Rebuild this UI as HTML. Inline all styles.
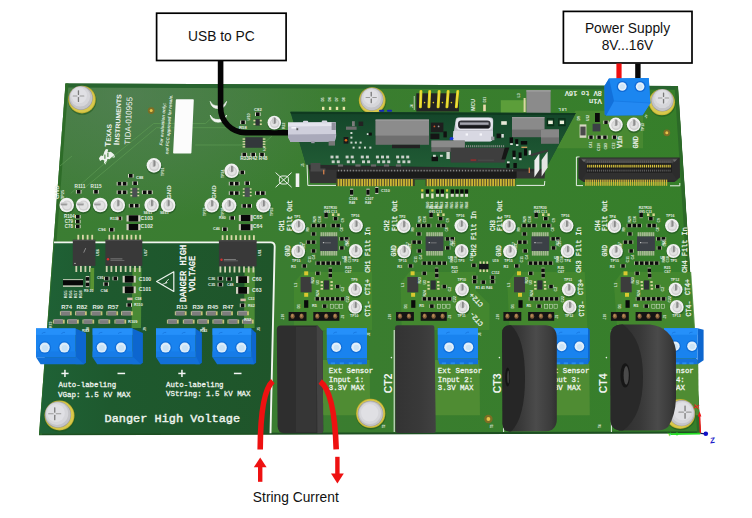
<!DOCTYPE html><html><head><meta charset="utf-8"><title>TIDA-010955 block diagram</title><style>html,body{margin:0;padding:0;background:#fff;overflow:hidden}svg{display:block}</style></head><body><svg width="752" height="518" viewBox="0 0 752 518">
<defs>
<linearGradient id="pcbg" x1="0" y1="0" x2="1" y2="0"><stop offset="0" stop-color="#3b7d33"/><stop offset="0.5" stop-color="#3a7d2f"/><stop offset="1" stop-color="#367f2a"/></linearGradient>
<radialGradient id="hl" gradientUnits="userSpaceOnUse" cx="130" cy="158" r="215" gradientTransform="scale(1 0.6)"><stop offset="0" stop-color="#64826e" stop-opacity="0.5"/><stop offset="0.5" stop-color="#64826e" stop-opacity="0.28"/><stop offset="1" stop-color="#64826e" stop-opacity="0"/></radialGradient>
<linearGradient id="hvg" x1="0" y1="0" x2="1" y2="0"><stop offset="0" stop-color="#1f6236"/><stop offset="0.3" stop-color="#1e592e"/><stop offset="1" stop-color="#1f552a"/></linearGradient>
<linearGradient id="ctg" x1="0" y1="0" x2="1" y2="0"><stop offset="0" stop-color="#262626"/><stop offset="0.55" stop-color="#2f2f2f"/><stop offset="0.85" stop-color="#3e3e3e"/><stop offset="1" stop-color="#2c2c2c"/></linearGradient>
<linearGradient id="ctg2" x1="0" y1="0" x2="1" y2="0"><stop offset="0" stop-color="#3a3a3a"/><stop offset="0.5" stop-color="#4a4a4a"/><stop offset="1" stop-color="#2e2e2e"/></linearGradient>
</defs>
<rect x="0.0" y="0.0" width="752.0" height="518.0" fill="#ffffff" />
<polygon points="65.5,83.6 677.8,86.0 700.6,433.0 39.0,434.8" fill="url(#pcbg)" />
<polygon points="65.5,83.6 677.8,86.0 700.6,433.0 39.0,434.8" fill="url(#hl)" />
<polyline points="39.0,434.3 700.6,432.5" stroke="#1d4f22" stroke-width="2" fill="none"/>
<polyline points="677.1999999999999,86.0 700.0,433.0" stroke="#255f25" stroke-width="1.6" fill="none"/>
<polygon points="65.5,83.6 677.8,86.0 678.0,89.8 65.2,87.4" fill="#28642f" />
<polygon points="677.8,86.0 700.6,433.0 697.2,433.0 674.6,86.0" fill="#2c6a28" />
<polygon points="65.5,83.6 39.0,434.8 42.0,434.8 68.5,83.6" fill="#2d6c28" />
<polygon points="54.5,242.4 270.7,242.4 274.7,246.4 270.5,433.3 39.5,433.6" fill="url(#hvg)" />
<path d="M54.0,242.4 L270.7,242.4 Q274.7,242.4 274.7,246.4 L270.5,433.3" stroke="#f2f5f0" stroke-width="1.9" fill="none"/>
<circle cx="82.3" cy="100.6" r="14.2" fill="#1f561c" opacity="0.55"/>
<circle cx="82.0" cy="99.6" r="13.8" fill="#bfae2e" />
<circle cx="82.0" cy="99.6" r="13.0" fill="#d8c84c" />
<circle cx="80.9" cy="98.0" r="11.9" fill="#9a9a9a" />
<circle cx="80.9" cy="98.0" r="11.4" fill="#c4c4c8" />
<circle cx="80.1" cy="96.6" r="10.0" fill="#d6d6da" />
<circle cx="79.2" cy="95.4" r="7.8" fill="#e0e0e4" />
<rect x="77.8" y="90.2" width="1.3" height="4.9" fill="#7a7a7a" rx="0.5"/>
<rect x="77.8" y="97.1" width="1.3" height="4.9" fill="#7a7a7a" rx="0.5"/>
<rect x="72.6" y="95.5" width="4.9" height="1.1" fill="#9a9a9a" rx="0.5"/>
<rect x="79.5" y="95.5" width="4.9" height="1.1" fill="#9a9a9a" rx="0.5"/>
<text x="110.6" y="146.8" font-family="Liberation Sans,sans-serif" font-size="6.6" fill="#f0f4f0" font-weight="bold" transform="rotate(-87.4 110.6 146.8)" textLength="22.6" lengthAdjust="spacingAndGlyphs"><tspan font-size="8.2">T</tspan>EXAS</text>
<text x="119.2" y="145.2" font-family="Liberation Sans,sans-serif" font-size="6.6" fill="#f0f4f0" font-weight="bold" transform="rotate(-87.4 119.2 145.2)" textLength="51.0" lengthAdjust="spacingAndGlyphs"><tspan font-size="8.2">I</tspan>NSTRUMENTS</text>
<text x="130.2" y="144.7" font-family="Liberation Sans,sans-serif" font-size="8.3" fill="#f0f4f0" transform="rotate(-87.4 130.2 144.7)" textLength="47.7" lengthAdjust="spacingAndGlyphs">TIDA-010955</text>
<polygon points="98.9,158.2 101.0,155.4 103.0,156.1 104.3,151.7 105.9,148.9 108.2,149.6 107.5,152.5 110.8,151.7 112.7,153.3 115.1,155.4 114.3,157.7 111.9,157.3 109.8,159.3 107.5,159.0 106.5,162.2 105.4,164.6 103.9,163.5 104.3,160.6 102.2,159.8 100.1,160.9" fill="#eef3ee"/>
<rect x="104.4" y="154.6" width="1.0" height="4.2" fill="#3a7a33" />
<rect x="107.4" y="153.0" width="1.0" height="4.0" fill="#3a7a33" />
<circle cx="151.2" cy="110.6" r="3.4" fill="#7d6e24" />
<circle cx="151.2" cy="110.6" r="1.5" fill="#e8c24a" />
<g stroke="#5c9a52" stroke-width="0.9" fill="none" opacity="0.8"><path d="M70.7,193.4 L101.9,165.7 L153.7,123.5 L205.6,123.5 L212.5,117"/><path d="M78,193.4 L107,169.2 L156.5,127.7 L243.6,127.7"/><path d="M195.2,145 L262,145 L272,136"/><path d="M60,166 L72,156"/></g>
<polygon points="176.6,100.0 193.0,100.0 190.6,152.7 173.9,152.7" fill="#fcfcfc" stroke="#fcfcfc" stroke-width="1.6" stroke-linejoin="round"/>
<text x="162.6" y="145.6" font-family="Liberation Sans,sans-serif" font-size="4.5" fill="#e3ede3" text-anchor="start" font-weight="bold" transform="rotate(-85.8 162.6 145.6)" font-style="italic" textLength="42.6" lengthAdjust="spacingAndGlyphs">For evaluation only;</text>
<text x="168.2" y="154.2" font-family="Liberation Sans,sans-serif" font-size="4.5" fill="#e3ede3" text-anchor="start" font-weight="bold" transform="rotate(-85.8 168.2 154.2)" font-style="italic" textLength="59.4" lengthAdjust="spacingAndGlyphs">not FCC approved for resale.</text>
<path d="M210.2,101.4 Q211.4,108.60000000000001 218.2,108.60000000000001 Q225.2,108.60000000000001 226.6,101.4 Q224.4,106.0 218.2,106.0 Q212.4,106.0 210.2,101.4 Z" fill="#f3f6f3" stroke="#f3f6f3" stroke-width="0.7" stroke-linejoin="round"/>
<path d="M210.2,115.0 Q211.4,122.2 218.2,122.2 Q225.2,122.2 226.6,115.0 Q224.4,119.6 218.2,119.6 Q212.4,119.6 210.2,115.0 Z" fill="#f3f6f3" stroke="#f3f6f3" stroke-width="0.7" stroke-linejoin="round"/>
<rect x="156.6" y="13.2" width="129.5" height="47.3" fill="#ffffff" stroke="#000" stroke-width="1.7"/>
<text x="221.4" y="41.4" font-family="Liberation Sans,sans-serif" font-size="13.8" fill="#111" text-anchor="middle" font-weight="normal" >USB to PC</text>
<path d="M220.6,60 L220.6,107.7 A25,25 0 0 0 245.6,132.7 L290,132.7" stroke="#050505" stroke-width="5.6" fill="none"/>
<rect x="563.4" y="11.4" width="128.6" height="51.6" fill="#ffffff" stroke="#000" stroke-width="1.7"/>
<text x="627.5" y="32.6" font-family="Liberation Sans,sans-serif" font-size="13.8" fill="#111" text-anchor="middle" font-weight="normal" >Power Supply</text>
<text x="627.5" y="50.2" font-family="Liberation Sans,sans-serif" font-size="13.8" fill="#111" text-anchor="middle" font-weight="normal" >8V...16V</text>
<rect x="616.4" y="63.5" width="5.2" height="16.0" fill="#f01010" />
<rect x="635.2" y="63.5" width="5.4" height="16.0" fill="#080808" />
<circle cx="67.0" cy="205.9" r="8.0" fill="#1c4f1e" opacity="0.55"/>
<circle cx="66.7" cy="205.0" r="7.3" fill="#f1f1f1" />
<circle cx="67.1" cy="205.7" r="5.1" fill="#cfcfcf" />
<circle cx="66.9" cy="205.4" r="3.8" fill="#e2e2e2" />
<rect x="60.5" y="202.4" width="7.0" height="3.4" fill="#b9b9b9" rx="1.6"/>
<rect x="61.1" y="203.5" width="5.6" height="1.2" fill="#8f8f8f" />
<rect x="60.7" y="202.4" width="6.4" height="1.0" fill="#d6d6d6" rx="0.5"/>
<circle cx="83.5" cy="205.9" r="8.0" fill="#1c4f1e" opacity="0.55"/>
<circle cx="83.2" cy="205.0" r="7.3" fill="#f1f1f1" />
<circle cx="83.6" cy="205.7" r="5.1" fill="#cfcfcf" />
<circle cx="83.4" cy="205.4" r="3.8" fill="#e2e2e2" />
<rect x="77.0" y="202.4" width="7.0" height="3.4" fill="#b9b9b9" rx="1.6"/>
<rect x="77.6" y="203.5" width="5.6" height="1.2" fill="#8f8f8f" />
<rect x="77.2" y="202.4" width="6.4" height="1.0" fill="#d6d6d6" rx="0.5"/>
<circle cx="100.5" cy="205.9" r="8.0" fill="#1c4f1e" opacity="0.55"/>
<circle cx="100.2" cy="205.0" r="7.3" fill="#f1f1f1" />
<circle cx="100.6" cy="205.7" r="5.1" fill="#cfcfcf" />
<circle cx="100.4" cy="205.4" r="3.8" fill="#e2e2e2" />
<rect x="94.0" y="202.4" width="7.0" height="3.4" fill="#b9b9b9" rx="1.6"/>
<rect x="94.6" y="203.5" width="5.6" height="1.2" fill="#8f8f8f" />
<rect x="94.2" y="202.4" width="6.4" height="1.0" fill="#d6d6d6" rx="0.5"/>
<circle cx="118.1" cy="205.9" r="8.0" fill="#1c4f1e" opacity="0.55"/>
<circle cx="117.8" cy="205.0" r="7.3" fill="#f1f1f1" />
<circle cx="118.2" cy="205.7" r="5.1" fill="#cfcfcf" />
<circle cx="118.0" cy="205.4" r="3.8" fill="#e2e2e2" />
<rect x="115.9" y="199.6" width="3.8" height="6.8" fill="#a6a6a6" rx="1.7"/>
<rect x="117.3" y="200.2" width="1.5" height="5.6" fill="#8a8a8a" rx="0.6"/>
<rect x="116.0" y="199.8" width="1.2" height="6.2" fill="#d9d9d9" rx="0.6"/>
<circle cx="151.9" cy="205.9" r="8.0" fill="#1c4f1e" opacity="0.55"/>
<circle cx="151.6" cy="205.0" r="7.3" fill="#f1f1f1" />
<circle cx="152.0" cy="205.7" r="5.1" fill="#cfcfcf" />
<circle cx="151.8" cy="205.4" r="3.8" fill="#e2e2e2" />
<rect x="149.7" y="199.6" width="3.8" height="6.8" fill="#a6a6a6" rx="1.7"/>
<rect x="151.1" y="200.2" width="1.5" height="5.6" fill="#8a8a8a" rx="0.6"/>
<rect x="149.8" y="199.8" width="1.2" height="6.2" fill="#d9d9d9" rx="0.6"/>
<circle cx="168.4" cy="205.9" r="8.0" fill="#1c4f1e" opacity="0.55"/>
<circle cx="168.1" cy="205.0" r="7.3" fill="#f1f1f1" />
<circle cx="168.5" cy="205.7" r="5.1" fill="#cfcfcf" />
<circle cx="168.3" cy="205.4" r="3.8" fill="#e2e2e2" />
<rect x="166.2" y="199.6" width="3.8" height="6.8" fill="#a6a6a6" rx="1.7"/>
<rect x="167.6" y="200.2" width="1.5" height="5.6" fill="#8a8a8a" rx="0.6"/>
<rect x="166.3" y="199.8" width="1.2" height="6.2" fill="#d9d9d9" rx="0.6"/>
<circle cx="154.2" cy="166.3" r="8.0" fill="#1c4f1e" opacity="0.55"/>
<circle cx="153.9" cy="165.4" r="7.3" fill="#f1f1f1" />
<circle cx="154.3" cy="166.1" r="5.1" fill="#cfcfcf" />
<circle cx="154.1" cy="165.8" r="3.8" fill="#e2e2e2" />
<rect x="152.0" y="160.0" width="3.8" height="6.8" fill="#a6a6a6" rx="1.7"/>
<rect x="153.4" y="160.6" width="1.5" height="5.6" fill="#8a8a8a" rx="0.6"/>
<rect x="152.1" y="160.2" width="1.2" height="6.2" fill="#d9d9d9" rx="0.6"/>
<rect x="75.9" y="190.0" width="5.6" height="3.6" fill="#d8d8c8" />
<rect x="76.9" y="190.0" width="3.6" height="3.6" fill="#0b0b0b" />
<rect x="93.2" y="190.0" width="5.6" height="3.6" fill="#d8d8c8" />
<rect x="94.2" y="190.0" width="3.6" height="3.6" fill="#0b0b0b" />
<rect x="116.7" y="181.9" width="5.6" height="3.6" fill="#d8d8c8" />
<rect x="117.7" y="181.9" width="3.6" height="3.6" fill="#0b0b0b" />
<rect x="121.8" y="181.9" width="5.6" height="3.6" fill="#d8d8c8" />
<rect x="122.8" y="181.9" width="3.6" height="3.6" fill="#0b0b0b" />
<rect x="116.7" y="190.5" width="5.6" height="3.6" fill="#d8d8c8" />
<rect x="117.7" y="190.5" width="3.6" height="3.6" fill="#0b0b0b" />
<rect x="121.8" y="190.5" width="5.6" height="3.6" fill="#d8d8c8" />
<rect x="122.8" y="190.5" width="3.6" height="3.6" fill="#0b0b0b" />
<rect x="128.0" y="174.0" width="5.6" height="3.6" fill="#d8d8c8" />
<rect x="129.0" y="174.0" width="3.6" height="3.6" fill="#0b0b0b" />
<rect x="132.3" y="181.4" width="5.6" height="3.6" fill="#d8d8c8" />
<rect x="133.3" y="181.4" width="3.6" height="3.6" fill="#0b0b0b" />
<rect x="141.9" y="190.5" width="5.6" height="3.6" fill="#d8d8c8" />
<rect x="142.9" y="190.5" width="3.6" height="3.6" fill="#0b0b0b" />
<rect x="147.1" y="190.5" width="5.6" height="3.6" fill="#d8d8c8" />
<rect x="148.1" y="190.5" width="3.6" height="3.6" fill="#0b0b0b" />
<rect x="128.8" y="203.9" width="5.6" height="3.6" fill="#d8d8c8" />
<rect x="129.8" y="203.9" width="3.6" height="3.6" fill="#0b0b0b" />
<rect x="134.0" y="203.9" width="5.6" height="3.6" fill="#d8d8c8" />
<rect x="135.0" y="203.9" width="3.6" height="3.6" fill="#0b0b0b" />
<rect x="116.7" y="216.6" width="5.6" height="3.6" fill="#d8d8c8" />
<rect x="117.7" y="216.6" width="3.6" height="3.6" fill="#0b0b0b" />
<rect x="108.9" y="227.9" width="5.6" height="3.6" fill="#d8d8c8" />
<rect x="109.9" y="227.9" width="3.6" height="3.6" fill="#0b0b0b" />
<rect x="75.0" y="215.0" width="5.6" height="3.4" fill="#d8d8c8" />
<rect x="76.0" y="215.0" width="3.6" height="3.4" fill="#0b0b0b" />
<rect x="75.0" y="219.9" width="5.6" height="3.4" fill="#d8d8c8" />
<rect x="76.0" y="219.9" width="3.6" height="3.4" fill="#0b0b0b" />
<rect x="75.0" y="224.8" width="5.6" height="3.4" fill="#d8d8c8" />
<rect x="76.0" y="224.8" width="3.6" height="3.4" fill="#0b0b0b" />
<rect x="132.2" y="187.8" width="5.2" height="9.4" fill="#4a4f52" />
<rect x="130.4" y="188.3" width="1.8" height="1.4" fill="#d9d7a8" />
<rect x="137.4" y="188.3" width="1.8" height="1.4" fill="#d9d7a8" />
<rect x="130.4" y="191.6" width="1.8" height="1.4" fill="#d9d7a8" />
<rect x="137.4" y="191.6" width="1.8" height="1.4" fill="#d9d7a8" />
<rect x="130.4" y="194.9" width="1.8" height="1.4" fill="#d9d7a8" />
<rect x="137.4" y="194.9" width="1.8" height="1.4" fill="#d9d7a8" />
<rect x="126.5" y="215.3" width="13.9" height="6.2" fill="#cfcfbf" />
<rect x="128.7" y="215.3" width="9.5" height="6.2" fill="#080808" />
<rect x="126.5" y="224.0" width="13.9" height="6.2" fill="#cfcfbf" />
<rect x="128.7" y="224.0" width="9.5" height="6.2" fill="#080808" />
<text x="59.0" y="199.0" font-family="Liberation Sans,sans-serif" font-size="6.14" fill="#e4ece4" text-anchor="start" font-weight="bold" transform="rotate(-90 59.0 199.0)" >GND</text>
<text x="63.5" y="199.0" font-family="Liberation Sans,sans-serif" font-size="3.78" fill="#e4ece4" text-anchor="start" font-weight="bold" transform="rotate(-90 63.5 199.0)" >TP25</text>
<text x="74.6" y="188.2" font-family="Liberation Sans,sans-serif" font-size="4.72" fill="#e4ece4" text-anchor="start" font-weight="bold" >R111</text>
<text x="90.6" y="188.2" font-family="Liberation Sans,sans-serif" font-size="4.72" fill="#e4ece4" text-anchor="start" font-weight="bold" >R115</text>
<text x="140.5" y="219.6" font-family="Liberation Sans,sans-serif" font-size="5.19" fill="#e4ece4" text-anchor="start" font-weight="bold" >C103</text>
<text x="140.5" y="228.4" font-family="Liberation Sans,sans-serif" font-size="5.19" fill="#e4ece4" text-anchor="start" font-weight="bold" >C102</text>
<text x="98.0" y="231.0" font-family="Liberation Sans,sans-serif" font-size="4.25" fill="#e4ece4" text-anchor="start" font-weight="bold" >C96</text>
<text x="110.0" y="219.6" font-family="Liberation Sans,sans-serif" font-size="3.78" fill="#e4ece4" text-anchor="start" font-weight="bold" >R138</text>
<text x="64.0" y="218.4" font-family="Liberation Sans,sans-serif" font-size="4.48" fill="#e4ece4" text-anchor="start" font-weight="bold" >R104</text>
<text x="64.8" y="223.4" font-family="Liberation Sans,sans-serif" font-size="4.48" fill="#e4ece4" text-anchor="start" font-weight="bold" >C79</text>
<text x="64.8" y="228.2" font-family="Liberation Sans,sans-serif" font-size="4.48" fill="#e4ece4" text-anchor="start" font-weight="bold" >C78</text>
<text x="136.0" y="179.0" font-family="Liberation Sans,sans-serif" font-size="4.01" fill="#e4ece4" text-anchor="start" font-weight="bold" >C88</text>
<text x="160.0" y="214.0" font-family="Liberation Sans,sans-serif" font-size="3.54" fill="#e4ece4" text-anchor="start" font-weight="bold" >SE61</text>
<text x="143.5" y="214.0" font-family="Liberation Sans,sans-serif" font-size="3.54" fill="#e4ece4" text-anchor="start" font-weight="bold" >SE61</text>
<text x="163.5" y="176.0" font-family="Liberation Sans,sans-serif" font-size="3.54" fill="#e4ece4" text-anchor="start" font-weight="bold" transform="rotate(-90 163.5 176.0)" >TP31</text>
<text x="170.5" y="199.0" font-family="Liberation Sans,sans-serif" font-size="6.14" fill="#e4ece4" text-anchor="start" font-weight="bold" transform="rotate(-90 170.5 199.0)" >GND</text>
<circle cx="212.0" cy="206.2" r="8.0" fill="#1c4f1e" opacity="0.55"/>
<circle cx="211.7" cy="205.3" r="7.3" fill="#f1f1f1" />
<circle cx="212.1" cy="206.0" r="5.1" fill="#cfcfcf" />
<circle cx="211.9" cy="205.7" r="3.8" fill="#e2e2e2" />
<rect x="209.8" y="199.9" width="3.8" height="6.8" fill="#a6a6a6" rx="1.7"/>
<rect x="211.2" y="200.5" width="1.5" height="5.6" fill="#8a8a8a" rx="0.6"/>
<rect x="209.9" y="200.1" width="1.2" height="6.2" fill="#d9d9d9" rx="0.6"/>
<circle cx="229.4" cy="206.2" r="8.0" fill="#1c4f1e" opacity="0.55"/>
<circle cx="229.1" cy="205.3" r="7.3" fill="#f1f1f1" />
<circle cx="229.5" cy="206.0" r="5.1" fill="#cfcfcf" />
<circle cx="229.3" cy="205.7" r="3.8" fill="#e2e2e2" />
<rect x="227.2" y="199.9" width="3.8" height="6.8" fill="#a6a6a6" rx="1.7"/>
<rect x="228.6" y="200.5" width="1.5" height="5.6" fill="#8a8a8a" rx="0.6"/>
<rect x="227.3" y="200.1" width="1.2" height="6.2" fill="#d9d9d9" rx="0.6"/>
<circle cx="263.7" cy="206.2" r="8.0" fill="#1c4f1e" opacity="0.55"/>
<circle cx="263.4" cy="205.3" r="7.3" fill="#f1f1f1" />
<circle cx="263.8" cy="206.0" r="5.1" fill="#cfcfcf" />
<circle cx="263.6" cy="205.7" r="3.8" fill="#e2e2e2" />
<rect x="261.5" y="199.9" width="3.8" height="6.8" fill="#a6a6a6" rx="1.7"/>
<rect x="262.9" y="200.5" width="1.5" height="5.6" fill="#8a8a8a" rx="0.6"/>
<rect x="261.6" y="200.1" width="1.2" height="6.2" fill="#d9d9d9" rx="0.6"/>
<circle cx="231.9" cy="171.7" r="8.0" fill="#1c4f1e" opacity="0.55"/>
<circle cx="231.6" cy="170.8" r="7.3" fill="#f1f1f1" />
<circle cx="232.0" cy="171.5" r="5.1" fill="#cfcfcf" />
<circle cx="231.8" cy="171.2" r="3.8" fill="#e2e2e2" />
<rect x="229.7" y="165.4" width="3.8" height="6.8" fill="#a6a6a6" rx="1.7"/>
<rect x="231.1" y="166.0" width="1.5" height="5.6" fill="#8a8a8a" rx="0.6"/>
<rect x="229.8" y="165.6" width="1.2" height="6.2" fill="#d9d9d9" rx="0.6"/>
<rect x="241.5" y="152.8" width="5.6" height="3.6" fill="#d8d8c8" />
<rect x="242.5" y="152.8" width="3.6" height="3.6" fill="#0b0b0b" />
<rect x="250.4" y="152.8" width="5.6" height="3.6" fill="#d8d8c8" />
<rect x="251.4" y="152.8" width="3.6" height="3.6" fill="#0b0b0b" />
<rect x="259.2" y="152.8" width="5.6" height="3.6" fill="#d8d8c8" />
<rect x="260.2" y="152.8" width="3.6" height="3.6" fill="#0b0b0b" />
<rect x="239.5" y="170.6" width="5.6" height="3.6" fill="#d8d8c8" />
<rect x="240.5" y="170.6" width="3.6" height="3.6" fill="#0b0b0b" />
<rect x="228.8" y="181.8" width="5.6" height="3.6" fill="#d8d8c8" />
<rect x="229.8" y="181.8" width="3.6" height="3.6" fill="#0b0b0b" />
<rect x="234.0" y="181.8" width="5.6" height="3.6" fill="#d8d8c8" />
<rect x="235.0" y="181.8" width="3.6" height="3.6" fill="#0b0b0b" />
<rect x="228.8" y="191.3" width="5.6" height="3.6" fill="#d8d8c8" />
<rect x="229.8" y="191.3" width="3.6" height="3.6" fill="#0b0b0b" />
<rect x="234.0" y="191.3" width="5.6" height="3.6" fill="#d8d8c8" />
<rect x="235.0" y="191.3" width="3.6" height="3.6" fill="#0b0b0b" />
<rect x="244.4" y="181.4" width="5.6" height="3.6" fill="#d8d8c8" />
<rect x="245.4" y="181.4" width="3.6" height="3.6" fill="#0b0b0b" />
<rect x="255.1" y="191.3" width="5.6" height="3.6" fill="#d8d8c8" />
<rect x="256.1" y="191.3" width="3.6" height="3.6" fill="#0b0b0b" />
<rect x="260.0" y="191.3" width="5.6" height="3.6" fill="#d8d8c8" />
<rect x="261.0" y="191.3" width="3.6" height="3.6" fill="#0b0b0b" />
<rect x="241.5" y="204.1" width="5.6" height="3.6" fill="#d8d8c8" />
<rect x="242.5" y="204.1" width="3.6" height="3.6" fill="#0b0b0b" />
<rect x="246.4" y="204.1" width="5.6" height="3.6" fill="#d8d8c8" />
<rect x="247.4" y="204.1" width="3.6" height="3.6" fill="#0b0b0b" />
<rect x="229.4" y="216.2" width="5.6" height="3.6" fill="#d8d8c8" />
<rect x="230.4" y="216.2" width="3.6" height="3.6" fill="#0b0b0b" />
<rect x="222.1" y="227.4" width="5.6" height="3.6" fill="#d8d8c8" />
<rect x="223.1" y="227.4" width="3.6" height="3.6" fill="#0b0b0b" />
<rect x="244.6" y="187.6" width="5.2" height="9.4" fill="#4a4f52" />
<rect x="242.8" y="188.3" width="1.8" height="1.4" fill="#d9d7a8" />
<rect x="249.8" y="188.3" width="1.8" height="1.4" fill="#d9d7a8" />
<rect x="242.8" y="191.6" width="1.8" height="1.4" fill="#d9d7a8" />
<rect x="249.8" y="191.6" width="1.8" height="1.4" fill="#d9d7a8" />
<rect x="242.8" y="194.9" width="1.8" height="1.4" fill="#d9d7a8" />
<rect x="249.8" y="194.9" width="1.8" height="1.4" fill="#d9d7a8" />
<rect x="238.8" y="214.9" width="13.9" height="6.2" fill="#cfcfbf" />
<rect x="240.9" y="214.9" width="9.5" height="6.2" fill="#080808" />
<rect x="238.8" y="224.1" width="13.9" height="6.2" fill="#cfcfbf" />
<rect x="240.9" y="224.1" width="9.5" height="6.2" fill="#080808" />
<text x="215.8" y="199.0" font-family="Liberation Sans,sans-serif" font-size="6.14" fill="#e4ece4" text-anchor="start" font-weight="bold" transform="rotate(-90 215.8 199.0)" >GND</text>
<text x="252.8" y="219.2" font-family="Liberation Sans,sans-serif" font-size="5.19" fill="#e4ece4" text-anchor="start" font-weight="bold" >C65</text>
<text x="252.8" y="228.4" font-family="Liberation Sans,sans-serif" font-size="5.19" fill="#e4ece4" text-anchor="start" font-weight="bold" >C64</text>
<text x="219.0" y="219.2" font-family="Liberation Sans,sans-serif" font-size="3.78" fill="#e4ece4" text-anchor="start" font-weight="bold" >R80</text>
<text x="213.0" y="230.4" font-family="Liberation Sans,sans-serif" font-size="3.78" fill="#e4ece4" text-anchor="start" font-weight="bold" >C46</text>
<text x="240.2" y="160.4" font-family="Liberation Sans,sans-serif" font-size="4.72" fill="#e4ece4" text-anchor="start" font-weight="bold" >R33R42 R48</text>
<text x="206.0" y="216.0" font-family="Liberation Sans,sans-serif" font-size="3.54" fill="#e4ece4" text-anchor="start" font-weight="bold" transform="rotate(-90 206.0 216.0)" >TP23</text>
<text x="223.5" y="216.0" font-family="Liberation Sans,sans-serif" font-size="3.54" fill="#e4ece4" text-anchor="start" font-weight="bold" transform="rotate(-90 223.5 216.0)" >TP26</text>
<text x="273.0" y="216.0" font-family="Liberation Sans,sans-serif" font-size="3.54" fill="#e4ece4" text-anchor="start" font-weight="bold" transform="rotate(-90 273.0 216.0)" >TP33</text>
<text x="224.0" y="178.0" font-family="Liberation Sans,sans-serif" font-size="3.54" fill="#e4ece4" text-anchor="start" font-weight="bold" transform="rotate(-90 224.0 178.0)" >TP24</text>
<rect x="245.2" y="137.2" width="17.6" height="10.6" fill="#33383b" />
<rect x="242.6" y="138.4" width="2.6" height="1.3" fill="#d9d7a8" />
<rect x="262.8" y="138.4" width="2.6" height="1.3" fill="#d9d7a8" />
<rect x="242.6" y="141.0" width="2.6" height="1.3" fill="#d9d7a8" />
<rect x="262.8" y="141.0" width="2.6" height="1.3" fill="#d9d7a8" />
<rect x="242.6" y="143.6" width="2.6" height="1.3" fill="#d9d7a8" />
<rect x="262.8" y="143.6" width="2.6" height="1.3" fill="#d9d7a8" />
<rect x="242.6" y="146.2" width="2.6" height="1.3" fill="#d9d7a8" />
<rect x="262.8" y="146.2" width="2.6" height="1.3" fill="#d9d7a8" />
<rect x="240.2" y="120.5" width="5.6" height="3.6" fill="#d8d8c8" />
<rect x="241.2" y="120.5" width="3.6" height="3.6" fill="#0b0b0b" />
<rect x="255.0" y="112.4" width="5.6" height="3.6" fill="#d8d8c8" />
<rect x="256.0" y="112.4" width="3.6" height="3.6" fill="#0b0b0b" />
<rect x="255.4" y="119.2" width="4.4" height="6.4" fill="#2e3236" />
<rect x="253.4" y="119.8" width="2.0" height="1.6" fill="#d9d7a0" />
<rect x="259.8" y="119.8" width="2.0" height="1.6" fill="#d9d7a0" />
<rect x="253.4" y="123.4" width="2.0" height="1.6" fill="#d9d7a0" />
<rect x="259.8" y="123.4" width="2.0" height="1.6" fill="#d9d7a0" />
<text x="239.0" y="128.6" font-family="Liberation Sans,sans-serif" font-size="4.25" fill="#e4ece4" text-anchor="start" font-weight="bold" >R58</text>
<text x="250.4" y="120.5" font-family="Liberation Sans,sans-serif" font-size="4.01" fill="#e4ece4" text-anchor="start" font-weight="bold" transform="rotate(-90 250.4 120.5)" >U10</text>
<text x="254.0" y="111.0" font-family="Liberation Sans,sans-serif" font-size="4.25" fill="#e4ece4" text-anchor="start" font-weight="bold" >C82</text>
<circle cx="274.6" cy="123.5" r="7.5" fill="#1c4f1e" opacity="0.55"/>
<circle cx="274.3" cy="122.6" r="6.8" fill="#f1f1f1" />
<circle cx="274.7" cy="123.3" r="4.8" fill="#cfcfcf" />
<circle cx="274.5" cy="123.0" r="3.5" fill="#e2e2e2" />
<rect x="272.4" y="117.2" width="3.8" height="6.8" fill="#a6a6a6" rx="1.7"/>
<rect x="273.8" y="117.8" width="1.5" height="5.6" fill="#8a8a8a" rx="0.6"/>
<rect x="272.5" y="117.4" width="1.2" height="6.2" fill="#d9d9d9" rx="0.6"/>
<text x="284.5" y="129.0" font-family="Liberation Sans,sans-serif" font-size="3.54" fill="#e4ece4" text-anchor="start" font-weight="bold" transform="rotate(-90 284.5 129.0)" >R22</text>
<text x="265.0" y="151.5" font-family="Liberation Sans,sans-serif" font-size="3.3" fill="#e4ece4" text-anchor="start" font-weight="bold" transform="rotate(-70 265.0 151.5)" >U7</text>
<g stroke="#e9efe9" stroke-width="1.0" fill="none"><path d="M275.6,172.6 L291.6,187.2"/><path d="M291.6,172.6 L275.6,187.2"/><rect x="279.4" y="176.0" width="9" height="8" rx="2.5"/></g>
<rect x="295.7" y="173.4" width="3.6" height="13.6" fill="#f2f2f2" />
<polygon points="132.5,268.0 141.5,268.0 141.0,328.0 131.6,328.0" fill="#4a8a35" />
<polygon points="244.6,268.0 255.0,268.0 254.6,328.0 244.0,328.0" fill="#4a8a35" />
<rect x="77.4" y="234.8" width="1.8" height="5.4" fill="#d9d7a8" />
<rect x="82.0" y="234.8" width="1.8" height="5.4" fill="#d9d7a8" />
<rect x="86.7" y="234.8" width="1.8" height="5.4" fill="#d9d7a8" />
<rect x="91.3" y="234.8" width="1.8" height="5.4" fill="#d9d7a8" />
<rect x="75.4" y="265.5" width="1.8" height="6.5" fill="#cfcfb0" />
<rect x="80.0" y="265.5" width="1.8" height="6.5" fill="#cfcfb0" />
<rect x="84.5" y="265.5" width="1.8" height="6.5" fill="#cfcfb0" />
<rect x="89.1" y="265.5" width="1.8" height="6.5" fill="#cfcfb0" />
<rect x="72.8" y="239.8" width="22.6" height="26.1" fill="#393939" />
<rect x="72.8" y="239.8" width="22.6" height="1.2" fill="#4a4a4a" />
<circle cx="75.0" cy="263.4" r="0.6" fill="#ddd" />
<rect x="84.5" y="248.0" width="0.8" height="5.0" fill="#999" transform="rotate(25 85 250)"/>
<rect x="108.4" y="234.8" width="1.8" height="5.4" fill="#d9d7a8" />
<rect x="112.8" y="234.8" width="1.8" height="5.4" fill="#d9d7a8" />
<rect x="117.2" y="234.8" width="1.8" height="5.4" fill="#d9d7a8" />
<rect x="121.6" y="234.8" width="1.8" height="5.4" fill="#d9d7a8" />
<rect x="126.1" y="234.8" width="1.8" height="5.4" fill="#d9d7a8" />
<rect x="130.5" y="234.8" width="1.8" height="5.4" fill="#d9d7a8" />
<rect x="134.9" y="234.8" width="1.8" height="5.4" fill="#d9d7a8" />
<rect x="139.3" y="234.8" width="1.8" height="5.4" fill="#d9d7a8" />
<rect x="105.8" y="265.5" width="1.8" height="6.5" fill="#cfcfb0" />
<rect x="110.5" y="265.5" width="1.8" height="6.5" fill="#cfcfb0" />
<rect x="115.2" y="265.5" width="1.8" height="6.5" fill="#cfcfb0" />
<rect x="119.9" y="265.5" width="1.8" height="6.5" fill="#cfcfb0" />
<rect x="124.7" y="265.5" width="1.8" height="6.5" fill="#cfcfb0" />
<rect x="129.4" y="265.5" width="1.8" height="6.5" fill="#cfcfb0" />
<rect x="134.1" y="265.5" width="1.8" height="6.5" fill="#cfcfb0" />
<rect x="138.8" y="265.5" width="1.8" height="6.5" fill="#cfcfb0" />
<rect x="105.4" y="239.8" width="36.9" height="26.1" fill="#393939" />
<rect x="105.4" y="239.8" width="36.9" height="1.2" fill="#4a4a4a" />
<circle cx="108.0" cy="259.3" r="1.2" fill="#d83030" />
<rect x="110.4" y="258.5" width="12.0" height="0.8" fill="#8a8a8a" />
<rect x="110.4" y="260.0" width="14.0" height="0.7" fill="#777" />
<rect x="221.7" y="235.2" width="1.8" height="5.4" fill="#d9d7a8" />
<rect x="226.2" y="235.2" width="1.8" height="5.4" fill="#d9d7a8" />
<rect x="230.6" y="235.2" width="1.8" height="5.4" fill="#d9d7a8" />
<rect x="235.1" y="235.2" width="1.8" height="5.4" fill="#d9d7a8" />
<rect x="239.6" y="235.2" width="1.8" height="5.4" fill="#d9d7a8" />
<rect x="244.1" y="235.2" width="1.8" height="5.4" fill="#d9d7a8" />
<rect x="248.5" y="235.2" width="1.8" height="5.4" fill="#d9d7a8" />
<rect x="253.0" y="235.2" width="1.8" height="5.4" fill="#d9d7a8" />
<rect x="219.5" y="266.0" width="1.8" height="6.5" fill="#cfcfb0" />
<rect x="224.2" y="266.0" width="1.8" height="6.5" fill="#cfcfb0" />
<rect x="228.9" y="266.0" width="1.8" height="6.5" fill="#cfcfb0" />
<rect x="233.6" y="266.0" width="1.8" height="6.5" fill="#cfcfb0" />
<rect x="238.4" y="266.0" width="1.8" height="6.5" fill="#cfcfb0" />
<rect x="243.1" y="266.0" width="1.8" height="6.5" fill="#cfcfb0" />
<rect x="247.8" y="266.0" width="1.8" height="6.5" fill="#cfcfb0" />
<rect x="252.5" y="266.0" width="1.8" height="6.5" fill="#cfcfb0" />
<rect x="218.9" y="240.2" width="37.7" height="26.2" fill="#393939" />
<rect x="218.9" y="240.2" width="37.7" height="1.2" fill="#4a4a4a" />
<circle cx="221.5" cy="259.8" r="1.2" fill="#d83030" />
<rect x="223.9" y="259.0" width="12.0" height="0.8" fill="#8a8a8a" />
<rect x="223.9" y="260.5" width="14.0" height="0.7" fill="#777" />
<text x="98.5" y="256.0" font-family="Liberation Sans,sans-serif" font-size="3.78" fill="#e4ece4" text-anchor="start" font-weight="bold" transform="rotate(-90 98.5 256.0)" >U16</text>
<text x="146.5" y="256.0" font-family="Liberation Sans,sans-serif" font-size="3.78" fill="#e4ece4" text-anchor="start" font-weight="bold" transform="rotate(-90 146.5 256.0)" >U17</text>
<text x="261.0" y="256.0" font-family="Liberation Sans,sans-serif" font-size="3.78" fill="#e4ece4" text-anchor="start" font-weight="bold" transform="rotate(-90 261.0 256.0)" >U11</text>
<polygon points="90.4,268.0 94.2,268.0 94.0,290.0 90.2,290.0" fill="#5a9432" />
<rect x="63.0" y="279.2" width="20.0" height="1.2" fill="#d8d8c8" />
<rect x="63.0" y="285.2" width="20.0" height="1.6" fill="#d8d8c8" />
<rect x="63.0" y="280.2" width="20.0" height="5.1" fill="#080808" />
<text x="67.4" y="298.2" font-family="Liberation Sans,sans-serif" font-size="4.25" fill="#e4ece4" text-anchor="start" font-weight="bold" transform="rotate(-90 67.4 298.2)" >R55</text>
<text x="72.4" y="298.2" font-family="Liberation Sans,sans-serif" font-size="4.25" fill="#e4ece4" text-anchor="start" font-weight="bold" transform="rotate(-90 72.4 298.2)" >R56</text>
<text x="77.4" y="298.2" font-family="Liberation Sans,sans-serif" font-size="4.25" fill="#e4ece4" text-anchor="start" font-weight="bold" transform="rotate(-90 77.4 298.2)" >R57</text>
<text x="82.4" y="298.2" font-family="Liberation Sans,sans-serif" font-size="4.25" fill="#e4ece4" text-anchor="start" font-weight="bold" transform="rotate(-90 82.4 298.2)" >R58</text>
<rect x="85.7" y="276.1" width="3.6" height="5.6" fill="#d8d8c8" />
<rect x="85.7" y="277.1" width="3.6" height="3.6" fill="#0b0b0b" />
<rect x="85.7" y="281.6" width="3.6" height="5.6" fill="#d8d8c8" />
<rect x="85.7" y="282.6" width="3.6" height="3.6" fill="#0b0b0b" />
<rect x="103.9" y="276.7" width="5.6" height="3.6" fill="#d8d8c8" />
<rect x="104.9" y="276.7" width="3.6" height="3.6" fill="#0b0b0b" />
<rect x="112.5" y="276.7" width="5.6" height="3.6" fill="#d8d8c8" />
<rect x="113.5" y="276.7" width="3.6" height="3.6" fill="#0b0b0b" />
<rect x="103.3" y="282.3" width="5.6" height="3.6" fill="#d8d8c8" />
<rect x="104.3" y="282.3" width="3.6" height="3.6" fill="#0b0b0b" />
<rect x="122.6" y="275.8" width="13.2" height="6.8" fill="#cfcfbf" />
<rect x="124.8" y="275.8" width="8.8" height="6.8" fill="#080808" />
<rect x="122.6" y="286.4" width="13.2" height="6.8" fill="#cfcfbf" />
<rect x="124.8" y="286.4" width="8.8" height="6.8" fill="#080808" />
<rect x="127.2" y="297.6" width="5.4" height="2.6" fill="#d8b8a8" />
<rect x="126.4" y="303.2" width="5.6" height="3.6" fill="#d8d8c8" />
<rect x="127.4" y="303.2" width="3.6" height="3.6" fill="#0b0b0b" />
<text x="138.8" y="280.6" font-family="Liberation Sans,sans-serif" font-size="5.19" fill="#e4ece4" text-anchor="start" font-weight="bold" >C100</text>
<text x="138.8" y="291.2" font-family="Liberation Sans,sans-serif" font-size="5.19" fill="#e4ece4" text-anchor="start" font-weight="bold" >C101</text>
<text x="100.5" y="291.5" font-family="Liberation Sans,sans-serif" font-size="4.01" fill="#e4ece4" text-anchor="start" font-weight="bold" >C94</text>
<text x="84.0" y="291.5" font-family="Liberation Sans,sans-serif" font-size="3.54" fill="#e4ece4" text-anchor="start" font-weight="bold" >R9 20</text>
<text x="135.0" y="300.2" font-family="Liberation Sans,sans-serif" font-size="3.54" fill="#e4ece4" text-anchor="start" font-weight="bold" >C58</text>
<text x="134.0" y="306.4" font-family="Liberation Sans,sans-serif" font-size="3.78" fill="#e4ece4" text-anchor="start" font-weight="bold" >R110</text>
<text x="97.0" y="279.0" font-family="Liberation Sans,sans-serif" font-size="3.54" fill="#e4ece4" text-anchor="start" font-weight="bold" >C95</text>
<rect x="217.6" y="276.8" width="5.6" height="3.6" fill="#d8d8c8" />
<rect x="218.6" y="276.8" width="3.6" height="3.6" fill="#0b0b0b" />
<rect x="217.6" y="282.8" width="5.6" height="3.6" fill="#d8d8c8" />
<rect x="218.6" y="282.8" width="3.6" height="3.6" fill="#0b0b0b" />
<rect x="226.2" y="277.2" width="5.6" height="3.6" fill="#d8d8c8" />
<rect x="227.2" y="277.2" width="3.6" height="3.6" fill="#0b0b0b" />
<rect x="236.0" y="276.2" width="13.2" height="6.8" fill="#cfcfbf" />
<rect x="238.2" y="276.2" width="8.8" height="6.8" fill="#080808" />
<rect x="236.0" y="287.0" width="13.2" height="6.8" fill="#cfcfbf" />
<rect x="238.2" y="287.0" width="8.8" height="6.8" fill="#080808" />
<rect x="240.4" y="298.6" width="5.4" height="2.6" fill="#d8b8a8" />
<rect x="239.8" y="303.6" width="5.6" height="3.6" fill="#d8d8c8" />
<rect x="240.8" y="303.6" width="3.6" height="3.6" fill="#0b0b0b" />
<text x="252.0" y="281.0" font-family="Liberation Sans,sans-serif" font-size="5.19" fill="#e4ece4" text-anchor="start" font-weight="bold" >C60</text>
<text x="252.0" y="291.8" font-family="Liberation Sans,sans-serif" font-size="5.19" fill="#e4ece4" text-anchor="start" font-weight="bold" >C63</text>
<text x="248.0" y="300.4" font-family="Liberation Sans,sans-serif" font-size="3.54" fill="#e4ece4" text-anchor="start" font-weight="bold" >C53</text>
<text x="248.0" y="306.6" font-family="Liberation Sans,sans-serif" font-size="3.78" fill="#e4ece4" text-anchor="start" font-weight="bold" >R62</text>
<text x="208.0" y="279.6" font-family="Liberation Sans,sans-serif" font-size="4.01" fill="#e4ece4" text-anchor="start" font-weight="bold" >C36</text>
<text x="208.0" y="285.6" font-family="Liberation Sans,sans-serif" font-size="4.01" fill="#e4ece4" text-anchor="start" font-weight="bold" >C35</text>
<text x="227.0" y="285.6" font-family="Liberation Sans,sans-serif" font-size="3.54" fill="#e4ece4" text-anchor="start" font-weight="bold" >C48</text>
<text x="186.4" y="302.2" font-family="Liberation Mono,monospace" font-size="8.6" fill="#fff" text-anchor="start" font-weight="normal" transform="rotate(-90 186.4 302.2)" textLength="57.5" lengthAdjust="spacingAndGlyphs" stroke="#fff" stroke-width="0.31">DANGER HIGH</text>
<text x="195.4" y="291.6" font-family="Liberation Mono,monospace" font-size="8.6" fill="#fff" text-anchor="start" font-weight="normal" transform="rotate(-90 195.4 291.6)" textLength="35.6" lengthAdjust="spacingAndGlyphs" stroke="#fff" stroke-width="0.31">VOLTAGE</text>
<g stroke="#eef3ee" stroke-width="1.2" fill="none" stroke-linejoin="round"><path d="M156.6,281.5 L173.8,271.8 L173.8,291.4 Z"/><path d="M168.8,279 L165.5,282.6 L167.2,282.6 L161.8,284.6" stroke-width="0.8"/></g>
<rect x="61.1" y="310.9" width="8.8" height="4.8" fill="#7d7d7d" />
<rect x="61.1" y="310.9" width="8.8" height="1.1" fill="#969696" />
<rect x="69.9" y="311.3" width="1.8" height="4.0" fill="#c9c27a" />
<rect x="59.9" y="311.3" width="1.2" height="4.0" fill="#b9b98a" />
<rect x="76.2" y="310.9" width="8.8" height="4.8" fill="#7d7d7d" />
<rect x="76.2" y="310.9" width="8.8" height="1.1" fill="#969696" />
<rect x="85.0" y="311.3" width="1.8" height="4.0" fill="#c9c27a" />
<rect x="75.0" y="311.3" width="1.2" height="4.0" fill="#b9b98a" />
<rect x="91.8" y="310.9" width="8.8" height="4.8" fill="#7d7d7d" />
<rect x="91.8" y="310.9" width="8.8" height="1.1" fill="#969696" />
<rect x="100.6" y="311.3" width="1.8" height="4.0" fill="#c9c27a" />
<rect x="90.6" y="311.3" width="1.2" height="4.0" fill="#b9b98a" />
<rect x="107.5" y="310.9" width="8.8" height="4.8" fill="#7d7d7d" />
<rect x="107.5" y="310.9" width="8.8" height="1.1" fill="#969696" />
<rect x="116.3" y="311.3" width="1.8" height="4.0" fill="#c9c27a" />
<rect x="106.3" y="311.3" width="1.2" height="4.0" fill="#b9b98a" />
<rect x="122.2" y="310.9" width="8.8" height="4.8" fill="#7d7d7d" />
<rect x="122.2" y="310.9" width="8.8" height="1.1" fill="#969696" />
<rect x="131.0" y="311.3" width="1.8" height="4.0" fill="#c9c27a" />
<rect x="121.0" y="311.3" width="1.2" height="4.0" fill="#b9b98a" />
<rect x="54.1" y="319.2" width="8.8" height="4.8" fill="#7d7d7d" />
<rect x="54.1" y="319.2" width="8.8" height="1.1" fill="#969696" />
<rect x="62.9" y="319.6" width="1.8" height="4.0" fill="#c9c27a" />
<rect x="52.9" y="319.6" width="1.2" height="4.0" fill="#b9b98a" />
<rect x="68.2" y="319.2" width="8.8" height="4.8" fill="#7d7d7d" />
<rect x="68.2" y="319.2" width="8.8" height="1.1" fill="#969696" />
<rect x="77.0" y="319.6" width="1.8" height="4.0" fill="#c9c27a" />
<rect x="67.0" y="319.6" width="1.2" height="4.0" fill="#b9b98a" />
<rect x="83.6" y="319.2" width="8.8" height="4.8" fill="#7d7d7d" />
<rect x="83.6" y="319.2" width="8.8" height="1.1" fill="#969696" />
<rect x="92.4" y="319.6" width="1.8" height="4.0" fill="#c9c27a" />
<rect x="82.4" y="319.6" width="1.2" height="4.0" fill="#b9b98a" />
<rect x="99.6" y="319.2" width="8.8" height="4.8" fill="#7d7d7d" />
<rect x="99.6" y="319.2" width="8.8" height="1.1" fill="#969696" />
<rect x="108.4" y="319.6" width="1.8" height="4.0" fill="#c9c27a" />
<rect x="98.4" y="319.6" width="1.2" height="4.0" fill="#b9b98a" />
<rect x="115.6" y="319.2" width="8.8" height="4.8" fill="#7d7d7d" />
<rect x="115.6" y="319.2" width="8.8" height="1.1" fill="#969696" />
<rect x="124.4" y="319.6" width="1.8" height="4.0" fill="#c9c27a" />
<rect x="114.4" y="319.6" width="1.2" height="4.0" fill="#b9b98a" />
<rect x="176.0" y="310.9" width="8.8" height="4.8" fill="#7d7d7d" />
<rect x="176.0" y="310.9" width="8.8" height="1.1" fill="#969696" />
<rect x="184.8" y="311.3" width="1.8" height="4.0" fill="#c9c27a" />
<rect x="174.8" y="311.3" width="1.2" height="4.0" fill="#b9b98a" />
<rect x="192.0" y="310.9" width="8.8" height="4.8" fill="#7d7d7d" />
<rect x="192.0" y="310.9" width="8.8" height="1.1" fill="#969696" />
<rect x="200.8" y="311.3" width="1.8" height="4.0" fill="#c9c27a" />
<rect x="190.8" y="311.3" width="1.2" height="4.0" fill="#b9b98a" />
<rect x="207.0" y="310.9" width="8.8" height="4.8" fill="#7d7d7d" />
<rect x="207.0" y="310.9" width="8.8" height="1.1" fill="#969696" />
<rect x="215.8" y="311.3" width="1.8" height="4.0" fill="#c9c27a" />
<rect x="205.8" y="311.3" width="1.2" height="4.0" fill="#b9b98a" />
<rect x="222.3" y="310.9" width="8.8" height="4.8" fill="#7d7d7d" />
<rect x="222.3" y="310.9" width="8.8" height="1.1" fill="#969696" />
<rect x="231.1" y="311.3" width="1.8" height="4.0" fill="#c9c27a" />
<rect x="221.1" y="311.3" width="1.2" height="4.0" fill="#b9b98a" />
<rect x="238.3" y="310.9" width="8.8" height="4.8" fill="#7d7d7d" />
<rect x="238.3" y="310.9" width="8.8" height="1.1" fill="#969696" />
<rect x="247.1" y="311.3" width="1.8" height="4.0" fill="#c9c27a" />
<rect x="237.1" y="311.3" width="1.2" height="4.0" fill="#b9b98a" />
<rect x="168.1" y="319.2" width="8.8" height="4.8" fill="#7d7d7d" />
<rect x="168.1" y="319.2" width="8.8" height="1.1" fill="#969696" />
<rect x="176.9" y="319.6" width="1.8" height="4.0" fill="#c9c27a" />
<rect x="166.9" y="319.6" width="1.2" height="4.0" fill="#b9b98a" />
<rect x="184.0" y="319.2" width="8.8" height="4.8" fill="#7d7d7d" />
<rect x="184.0" y="319.2" width="8.8" height="1.1" fill="#969696" />
<rect x="192.8" y="319.6" width="1.8" height="4.0" fill="#c9c27a" />
<rect x="182.8" y="319.6" width="1.2" height="4.0" fill="#b9b98a" />
<rect x="198.4" y="319.2" width="8.8" height="4.8" fill="#7d7d7d" />
<rect x="198.4" y="319.2" width="8.8" height="1.1" fill="#969696" />
<rect x="207.2" y="319.6" width="1.8" height="4.0" fill="#c9c27a" />
<rect x="197.2" y="319.6" width="1.2" height="4.0" fill="#b9b98a" />
<rect x="213.6" y="319.2" width="8.8" height="4.8" fill="#7d7d7d" />
<rect x="213.6" y="319.2" width="8.8" height="1.1" fill="#969696" />
<rect x="222.4" y="319.6" width="1.8" height="4.0" fill="#c9c27a" />
<rect x="212.4" y="319.6" width="1.2" height="4.0" fill="#b9b98a" />
<rect x="228.6" y="319.2" width="8.8" height="4.8" fill="#7d7d7d" />
<rect x="228.6" y="319.2" width="8.8" height="1.1" fill="#969696" />
<rect x="237.4" y="319.6" width="1.8" height="4.0" fill="#c9c27a" />
<rect x="227.4" y="319.6" width="1.2" height="4.0" fill="#b9b98a" />
<rect x="243.1" y="319.2" width="8.8" height="4.8" fill="#7d7d7d" />
<rect x="243.1" y="319.2" width="8.8" height="1.1" fill="#969696" />
<rect x="251.9" y="319.6" width="1.8" height="4.0" fill="#c9c27a" />
<rect x="241.9" y="319.6" width="1.2" height="4.0" fill="#b9b98a" />
<text x="61.2" y="308.8" font-family="Liberation Sans,sans-serif" font-size="5.9" fill="#e4ece4" text-anchor="start" font-weight="bold" >R74</text>
<text x="76.6" y="308.8" font-family="Liberation Sans,sans-serif" font-size="5.9" fill="#e4ece4" text-anchor="start" font-weight="bold" >R82</text>
<text x="92.4" y="308.8" font-family="Liberation Sans,sans-serif" font-size="5.9" fill="#e4ece4" text-anchor="start" font-weight="bold" >R90</text>
<text x="107.8" y="308.8" font-family="Liberation Sans,sans-serif" font-size="5.9" fill="#e4ece4" text-anchor="start" font-weight="bold" >R57</text>
<text x="176.6" y="308.8" font-family="Liberation Sans,sans-serif" font-size="5.9" fill="#e4ece4" text-anchor="start" font-weight="bold" >R13</text>
<text x="192.4" y="308.8" font-family="Liberation Sans,sans-serif" font-size="5.9" fill="#e4ece4" text-anchor="start" font-weight="bold" >R39</text>
<text x="207.4" y="308.8" font-family="Liberation Sans,sans-serif" font-size="5.9" fill="#e4ece4" text-anchor="start" font-weight="bold" >R45</text>
<text x="222.8" y="308.8" font-family="Liberation Sans,sans-serif" font-size="5.9" fill="#e4ece4" text-anchor="start" font-weight="bold" >R47</text>
<text x="128.0" y="322.5" font-family="Liberation Sans,sans-serif" font-size="4.01" fill="#e4ece4" text-anchor="start" font-weight="bold" >R109</text>
<text x="244.0" y="320.5" font-family="Liberation Sans,sans-serif" font-size="4.01" fill="#e4ece4" text-anchor="start" font-weight="bold" >R52</text>
<text x="82.0" y="331.6" font-family="Liberation Sans,sans-serif" font-size="4.01" fill="#e4ece4" text-anchor="start" font-weight="bold" >R83</text>
<text x="200.0" y="331.6" font-family="Liberation Sans,sans-serif" font-size="4.01" fill="#e4ece4" text-anchor="start" font-weight="bold" >R43</text>
<text x="52.0" y="328.0" font-family="Liberation Sans,sans-serif" font-size="3.54" fill="#e4ece4" text-anchor="start" font-weight="bold" transform="rotate(-90 52.0 328.0)" >R73</text>
<polygon points="75.6,328.4 86.0,333.0 86.0,362.7 84.0,364.3 75.6,364.3" fill="#0d66cf" />
<polygon points="36.0,357.2 76.6,357.2 84.0,364.3 40.6,364.3" fill="#1270d8" />
<rect x="36.0" y="328.4" width="39.6" height="28.8" fill="#1983ef" />
<rect x="36.0" y="328.4" width="39.6" height="6.5" fill="#2590fa" />
<rect x="36.0" y="351.4" width="39.6" height="5.8" fill="#177ce8" />
<circle cx="44.8" cy="347.6" r="6.3" fill="#0f6fda" />
<circle cx="44.8" cy="347.6" r="5.0" fill="#dcecf9" />
<circle cx="45.0" cy="347.9" r="3.0" fill="#c8e2f6" />
<path d="M41.8,333.6 q2,-1.6 3.6,-1.2" stroke="#1270d8" stroke-width="0.7" fill="none"/>
<circle cx="64.4" cy="347.6" r="6.3" fill="#0f6fda" />
<circle cx="64.4" cy="347.6" r="5.0" fill="#dcecf9" />
<circle cx="64.6" cy="347.9" r="3.0" fill="#c8e2f6" />
<path d="M61.4,333.6 q2,-1.6 3.6,-1.2" stroke="#1270d8" stroke-width="0.7" fill="none"/>
<polygon points="132.5,328.4 142.9,333.0 142.9,362.7 140.9,364.3 132.5,364.3" fill="#0d66cf" />
<polygon points="92.6,357.2 133.5,357.2 140.9,364.3 97.2,364.3" fill="#1270d8" />
<rect x="92.6" y="328.4" width="39.9" height="28.8" fill="#1983ef" />
<rect x="92.6" y="328.4" width="39.9" height="6.5" fill="#2590fa" />
<rect x="92.6" y="351.4" width="39.9" height="5.8" fill="#177ce8" />
<circle cx="101.7" cy="347.6" r="6.3" fill="#0f6fda" />
<circle cx="101.7" cy="347.6" r="5.0" fill="#dcecf9" />
<circle cx="101.9" cy="347.9" r="3.0" fill="#c8e2f6" />
<path d="M98.7,333.6 q2,-1.6 3.6,-1.2" stroke="#1270d8" stroke-width="0.7" fill="none"/>
<circle cx="121.0" cy="347.6" r="6.3" fill="#0f6fda" />
<circle cx="121.0" cy="347.6" r="5.0" fill="#dcecf9" />
<circle cx="121.2" cy="347.9" r="3.0" fill="#c8e2f6" />
<path d="M118.0,333.6 q2,-1.6 3.6,-1.2" stroke="#1270d8" stroke-width="0.7" fill="none"/>
<polygon points="195.5,328.4 201.9,333.0 201.9,362.7 199.9,364.3 195.5,364.3" fill="#0d66cf" />
<polygon points="156.0,357.2 196.5,357.2 199.9,364.3 160.6,364.3" fill="#1270d8" />
<rect x="156.0" y="328.4" width="39.5" height="28.8" fill="#1983ef" />
<rect x="156.0" y="328.4" width="39.5" height="6.5" fill="#2590fa" />
<rect x="156.0" y="351.4" width="39.5" height="5.8" fill="#177ce8" />
<circle cx="165.6" cy="347.6" r="6.3" fill="#0f6fda" />
<circle cx="165.6" cy="347.6" r="5.0" fill="#dcecf9" />
<circle cx="165.8" cy="347.9" r="3.0" fill="#c8e2f6" />
<path d="M162.6,333.6 q2,-1.6 3.6,-1.2" stroke="#1270d8" stroke-width="0.7" fill="none"/>
<circle cx="184.8" cy="347.6" r="6.3" fill="#0f6fda" />
<circle cx="184.8" cy="347.6" r="5.0" fill="#dcecf9" />
<circle cx="185.0" cy="347.9" r="3.0" fill="#c8e2f6" />
<path d="M181.8,333.6 q2,-1.6 3.6,-1.2" stroke="#1270d8" stroke-width="0.7" fill="none"/>
<polygon points="251.3,328.4 256.1,333.0 256.1,362.7 254.1,364.3 251.3,364.3" fill="#0d66cf" />
<polygon points="212.5,357.2 252.3,357.2 254.1,364.3 217.1,364.3" fill="#1270d8" />
<rect x="212.5" y="328.4" width="38.8" height="28.8" fill="#1983ef" />
<rect x="212.5" y="328.4" width="38.8" height="6.5" fill="#2590fa" />
<rect x="212.5" y="351.4" width="38.8" height="5.8" fill="#177ce8" />
<circle cx="221.8" cy="347.6" r="6.3" fill="#0f6fda" />
<circle cx="221.8" cy="347.6" r="5.0" fill="#dcecf9" />
<circle cx="222.0" cy="347.9" r="3.0" fill="#c8e2f6" />
<path d="M218.8,333.6 q2,-1.6 3.6,-1.2" stroke="#1270d8" stroke-width="0.7" fill="none"/>
<circle cx="241.3" cy="347.6" r="6.3" fill="#0f6fda" />
<circle cx="241.3" cy="347.6" r="5.0" fill="#dcecf9" />
<circle cx="241.5" cy="347.9" r="3.0" fill="#c8e2f6" />
<path d="M238.3,333.6 q2,-1.6 3.6,-1.2" stroke="#1270d8" stroke-width="0.7" fill="none"/>
<rect x="61.4" y="372.7" width="7.2" height="1.5" fill="#f4f6f4" />
<rect x="64.2" y="369.8" width="1.5" height="7.2" fill="#f4f6f4" />
<rect x="178.3" y="372.7" width="7.2" height="1.5" fill="#f4f6f4" />
<rect x="181.2" y="369.8" width="1.5" height="7.2" fill="#f4f6f4" />
<rect x="117.5" y="372.7" width="7.6" height="1.5" fill="#f4f6f4" />
<rect x="233.9" y="372.7" width="7.6" height="1.5" fill="#f4f6f4" />
<text x="58.6" y="387.4" font-family="Liberation Mono,monospace" font-size="7.5" fill="#eef4ee" text-anchor="start" font-weight="normal" textLength="57.5" lengthAdjust="spacingAndGlyphs" stroke="#eef4ee" stroke-width="0.27">Auto-labeling</text>
<text x="58.0" y="397.2" font-family="Liberation Mono,monospace" font-size="7.5" fill="#eef4ee" text-anchor="start" font-weight="normal" textLength="72.5" lengthAdjust="spacingAndGlyphs" stroke="#eef4ee" stroke-width="0.27">VGap: 1.5 kV MAX</text>
<text x="166.0" y="386.6" font-family="Liberation Mono,monospace" font-size="7.5" fill="#eef4ee" text-anchor="start" font-weight="normal" textLength="57.5" lengthAdjust="spacingAndGlyphs" stroke="#eef4ee" stroke-width="0.27">Auto-labeling</text>
<text x="166.0" y="396.4" font-family="Liberation Mono,monospace" font-size="7.5" fill="#eef4ee" text-anchor="start" font-weight="normal" textLength="84.5" lengthAdjust="spacingAndGlyphs" stroke="#eef4ee" stroke-width="0.27">VString: 1.5 kV MAX</text>
<text x="104.6" y="422.4" font-family="Liberation Mono,monospace" font-size="11.8" fill="#eef4ee" text-anchor="start" font-weight="normal" textLength="135.5" lengthAdjust="spacingAndGlyphs" stroke="#eef4ee" stroke-width="0.42">Danger High Voltage</text>
<circle cx="59.8" cy="416.5" r="15.4" fill="#1f561c" opacity="0.55"/>
<circle cx="59.5" cy="415.5" r="15.0" fill="#bfae2e" />
<circle cx="59.5" cy="415.5" r="14.2" fill="#d8c84c" />
<circle cx="58.0" cy="414.7" r="13.1" fill="#9a9a9a" />
<circle cx="58.0" cy="414.7" r="12.6" fill="#c4c4c8" />
<circle cx="57.0" cy="413.7" r="11.2" fill="#d6d6da" />
<circle cx="55.9" cy="412.9" r="9.0" fill="#e0e0e4" />
<rect x="54.1" y="407.2" width="1.3" height="5.6" fill="#7a7a7a" rx="0.5"/>
<rect x="54.1" y="414.7" width="1.3" height="5.6" fill="#7a7a7a" rx="0.5"/>
<rect x="48.1" y="413.2" width="5.6" height="1.1" fill="#9a9a9a" rx="0.5"/>
<rect x="55.7" y="413.2" width="5.6" height="1.1" fill="#9a9a9a" rx="0.5"/>
<text x="89.0" y="331.0" font-family="Liberation Sans,sans-serif" font-size="3.54" fill="#e4ece4" text-anchor="start" font-weight="bold" transform="rotate(-90 89.0 331.0)" >J8</text>
<text x="146.0" y="331.0" font-family="Liberation Sans,sans-serif" font-size="3.54" fill="#e4ece4" text-anchor="start" font-weight="bold" transform="rotate(-90 146.0 331.0)" >J9</text>
<text x="205.0" y="331.0" font-family="Liberation Sans,sans-serif" font-size="3.54" fill="#e4ece4" text-anchor="start" font-weight="bold" transform="rotate(-90 205.0 331.0)" >J6</text>
<text x="260.0" y="331.0" font-family="Liberation Sans,sans-serif" font-size="3.54" fill="#e4ece4" text-anchor="start" font-weight="bold" transform="rotate(-90 260.0 331.0)" >J5</text>
<polygon points="294.0,283.0 303.0,272.0 372.0,272.0 372.0,330.0 294.0,330.0" fill="#45882f" opacity="0.85"/>
<circle cx="298.7" cy="226.9" r="7.6" fill="#1c4f1e" opacity="0.55"/>
<circle cx="298.4" cy="226.0" r="6.9" fill="#f1f1f1" />
<circle cx="298.8" cy="226.7" r="4.8" fill="#cfcfcf" />
<circle cx="298.6" cy="226.4" r="3.6" fill="#e2e2e2" />
<rect x="296.5" y="220.6" width="3.8" height="6.8" fill="#a6a6a6" rx="1.7"/>
<rect x="297.9" y="221.2" width="1.5" height="5.6" fill="#8a8a8a" rx="0.6"/>
<rect x="296.6" y="220.8" width="1.2" height="6.2" fill="#d9d9d9" rx="0.6"/>
<circle cx="298.5" cy="252.3" r="7.6" fill="#1c4f1e" opacity="0.55"/>
<circle cx="298.2" cy="251.4" r="6.9" fill="#f1f1f1" />
<circle cx="298.6" cy="252.1" r="4.8" fill="#cfcfcf" />
<circle cx="298.4" cy="251.8" r="3.6" fill="#e2e2e2" />
<rect x="296.3" y="246.0" width="3.8" height="6.8" fill="#a6a6a6" rx="1.7"/>
<rect x="297.7" y="246.6" width="1.5" height="5.6" fill="#8a8a8a" rx="0.6"/>
<rect x="296.4" y="246.2" width="1.2" height="6.2" fill="#d9d9d9" rx="0.6"/>
<circle cx="356.3" cy="226.5" r="7.6" fill="#1c4f1e" opacity="0.55"/>
<circle cx="356.0" cy="225.6" r="6.9" fill="#f1f1f1" />
<circle cx="356.4" cy="226.3" r="4.8" fill="#cfcfcf" />
<circle cx="356.2" cy="226.0" r="3.6" fill="#e2e2e2" />
<rect x="354.1" y="220.2" width="3.8" height="6.8" fill="#a6a6a6" rx="1.7"/>
<rect x="355.5" y="220.8" width="1.5" height="5.6" fill="#8a8a8a" rx="0.6"/>
<rect x="354.2" y="220.4" width="1.2" height="6.2" fill="#d9d9d9" rx="0.6"/>
<circle cx="356.0" cy="251.9" r="7.6" fill="#1c4f1e" opacity="0.55"/>
<circle cx="355.7" cy="251.0" r="6.9" fill="#f1f1f1" />
<circle cx="356.1" cy="251.7" r="4.8" fill="#cfcfcf" />
<circle cx="355.9" cy="251.4" r="3.6" fill="#e2e2e2" />
<rect x="353.8" y="245.6" width="3.8" height="6.8" fill="#a6a6a6" rx="1.7"/>
<rect x="355.2" y="246.2" width="1.5" height="5.6" fill="#8a8a8a" rx="0.6"/>
<rect x="353.9" y="245.8" width="1.2" height="6.2" fill="#d9d9d9" rx="0.6"/>
<circle cx="355.5" cy="290.3" r="7.6" fill="#1c4f1e" opacity="0.55"/>
<circle cx="355.2" cy="289.4" r="6.9" fill="#f1f1f1" />
<circle cx="355.6" cy="290.1" r="4.8" fill="#cfcfcf" />
<circle cx="355.4" cy="289.8" r="3.6" fill="#e2e2e2" />
<rect x="353.3" y="284.0" width="3.8" height="6.8" fill="#a6a6a6" rx="1.7"/>
<rect x="354.7" y="284.6" width="1.5" height="5.6" fill="#8a8a8a" rx="0.6"/>
<rect x="353.4" y="284.2" width="1.2" height="6.2" fill="#d9d9d9" rx="0.6"/>
<circle cx="355.5" cy="307.8" r="7.6" fill="#1c4f1e" opacity="0.55"/>
<circle cx="355.2" cy="306.9" r="6.9" fill="#f1f1f1" />
<circle cx="355.6" cy="307.6" r="4.8" fill="#cfcfcf" />
<circle cx="355.4" cy="307.3" r="3.6" fill="#e2e2e2" />
<rect x="353.3" y="301.5" width="3.8" height="6.8" fill="#a6a6a6" rx="1.7"/>
<rect x="354.7" y="302.1" width="1.5" height="5.6" fill="#8a8a8a" rx="0.6"/>
<rect x="353.4" y="301.7" width="1.2" height="6.2" fill="#d9d9d9" rx="0.6"/>
<rect x="320.5" y="232.2" width="1.8" height="4.4" fill="#a4b890" />
<rect x="322.6" y="232.2" width="1.8" height="4.4" fill="#a4b890" />
<rect x="324.8" y="232.2" width="1.8" height="4.4" fill="#a4b890" />
<rect x="326.9" y="232.2" width="1.8" height="4.4" fill="#a4b890" />
<rect x="329.0" y="232.2" width="1.8" height="4.4" fill="#a4b890" />
<rect x="331.1" y="232.2" width="1.8" height="4.4" fill="#a4b890" />
<rect x="333.3" y="232.2" width="1.8" height="4.4" fill="#a4b890" />
<rect x="335.4" y="232.2" width="1.8" height="4.4" fill="#a4b890" />
<rect x="320.5" y="250.8" width="1.8" height="4.8" fill="#a4b890" />
<rect x="322.6" y="250.8" width="1.8" height="4.8" fill="#a4b890" />
<rect x="324.8" y="250.8" width="1.8" height="4.8" fill="#a4b890" />
<rect x="326.9" y="250.8" width="1.8" height="4.8" fill="#a4b890" />
<rect x="329.0" y="250.8" width="1.8" height="4.8" fill="#a4b890" />
<rect x="331.1" y="250.8" width="1.8" height="4.8" fill="#a4b890" />
<rect x="333.3" y="250.8" width="1.8" height="4.8" fill="#a4b890" />
<rect x="335.4" y="250.8" width="1.8" height="4.8" fill="#a4b890" />
<rect x="319.9" y="236.4" width="17.9" height="14.6" fill="#3b4046" />
<rect x="322.9" y="242.2" width="1.4" height="1.0" fill="#ddd" />
<rect x="324.9" y="242.6" width="6.0" height="0.6" fill="#999" />
<rect x="332.8" y="216.8" width="5.5" height="3.5" fill="#9fb28a" />
<rect x="333.8" y="216.8" width="3.5" height="3.5" fill="#0b0b0b" />
<rect x="310.8" y="223.8" width="5.5" height="3.5" fill="#9fb28a" />
<rect x="311.8" y="223.8" width="3.5" height="3.5" fill="#0b0b0b" />
<rect x="315.8" y="223.8" width="5.5" height="3.5" fill="#9fb28a" />
<rect x="316.8" y="223.8" width="3.5" height="3.5" fill="#0b0b0b" />
<rect x="320.6" y="223.8" width="5.5" height="3.5" fill="#9fb28a" />
<rect x="321.6" y="223.8" width="3.5" height="3.5" fill="#0b0b0b" />
<rect x="330.6" y="223.8" width="5.5" height="3.5" fill="#9fb28a" />
<rect x="331.6" y="223.8" width="3.5" height="3.5" fill="#0b0b0b" />
<rect x="335.4" y="223.8" width="5.5" height="3.5" fill="#9fb28a" />
<rect x="336.4" y="223.8" width="3.5" height="3.5" fill="#0b0b0b" />
<rect x="310.8" y="232.2" width="5.5" height="3.5" fill="#9fb28a" />
<rect x="311.8" y="232.2" width="3.5" height="3.5" fill="#0b0b0b" />
<rect x="305.8" y="240.4" width="5.5" height="3.5" fill="#9fb28a" />
<rect x="306.8" y="240.4" width="3.5" height="3.5" fill="#0b0b0b" />
<rect x="310.8" y="240.4" width="5.5" height="3.5" fill="#9fb28a" />
<rect x="311.8" y="240.4" width="3.5" height="3.5" fill="#0b0b0b" />
<rect x="310.8" y="249.2" width="5.5" height="3.5" fill="#9fb28a" />
<rect x="311.8" y="249.2" width="3.5" height="3.5" fill="#0b0b0b" />
<rect x="339.1" y="237.1" width="5.5" height="3.5" fill="#9fb28a" />
<rect x="340.1" y="237.1" width="3.5" height="3.5" fill="#0b0b0b" />
<rect x="343.9" y="237.1" width="5.5" height="3.5" fill="#9fb28a" />
<rect x="344.9" y="237.1" width="3.5" height="3.5" fill="#0b0b0b" />
<rect x="339.1" y="246.2" width="5.5" height="3.5" fill="#9fb28a" />
<rect x="340.1" y="246.2" width="3.5" height="3.5" fill="#0b0b0b" />
<rect x="315.4" y="261.4" width="5.5" height="3.5" fill="#9fb28a" />
<rect x="316.4" y="261.4" width="3.5" height="3.5" fill="#0b0b0b" />
<rect x="320.4" y="261.4" width="5.5" height="3.5" fill="#9fb28a" />
<rect x="321.4" y="261.4" width="3.5" height="3.5" fill="#0b0b0b" />
<rect x="325.4" y="261.4" width="5.5" height="3.5" fill="#9fb28a" />
<rect x="326.4" y="261.4" width="3.5" height="3.5" fill="#0b0b0b" />
<rect x="330.4" y="261.4" width="5.5" height="3.5" fill="#9fb28a" />
<rect x="331.4" y="261.4" width="3.5" height="3.5" fill="#0b0b0b" />
<rect x="335.4" y="261.4" width="5.5" height="3.5" fill="#9fb28a" />
<rect x="336.4" y="261.4" width="3.5" height="3.5" fill="#0b0b0b" />
<rect x="301.6" y="264.2" width="5.5" height="3.5" fill="#9fb28a" />
<rect x="302.6" y="264.2" width="3.5" height="3.5" fill="#0b0b0b" />
<rect x="315.1" y="271.6" width="5.5" height="3.5" fill="#9fb28a" />
<rect x="316.1" y="271.6" width="3.5" height="3.5" fill="#0b0b0b" />
<rect x="334.9" y="284.8" width="5.5" height="3.5" fill="#9fb28a" />
<rect x="335.9" y="284.8" width="3.5" height="3.5" fill="#0b0b0b" />
<rect x="314.6" y="297.1" width="5.5" height="3.5" fill="#9fb28a" />
<rect x="315.6" y="297.1" width="3.5" height="3.5" fill="#0b0b0b" />
<rect x="319.8" y="297.1" width="5.5" height="3.5" fill="#9fb28a" />
<rect x="320.8" y="297.1" width="3.5" height="3.5" fill="#0b0b0b" />
<rect x="324.8" y="297.1" width="5.5" height="3.5" fill="#9fb28a" />
<rect x="325.8" y="297.1" width="3.5" height="3.5" fill="#0b0b0b" />
<rect x="329.9" y="297.1" width="5.5" height="3.5" fill="#9fb28a" />
<rect x="330.9" y="297.1" width="3.5" height="3.5" fill="#0b0b0b" />
<rect x="334.9" y="297.1" width="5.5" height="3.5" fill="#9fb28a" />
<rect x="335.9" y="297.1" width="3.5" height="3.5" fill="#0b0b0b" />
<rect x="339.8" y="297.1" width="5.5" height="3.5" fill="#9fb28a" />
<rect x="340.8" y="297.1" width="3.5" height="3.5" fill="#0b0b0b" />
<rect x="321.9" y="304.4" width="5.5" height="3.5" fill="#9fb28a" />
<rect x="322.9" y="304.4" width="3.5" height="3.5" fill="#0b0b0b" />
<rect x="324.4" y="211.2" width="3.4" height="7.0" fill="#9fb28a" />
<rect x="324.4" y="212.2" width="3.4" height="5.0" fill="#0b0b0b" />
<rect x="328.6" y="267.6" width="3.4" height="5.6" fill="#9fb28a" />
<rect x="328.6" y="268.6" width="3.4" height="3.6" fill="#0b0b0b" />
<rect x="328.6" y="272.7" width="3.4" height="5.6" fill="#9fb28a" />
<rect x="328.6" y="273.7" width="3.4" height="3.6" fill="#0b0b0b" />
<rect x="331.9" y="213.4" width="2.4" height="2.6" fill="#d8d890" />
<rect x="337.3" y="213.4" width="2.4" height="2.6" fill="#d8d890" />
<rect x="304.2" y="271.3" width="4.0" height="4.0" fill="#d8c830" />
<rect x="304.2" y="292.8" width="4.0" height="4.0" fill="#d8c830" />
<rect x="300.6" y="277.0" width="11.0" height="15.3" fill="#3c3c3c" />
<rect x="323.9" y="280.4" width="5.2" height="9.2" fill="#2e3236" />
<rect x="320.6" y="281.1" width="2.4" height="1.8" fill="#d9d7a0" />
<rect x="330.4" y="281.1" width="2.4" height="1.8" fill="#d9d7a0" />
<rect x="320.6" y="284.5" width="2.4" height="1.8" fill="#d9d7a0" />
<rect x="330.4" y="284.5" width="2.4" height="1.8" fill="#d9d7a0" />
<rect x="320.6" y="287.9" width="2.4" height="1.8" fill="#d9d7a0" />
<rect x="330.4" y="287.9" width="2.4" height="1.8" fill="#d9d7a0" />
<rect x="304.1" y="300.2" width="4.2" height="7.6" fill="#0a0a0a" />
<rect x="330.2" y="304.2" width="3.2" height="4.0" fill="none" stroke="#dfe8d8" stroke-width="0.5"/>
<rect x="335.0" y="304.2" width="3.2" height="4.0" fill="none" stroke="#dfe8d8" stroke-width="0.5"/>
<rect x="339.6" y="304.2" width="3.2" height="4.0" fill="none" stroke="#dfe8d8" stroke-width="0.5"/>
<rect x="288.6" y="312.0" width="17.9" height="8.8" fill="#141414" />
<ellipse cx="292.6" cy="316.2" rx="2.1" ry="2.6" fill="#85603a"/>
<ellipse cx="292.3" cy="315.6" rx="1.1" ry="1.5" fill="#b58a58"/>
<ellipse cx="301.6" cy="316.2" rx="2.1" ry="2.6" fill="#85603a"/>
<ellipse cx="301.3" cy="315.6" rx="1.1" ry="1.5" fill="#b58a58"/>
<rect x="313.3" y="312.0" width="26.1" height="8.8" fill="#141414" />
<ellipse cx="317.3" cy="316.2" rx="2.1" ry="2.6" fill="#85603a"/>
<ellipse cx="317.0" cy="315.6" rx="1.1" ry="1.5" fill="#b58a58"/>
<ellipse cx="326.2" cy="316.2" rx="2.1" ry="2.6" fill="#85603a"/>
<ellipse cx="325.9" cy="315.6" rx="1.1" ry="1.5" fill="#b58a58"/>
<ellipse cx="335.2" cy="316.2" rx="2.1" ry="2.6" fill="#85603a"/>
<ellipse cx="334.9" cy="315.6" rx="1.1" ry="1.5" fill="#b58a58"/>
<text x="283.9" y="231.0" font-family="Liberation Mono,monospace" font-size="7.0" fill="#eef4ee" text-anchor="start" font-weight="normal" transform="rotate(-90 283.9 231.0)" textLength="11" lengthAdjust="spacingAndGlyphs" stroke="#eef4ee" stroke-width="0.25">CH1</text>
<text x="291.7" y="231.0" font-family="Liberation Mono,monospace" font-size="7.0" fill="#eef4ee" text-anchor="start" font-weight="normal" transform="rotate(-90 291.7 231.0)" textLength="31" lengthAdjust="spacingAndGlyphs" stroke="#eef4ee" stroke-width="0.25">Filt Out</text>
<text x="289.7" y="256.6" font-family="Liberation Mono,monospace" font-size="7.0" fill="#eef4ee" text-anchor="start" font-weight="normal" transform="rotate(-90 289.7 256.6)" textLength="11.6" lengthAdjust="spacingAndGlyphs" stroke="#eef4ee" stroke-width="0.25">GND</text>
<text x="369.8" y="272.8" font-family="Liberation Mono,monospace" font-size="7.0" fill="#eef4ee" text-anchor="start" font-weight="normal" transform="rotate(-90 369.8 272.8)" textLength="45.6" lengthAdjust="spacingAndGlyphs" stroke="#eef4ee" stroke-width="0.25">CH1 Filt In</text>
<text x="369.8" y="295.0" font-family="Liberation Mono,monospace" font-size="7.0" fill="#eef4ee" text-anchor="start" font-weight="normal" transform="rotate(-90 369.8 295.0)" textLength="16" lengthAdjust="spacingAndGlyphs" stroke="#eef4ee" stroke-width="0.25">CT1+</text>
<text x="369.8" y="316.6" font-family="Liberation Mono,monospace" font-size="7.0" fill="#eef4ee" text-anchor="start" font-weight="normal" transform="rotate(-90 369.8 316.6)" textLength="16" lengthAdjust="spacingAndGlyphs" stroke="#eef4ee" stroke-width="0.25">CT1-</text>
<text x="294.0" y="217.6" font-family="Liberation Sans,sans-serif" font-size="3.54" fill="#e4ece4" text-anchor="start" font-weight="bold" >TP1</text>
<text x="351.0" y="216.6" font-family="Liberation Sans,sans-serif" font-size="3.54" fill="#e4ece4" text-anchor="start" font-weight="bold" >TP16</text>
<text x="292.0" y="262.4" font-family="Liberation Sans,sans-serif" font-size="3.54" fill="#e4ece4" text-anchor="start" font-weight="bold" >TP15</text>
<text x="352.0" y="261.6" font-family="Liberation Sans,sans-serif" font-size="3.54" fill="#e4ece4" text-anchor="start" font-weight="bold" >TP2</text>
<text x="351.0" y="280.6" font-family="Liberation Sans,sans-serif" font-size="3.54" fill="#e4ece4" text-anchor="start" font-weight="bold" >TP9</text>
<text x="350.0" y="316.8" font-family="Liberation Sans,sans-serif" font-size="3.54" fill="#e4ece4" text-anchor="start" font-weight="bold" >TP10</text>
<text x="324.0" y="209.4" font-family="Liberation Sans,sans-serif" font-size="3.54" fill="#e4ece4" text-anchor="start" font-weight="bold" >R27R30</text>
<text x="324.0" y="212.6" font-family="Liberation Sans,sans-serif" font-size="3.3" fill="#e4ece4" text-anchor="start" font-weight="bold" >C15 C13</text>
<text x="342.0" y="258.6" font-family="Liberation Sans,sans-serif" font-size="3.54" fill="#e4ece4" text-anchor="start" font-weight="bold" >U5</text>
<text x="297.0" y="287.0" font-family="Liberation Sans,sans-serif" font-size="3.54" fill="#e4ece4" text-anchor="start" font-weight="bold" transform="rotate(-90 297.0 287.0)" >L1</text>
<text x="312.0" y="307.4" font-family="Liberation Sans,sans-serif" font-size="3.78" fill="#e4ece4" text-anchor="start" font-weight="bold" >R5</text>
<text x="344.0" y="318.6" font-family="Liberation Sans,sans-serif" font-size="3.54" fill="#e4ece4" text-anchor="start" font-weight="bold" transform="rotate(-90 344.0 318.6)" >J1</text>
<text x="284.0" y="319.4" font-family="Liberation Sans,sans-serif" font-size="3.3" fill="#e4ece4" text-anchor="start" font-weight="bold" transform="rotate(-90 284.0 319.4)" >J10</text>
<text x="345.0" y="268.6" font-family="Liberation Sans,sans-serif" font-size="3.54" fill="#e4ece4" text-anchor="start" font-weight="bold" >R25</text>
<text x="345.0" y="272.8" font-family="Liberation Sans,sans-serif" font-size="3.54" fill="#e4ece4" text-anchor="start" font-weight="bold" >C67</text>
<text x="309.0" y="231.6" font-family="Liberation Sans,sans-serif" font-size="3.3" fill="#e4ece4" text-anchor="start" font-weight="bold" transform="rotate(-90 309.0 231.6)" >R9</text>
<text x="305.0" y="249.6" font-family="Liberation Sans,sans-serif" font-size="3.3" fill="#e4ece4" text-anchor="start" font-weight="bold" transform="rotate(-90 305.0 249.6)" >R72</text>
<text x="343.0" y="231.6" font-family="Liberation Sans,sans-serif" font-size="3.3" fill="#e4ece4" text-anchor="start" font-weight="bold" transform="rotate(-90 343.0 231.6)" >C8</text>
<text x="349.0" y="246.6" font-family="Liberation Sans,sans-serif" font-size="3.3" fill="#e4ece4" text-anchor="start" font-weight="bold" transform="rotate(-90 349.0 246.6)" >C10</text>
<text x="315.6" y="222.4" font-family="Liberation Sans,sans-serif" font-size="3.42" fill="#e4ece4" text-anchor="start" font-weight="bold" transform="rotate(-90 315.6 222.4)" >R29</text>
<text x="320.6" y="222.4" font-family="Liberation Sans,sans-serif" font-size="3.42" fill="#e4ece4" text-anchor="start" font-weight="bold" transform="rotate(-90 320.6 222.4)" >C16</text>
<text x="310.6" y="262.4" font-family="Liberation Sans,sans-serif" font-size="3.54" fill="#e4ece4" text-anchor="start" font-weight="bold" transform="rotate(-90 310.6 262.4)" >C11</text>
<text x="315.4" y="259.4" font-family="Liberation Sans,sans-serif" font-size="3.54" fill="#e4ece4" text-anchor="start" font-weight="bold" transform="rotate(-90 315.4 259.4)" >C4</text>
<text x="346.6" y="262.4" font-family="Liberation Sans,sans-serif" font-size="3.42" fill="#e4ece4" text-anchor="start" font-weight="bold" transform="rotate(-90 346.6 262.4)" >R68</text>
<text x="351.0" y="262.4" font-family="Liberation Sans,sans-serif" font-size="3.42" fill="#e4ece4" text-anchor="start" font-weight="bold" transform="rotate(-90 351.0 262.4)" >C18</text>
<text x="347.6" y="245.4" font-family="Liberation Sans,sans-serif" font-size="3.42" fill="#e4ece4" text-anchor="start" font-weight="bold" transform="rotate(-90 347.6 245.4)" >R21</text>
<text x="344.0" y="222.4" font-family="Liberation Sans,sans-serif" font-size="3.42" fill="#e4ece4" text-anchor="start" font-weight="bold" transform="rotate(-90 344.0 222.4)" >C9</text>
<text x="291.0" y="268.0" font-family="Liberation Sans,sans-serif" font-size="3.78" fill="#e4ece4" text-anchor="start" font-weight="bold" >R3</text>
<text x="303.4" y="246.4" font-family="Liberation Sans,sans-serif" font-size="3.3" fill="#e4ece4" text-anchor="start" font-weight="bold" transform="rotate(-90 303.4 246.4)" >C7</text>
<text x="314.4" y="283.4" font-family="Liberation Sans,sans-serif" font-size="3.42" fill="#e4ece4" text-anchor="start" font-weight="bold" transform="rotate(-90 314.4 283.4)" >R23</text>
<text x="318.8" y="296.4" font-family="Liberation Sans,sans-serif" font-size="3.42" fill="#e4ece4" text-anchor="start" font-weight="bold" transform="rotate(-90 318.8 296.4)" >R24</text>
<text x="319.2" y="284.4" font-family="Liberation Sans,sans-serif" font-size="3.42" fill="#e4ece4" text-anchor="start" font-weight="bold" transform="rotate(-90 319.2 284.4)" >U3</text>
<text x="343.8" y="291.4" font-family="Liberation Sans,sans-serif" font-size="3.54" fill="#e4ece4" text-anchor="start" font-weight="bold" transform="rotate(-90 343.8 291.4)" >C2</text>
<text x="349.4" y="302.4" font-family="Liberation Sans,sans-serif" font-size="3.42" fill="#e4ece4" text-anchor="start" font-weight="bold" transform="rotate(-90 349.4 302.4)" >C22</text>
<text x="299.6" y="308.4" font-family="Liberation Sans,sans-serif" font-size="3.42" fill="#e4ece4" text-anchor="start" font-weight="bold" transform="rotate(-90 299.6 308.4)" >D1</text>
<polygon points="400.6,283.0 409.4,272.0 476.0,272.0 476.0,291.0 489.5,304.0 489.5,330.0 401.7,330.0" fill="#45882f" opacity="0.85"/>
<circle cx="404.0" cy="226.9" r="7.6" fill="#1c4f1e" opacity="0.55"/>
<circle cx="403.7" cy="226.0" r="6.9" fill="#f1f1f1" />
<circle cx="404.1" cy="226.7" r="4.8" fill="#cfcfcf" />
<circle cx="403.9" cy="226.4" r="3.6" fill="#e2e2e2" />
<rect x="401.8" y="220.6" width="3.8" height="6.8" fill="#a6a6a6" rx="1.7"/>
<rect x="403.2" y="221.2" width="1.5" height="5.6" fill="#8a8a8a" rx="0.6"/>
<rect x="401.9" y="220.8" width="1.2" height="6.2" fill="#d9d9d9" rx="0.6"/>
<circle cx="404.4" cy="252.3" r="7.6" fill="#1c4f1e" opacity="0.55"/>
<circle cx="404.1" cy="251.4" r="6.9" fill="#f1f1f1" />
<circle cx="404.5" cy="252.1" r="4.8" fill="#cfcfcf" />
<circle cx="404.3" cy="251.8" r="3.6" fill="#e2e2e2" />
<rect x="402.2" y="246.0" width="3.8" height="6.8" fill="#a6a6a6" rx="1.7"/>
<rect x="403.6" y="246.6" width="1.5" height="5.6" fill="#8a8a8a" rx="0.6"/>
<rect x="402.3" y="246.2" width="1.2" height="6.2" fill="#d9d9d9" rx="0.6"/>
<circle cx="461.6" cy="226.5" r="7.6" fill="#1c4f1e" opacity="0.55"/>
<circle cx="461.3" cy="225.6" r="6.9" fill="#f1f1f1" />
<circle cx="461.7" cy="226.3" r="4.8" fill="#cfcfcf" />
<circle cx="461.5" cy="226.0" r="3.6" fill="#e2e2e2" />
<rect x="459.4" y="220.2" width="3.8" height="6.8" fill="#a6a6a6" rx="1.7"/>
<rect x="460.8" y="220.8" width="1.5" height="5.6" fill="#8a8a8a" rx="0.6"/>
<rect x="459.5" y="220.4" width="1.2" height="6.2" fill="#d9d9d9" rx="0.6"/>
<circle cx="461.9" cy="251.9" r="7.6" fill="#1c4f1e" opacity="0.55"/>
<circle cx="461.6" cy="251.0" r="6.9" fill="#f1f1f1" />
<circle cx="462.0" cy="251.7" r="4.8" fill="#cfcfcf" />
<circle cx="461.8" cy="251.4" r="3.6" fill="#e2e2e2" />
<rect x="459.7" y="245.6" width="3.8" height="6.8" fill="#a6a6a6" rx="1.7"/>
<rect x="461.1" y="246.2" width="1.5" height="5.6" fill="#8a8a8a" rx="0.6"/>
<rect x="459.8" y="245.8" width="1.2" height="6.2" fill="#d9d9d9" rx="0.6"/>
<circle cx="462.3" cy="290.3" r="7.6" fill="#1c4f1e" opacity="0.55"/>
<circle cx="462.0" cy="289.4" r="6.9" fill="#f1f1f1" />
<circle cx="462.4" cy="290.1" r="4.8" fill="#cfcfcf" />
<circle cx="462.2" cy="289.8" r="3.6" fill="#e2e2e2" />
<rect x="460.1" y="284.0" width="3.8" height="6.8" fill="#a6a6a6" rx="1.7"/>
<rect x="461.5" y="284.6" width="1.5" height="5.6" fill="#8a8a8a" rx="0.6"/>
<rect x="460.2" y="284.2" width="1.2" height="6.2" fill="#d9d9d9" rx="0.6"/>
<circle cx="462.7" cy="307.8" r="7.6" fill="#1c4f1e" opacity="0.55"/>
<circle cx="462.4" cy="306.9" r="6.9" fill="#f1f1f1" />
<circle cx="462.8" cy="307.6" r="4.8" fill="#cfcfcf" />
<circle cx="462.6" cy="307.3" r="3.6" fill="#e2e2e2" />
<rect x="460.5" y="301.5" width="3.8" height="6.8" fill="#a6a6a6" rx="1.7"/>
<rect x="461.9" y="302.1" width="1.5" height="5.6" fill="#8a8a8a" rx="0.6"/>
<rect x="460.6" y="301.7" width="1.2" height="6.2" fill="#d9d9d9" rx="0.6"/>
<rect x="426.2" y="232.2" width="1.8" height="4.4" fill="#a4b890" />
<rect x="428.3" y="232.2" width="1.8" height="4.4" fill="#a4b890" />
<rect x="430.5" y="232.2" width="1.8" height="4.4" fill="#a4b890" />
<rect x="432.6" y="232.2" width="1.8" height="4.4" fill="#a4b890" />
<rect x="434.7" y="232.2" width="1.8" height="4.4" fill="#a4b890" />
<rect x="436.8" y="232.2" width="1.8" height="4.4" fill="#a4b890" />
<rect x="439.0" y="232.2" width="1.8" height="4.4" fill="#a4b890" />
<rect x="441.1" y="232.2" width="1.8" height="4.4" fill="#a4b890" />
<rect x="426.2" y="250.8" width="1.8" height="4.8" fill="#a4b890" />
<rect x="428.3" y="250.8" width="1.8" height="4.8" fill="#a4b890" />
<rect x="430.5" y="250.8" width="1.8" height="4.8" fill="#a4b890" />
<rect x="432.6" y="250.8" width="1.8" height="4.8" fill="#a4b890" />
<rect x="434.7" y="250.8" width="1.8" height="4.8" fill="#a4b890" />
<rect x="436.8" y="250.8" width="1.8" height="4.8" fill="#a4b890" />
<rect x="439.0" y="250.8" width="1.8" height="4.8" fill="#a4b890" />
<rect x="441.1" y="250.8" width="1.8" height="4.8" fill="#a4b890" />
<rect x="425.6" y="236.4" width="17.9" height="14.6" fill="#3b4046" />
<rect x="428.6" y="242.2" width="1.4" height="1.0" fill="#ddd" />
<rect x="430.6" y="242.6" width="6.0" height="0.6" fill="#999" />
<rect x="437.9" y="216.8" width="5.5" height="3.5" fill="#9fb28a" />
<rect x="438.9" y="216.8" width="3.5" height="3.5" fill="#0b0b0b" />
<rect x="416.0" y="223.8" width="5.5" height="3.5" fill="#9fb28a" />
<rect x="417.0" y="223.8" width="3.5" height="3.5" fill="#0b0b0b" />
<rect x="421.0" y="223.8" width="5.5" height="3.5" fill="#9fb28a" />
<rect x="422.0" y="223.8" width="3.5" height="3.5" fill="#0b0b0b" />
<rect x="425.9" y="223.8" width="5.5" height="3.5" fill="#9fb28a" />
<rect x="426.9" y="223.8" width="3.5" height="3.5" fill="#0b0b0b" />
<rect x="435.9" y="223.8" width="5.5" height="3.5" fill="#9fb28a" />
<rect x="436.9" y="223.8" width="3.5" height="3.5" fill="#0b0b0b" />
<rect x="440.7" y="223.8" width="5.5" height="3.5" fill="#9fb28a" />
<rect x="441.7" y="223.8" width="3.5" height="3.5" fill="#0b0b0b" />
<rect x="416.2" y="232.2" width="5.5" height="3.5" fill="#9fb28a" />
<rect x="417.2" y="232.2" width="3.5" height="3.5" fill="#0b0b0b" />
<rect x="411.4" y="240.4" width="5.5" height="3.5" fill="#9fb28a" />
<rect x="412.4" y="240.4" width="3.5" height="3.5" fill="#0b0b0b" />
<rect x="416.4" y="240.4" width="5.5" height="3.5" fill="#9fb28a" />
<rect x="417.4" y="240.4" width="3.5" height="3.5" fill="#0b0b0b" />
<rect x="416.6" y="249.2" width="5.5" height="3.5" fill="#9fb28a" />
<rect x="417.6" y="249.2" width="3.5" height="3.5" fill="#0b0b0b" />
<rect x="444.8" y="237.1" width="5.5" height="3.5" fill="#9fb28a" />
<rect x="445.8" y="237.1" width="3.5" height="3.5" fill="#0b0b0b" />
<rect x="449.5" y="237.1" width="5.5" height="3.5" fill="#9fb28a" />
<rect x="450.5" y="237.1" width="3.5" height="3.5" fill="#0b0b0b" />
<rect x="445.0" y="246.2" width="5.5" height="3.5" fill="#9fb28a" />
<rect x="446.0" y="246.2" width="3.5" height="3.5" fill="#0b0b0b" />
<rect x="421.6" y="261.4" width="5.5" height="3.5" fill="#9fb28a" />
<rect x="422.6" y="261.4" width="3.5" height="3.5" fill="#0b0b0b" />
<rect x="426.6" y="261.4" width="5.5" height="3.5" fill="#9fb28a" />
<rect x="427.6" y="261.4" width="3.5" height="3.5" fill="#0b0b0b" />
<rect x="431.6" y="261.4" width="5.5" height="3.5" fill="#9fb28a" />
<rect x="432.6" y="261.4" width="3.5" height="3.5" fill="#0b0b0b" />
<rect x="436.6" y="261.4" width="5.5" height="3.5" fill="#9fb28a" />
<rect x="437.6" y="261.4" width="3.5" height="3.5" fill="#0b0b0b" />
<rect x="441.5" y="261.4" width="5.5" height="3.5" fill="#9fb28a" />
<rect x="442.5" y="261.4" width="3.5" height="3.5" fill="#0b0b0b" />
<rect x="407.8" y="264.2" width="5.5" height="3.5" fill="#9fb28a" />
<rect x="408.8" y="264.2" width="3.5" height="3.5" fill="#0b0b0b" />
<rect x="421.6" y="271.6" width="5.5" height="3.5" fill="#9fb28a" />
<rect x="422.6" y="271.6" width="3.5" height="3.5" fill="#0b0b0b" />
<rect x="441.6" y="284.8" width="5.5" height="3.5" fill="#9fb28a" />
<rect x="442.6" y="284.8" width="3.5" height="3.5" fill="#0b0b0b" />
<rect x="421.7" y="297.1" width="5.5" height="3.5" fill="#9fb28a" />
<rect x="422.7" y="297.1" width="3.5" height="3.5" fill="#0b0b0b" />
<rect x="426.8" y="297.1" width="5.5" height="3.5" fill="#9fb28a" />
<rect x="427.8" y="297.1" width="3.5" height="3.5" fill="#0b0b0b" />
<rect x="431.8" y="297.1" width="5.5" height="3.5" fill="#9fb28a" />
<rect x="432.8" y="297.1" width="3.5" height="3.5" fill="#0b0b0b" />
<rect x="436.9" y="297.1" width="5.5" height="3.5" fill="#9fb28a" />
<rect x="437.9" y="297.1" width="3.5" height="3.5" fill="#0b0b0b" />
<rect x="441.9" y="297.1" width="5.5" height="3.5" fill="#9fb28a" />
<rect x="442.9" y="297.1" width="3.5" height="3.5" fill="#0b0b0b" />
<rect x="446.8" y="297.1" width="5.5" height="3.5" fill="#9fb28a" />
<rect x="447.8" y="297.1" width="3.5" height="3.5" fill="#0b0b0b" />
<rect x="429.1" y="304.4" width="5.5" height="3.5" fill="#9fb28a" />
<rect x="430.1" y="304.4" width="3.5" height="3.5" fill="#0b0b0b" />
<rect x="429.4" y="211.2" width="3.4" height="7.0" fill="#9fb28a" />
<rect x="429.4" y="212.2" width="3.4" height="5.0" fill="#0b0b0b" />
<rect x="434.9" y="267.6" width="3.4" height="5.6" fill="#9fb28a" />
<rect x="434.9" y="268.6" width="3.4" height="3.6" fill="#0b0b0b" />
<rect x="435.1" y="272.7" width="3.4" height="5.6" fill="#9fb28a" />
<rect x="435.1" y="273.7" width="3.4" height="3.6" fill="#0b0b0b" />
<rect x="436.9" y="213.4" width="2.4" height="2.6" fill="#d8d890" />
<rect x="442.3" y="213.4" width="2.4" height="2.6" fill="#d8d890" />
<rect x="410.6" y="271.3" width="4.0" height="4.0" fill="#d8c830" />
<rect x="411.1" y="292.8" width="4.0" height="4.0" fill="#d8c830" />
<rect x="407.3" y="277.0" width="11.0" height="15.3" fill="#3c3c3c" />
<rect x="430.6" y="280.4" width="5.2" height="9.2" fill="#2e3236" />
<rect x="427.2" y="281.1" width="2.4" height="1.8" fill="#d9d7a0" />
<rect x="437.0" y="281.1" width="2.4" height="1.8" fill="#d9d7a0" />
<rect x="427.3" y="284.5" width="2.4" height="1.8" fill="#d9d7a0" />
<rect x="437.1" y="284.5" width="2.4" height="1.8" fill="#d9d7a0" />
<rect x="427.4" y="287.9" width="2.4" height="1.8" fill="#d9d7a0" />
<rect x="437.2" y="287.9" width="2.4" height="1.8" fill="#d9d7a0" />
<rect x="411.2" y="300.2" width="4.2" height="7.6" fill="#0a0a0a" />
<rect x="437.4" y="304.2" width="3.2" height="4.0" fill="none" stroke="#dfe8d8" stroke-width="0.5"/>
<rect x="442.2" y="304.2" width="3.2" height="4.0" fill="none" stroke="#dfe8d8" stroke-width="0.5"/>
<rect x="446.8" y="304.2" width="3.2" height="4.0" fill="none" stroke="#dfe8d8" stroke-width="0.5"/>
<rect x="396.0" y="312.0" width="17.9" height="8.8" fill="#141414" />
<ellipse cx="400.0" cy="316.2" rx="2.1" ry="2.6" fill="#85603a"/>
<ellipse cx="399.7" cy="315.6" rx="1.1" ry="1.5" fill="#b58a58"/>
<ellipse cx="409.0" cy="316.2" rx="2.1" ry="2.6" fill="#85603a"/>
<ellipse cx="408.7" cy="315.6" rx="1.1" ry="1.5" fill="#b58a58"/>
<rect x="420.7" y="312.0" width="26.1" height="8.8" fill="#141414" />
<ellipse cx="424.7" cy="316.2" rx="2.1" ry="2.6" fill="#85603a"/>
<ellipse cx="424.4" cy="315.6" rx="1.1" ry="1.5" fill="#b58a58"/>
<ellipse cx="433.6" cy="316.2" rx="2.1" ry="2.6" fill="#85603a"/>
<ellipse cx="433.3" cy="315.6" rx="1.1" ry="1.5" fill="#b58a58"/>
<ellipse cx="442.6" cy="316.2" rx="2.1" ry="2.6" fill="#85603a"/>
<ellipse cx="442.3" cy="315.6" rx="1.1" ry="1.5" fill="#b58a58"/>
<text x="389.2" y="231.0" font-family="Liberation Mono,monospace" font-size="7.0" fill="#eef4ee" text-anchor="start" font-weight="normal" transform="rotate(-90 389.2 231.0)" textLength="11" lengthAdjust="spacingAndGlyphs" stroke="#eef4ee" stroke-width="0.25">CH2</text>
<text x="396.7" y="231.0" font-family="Liberation Mono,monospace" font-size="7.0" fill="#eef4ee" text-anchor="start" font-weight="normal" transform="rotate(-90 396.7 231.0)" textLength="31" lengthAdjust="spacingAndGlyphs" stroke="#eef4ee" stroke-width="0.25">Filt Out</text>
<text x="395.6" y="256.6" font-family="Liberation Mono,monospace" font-size="7.0" fill="#eef4ee" text-anchor="start" font-weight="normal" transform="rotate(-90 395.6 256.6)" textLength="11.6" lengthAdjust="spacingAndGlyphs" stroke="#eef4ee" stroke-width="0.25">GND</text>
<text x="475.7" y="256.6" font-family="Liberation Mono,monospace" font-size="7.0" fill="#eef4ee" text-anchor="start" font-weight="normal" transform="rotate(-90 475.7 256.6)" textLength="45.6" lengthAdjust="spacingAndGlyphs" stroke="#eef4ee" stroke-width="0.25">CH2 Filt In</text>
<text x="483.4" y="304.6" font-family="Liberation Mono,monospace" font-size="7.0" fill="#eef4ee" text-anchor="start" font-weight="normal" transform="rotate(-131.7 483.4 304.6)" textLength="16.6" lengthAdjust="spacingAndGlyphs" stroke="#eef4ee" stroke-width="0.25">CT2+</text>
<text x="483.4" y="323.8" font-family="Liberation Mono,monospace" font-size="7.0" fill="#eef4ee" text-anchor="start" font-weight="normal" transform="rotate(-131.7 483.4 323.8)" textLength="16.6" lengthAdjust="spacingAndGlyphs" stroke="#eef4ee" stroke-width="0.25">CT2-</text>
<rect x="479.0" y="263.8" width="9.6" height="5.6" fill="#15181a" />
<rect x="479.5" y="261.4" width="1.8" height="2.4" fill="#d9d7a0" />
<rect x="479.5" y="269.4" width="1.8" height="2.6" fill="#d9d7a0" />
<rect x="482.9" y="261.4" width="1.8" height="2.4" fill="#d9d7a0" />
<rect x="482.9" y="269.4" width="1.8" height="2.6" fill="#d9d7a0" />
<rect x="486.3" y="261.4" width="1.8" height="2.4" fill="#d9d7a0" />
<rect x="486.3" y="269.4" width="1.8" height="2.6" fill="#d9d7a0" />
<rect x="471.1" y="263.6" width="5.5" height="3.5" fill="#9fb28a" />
<rect x="472.1" y="263.6" width="3.5" height="3.5" fill="#0b0b0b" />
<rect x="471.9" y="275.6" width="5.5" height="3.5" fill="#9fb28a" />
<rect x="472.9" y="275.6" width="3.5" height="3.5" fill="#0b0b0b" />
<rect x="471.9" y="279.9" width="5.5" height="3.5" fill="#9fb28a" />
<rect x="472.9" y="279.9" width="3.5" height="3.5" fill="#0b0b0b" />
<rect x="480.6" y="280.4" width="5.5" height="3.5" fill="#9fb28a" />
<rect x="481.6" y="280.4" width="3.5" height="3.5" fill="#0b0b0b" />
<rect x="489.8" y="275.6" width="5.5" height="3.5" fill="#9fb28a" />
<rect x="490.8" y="275.6" width="3.5" height="3.5" fill="#0b0b0b" />
<rect x="489.8" y="279.9" width="5.5" height="3.5" fill="#9fb28a" />
<rect x="490.8" y="279.9" width="3.5" height="3.5" fill="#0b0b0b" />
<text x="472.6" y="261.0" font-family="Liberation Sans,sans-serif" font-size="3.42" fill="#e4ece4" text-anchor="start" font-weight="bold" transform="rotate(-90 472.6 261.0)" >C104</text>
<text x="492.4" y="262.4" font-family="Liberation Sans,sans-serif" font-size="3.42" fill="#e4ece4" text-anchor="start" font-weight="bold" >U19</text>
<text x="491.5" y="273.6" font-family="Liberation Sans,sans-serif" font-size="3.42" fill="#e4ece4" text-anchor="start" font-weight="bold" >C112</text>
<text x="475.5" y="289.0" font-family="Liberation Sans,sans-serif" font-size="3.54" fill="#e4ece4" text-anchor="start" font-weight="bold" >R1 45 R46</text>
<text x="399.1" y="217.6" font-family="Liberation Sans,sans-serif" font-size="3.54" fill="#e4ece4" text-anchor="start" font-weight="bold" >TP2</text>
<text x="456.0" y="216.6" font-family="Liberation Sans,sans-serif" font-size="3.54" fill="#e4ece4" text-anchor="start" font-weight="bold" >TP16</text>
<text x="398.2" y="262.4" font-family="Liberation Sans,sans-serif" font-size="3.54" fill="#e4ece4" text-anchor="start" font-weight="bold" >TP15</text>
<text x="458.1" y="261.6" font-family="Liberation Sans,sans-serif" font-size="3.54" fill="#e4ece4" text-anchor="start" font-weight="bold" >TP3</text>
<text x="457.6" y="280.6" font-family="Liberation Sans,sans-serif" font-size="3.54" fill="#e4ece4" text-anchor="start" font-weight="bold" >TP10</text>
<text x="457.4" y="316.8" font-family="Liberation Sans,sans-serif" font-size="3.54" fill="#e4ece4" text-anchor="start" font-weight="bold" >TP11</text>
<text x="428.9" y="209.4" font-family="Liberation Sans,sans-serif" font-size="3.54" fill="#e4ece4" text-anchor="start" font-weight="bold" >R27R30</text>
<text x="429.0" y="212.6" font-family="Liberation Sans,sans-serif" font-size="3.3" fill="#e4ece4" text-anchor="start" font-weight="bold" >C15 C13</text>
<text x="448.1" y="258.6" font-family="Liberation Sans,sans-serif" font-size="3.54" fill="#e4ece4" text-anchor="start" font-weight="bold" >U5</text>
<text x="403.7" y="287.0" font-family="Liberation Sans,sans-serif" font-size="3.54" fill="#e4ece4" text-anchor="start" font-weight="bold" transform="rotate(-90 403.7 287.0)" >L1</text>
<text x="419.2" y="307.4" font-family="Liberation Sans,sans-serif" font-size="3.78" fill="#e4ece4" text-anchor="start" font-weight="bold" >R5</text>
<text x="451.2" y="318.6" font-family="Liberation Sans,sans-serif" font-size="3.54" fill="#e4ece4" text-anchor="start" font-weight="bold" transform="rotate(-90 451.2 318.6)" >J1</text>
<text x="391.4" y="319.4" font-family="Liberation Sans,sans-serif" font-size="3.3" fill="#e4ece4" text-anchor="start" font-weight="bold" transform="rotate(-90 391.4 319.4)" >J10</text>
<text x="451.3" y="268.6" font-family="Liberation Sans,sans-serif" font-size="3.54" fill="#e4ece4" text-anchor="start" font-weight="bold" >R25</text>
<text x="451.4" y="272.8" font-family="Liberation Sans,sans-serif" font-size="3.54" fill="#e4ece4" text-anchor="start" font-weight="bold" >C67</text>
<text x="414.4" y="231.6" font-family="Liberation Sans,sans-serif" font-size="3.3" fill="#e4ece4" text-anchor="start" font-weight="bold" transform="rotate(-90 414.4 231.6)" >R9</text>
<text x="410.8" y="249.6" font-family="Liberation Sans,sans-serif" font-size="3.3" fill="#e4ece4" text-anchor="start" font-weight="bold" transform="rotate(-90 410.8 249.6)" >R72</text>
<text x="448.4" y="231.6" font-family="Liberation Sans,sans-serif" font-size="3.3" fill="#e4ece4" text-anchor="start" font-weight="bold" transform="rotate(-90 448.4 231.6)" >C8</text>
<text x="454.8" y="246.6" font-family="Liberation Sans,sans-serif" font-size="3.3" fill="#e4ece4" text-anchor="start" font-weight="bold" transform="rotate(-90 454.8 246.6)" >C10</text>
<text x="420.8" y="222.4" font-family="Liberation Sans,sans-serif" font-size="3.42" fill="#e4ece4" text-anchor="start" font-weight="bold" transform="rotate(-90 420.8 222.4)" >R29</text>
<text x="425.8" y="222.4" font-family="Liberation Sans,sans-serif" font-size="3.42" fill="#e4ece4" text-anchor="start" font-weight="bold" transform="rotate(-90 425.8 222.4)" >C16</text>
<text x="416.8" y="262.4" font-family="Liberation Sans,sans-serif" font-size="3.54" fill="#e4ece4" text-anchor="start" font-weight="bold" transform="rotate(-90 416.8 262.4)" >C11</text>
<text x="421.6" y="259.4" font-family="Liberation Sans,sans-serif" font-size="3.54" fill="#e4ece4" text-anchor="start" font-weight="bold" transform="rotate(-90 421.6 259.4)" >C4</text>
<text x="452.8" y="262.4" font-family="Liberation Sans,sans-serif" font-size="3.42" fill="#e4ece4" text-anchor="start" font-weight="bold" transform="rotate(-90 452.8 262.4)" >R68</text>
<text x="457.2" y="262.4" font-family="Liberation Sans,sans-serif" font-size="3.42" fill="#e4ece4" text-anchor="start" font-weight="bold" transform="rotate(-90 457.2 262.4)" >C18</text>
<text x="453.4" y="245.4" font-family="Liberation Sans,sans-serif" font-size="3.42" fill="#e4ece4" text-anchor="start" font-weight="bold" transform="rotate(-90 453.4 245.4)" >R21</text>
<text x="449.3" y="222.4" font-family="Liberation Sans,sans-serif" font-size="3.42" fill="#e4ece4" text-anchor="start" font-weight="bold" transform="rotate(-90 449.3 222.4)" >C9</text>
<text x="397.3" y="268.0" font-family="Liberation Sans,sans-serif" font-size="3.78" fill="#e4ece4" text-anchor="start" font-weight="bold" >R3</text>
<text x="409.2" y="246.4" font-family="Liberation Sans,sans-serif" font-size="3.3" fill="#e4ece4" text-anchor="start" font-weight="bold" transform="rotate(-90 409.2 246.4)" >C7</text>
<text x="421.0" y="283.4" font-family="Liberation Sans,sans-serif" font-size="3.42" fill="#e4ece4" text-anchor="start" font-weight="bold" transform="rotate(-90 421.0 283.4)" >R23</text>
<text x="425.8" y="296.4" font-family="Liberation Sans,sans-serif" font-size="3.42" fill="#e4ece4" text-anchor="start" font-weight="bold" transform="rotate(-90 425.8 296.4)" >R24</text>
<text x="425.9" y="284.4" font-family="Liberation Sans,sans-serif" font-size="3.42" fill="#e4ece4" text-anchor="start" font-weight="bold" transform="rotate(-90 425.9 284.4)" >U3</text>
<text x="450.6" y="291.4" font-family="Liberation Sans,sans-serif" font-size="3.54" fill="#e4ece4" text-anchor="start" font-weight="bold" transform="rotate(-90 450.6 291.4)" >C2</text>
<text x="456.5" y="302.4" font-family="Liberation Sans,sans-serif" font-size="3.42" fill="#e4ece4" text-anchor="start" font-weight="bold" transform="rotate(-90 456.5 302.4)" >C22</text>
<text x="406.8" y="308.4" font-family="Liberation Sans,sans-serif" font-size="3.42" fill="#e4ece4" text-anchor="start" font-weight="bold" transform="rotate(-90 406.8 308.4)" >D1</text>
<polygon points="507.3,283.0 515.8,272.0 584.8,272.0 587.5,330.0 509.5,330.0" fill="#45882f" opacity="0.85"/>
<circle cx="509.3" cy="226.9" r="7.6" fill="#1c4f1e" opacity="0.55"/>
<circle cx="509.0" cy="226.0" r="6.9" fill="#f1f1f1" />
<circle cx="509.4" cy="226.7" r="4.8" fill="#cfcfcf" />
<circle cx="509.2" cy="226.4" r="3.6" fill="#e2e2e2" />
<rect x="507.1" y="220.6" width="3.8" height="6.8" fill="#a6a6a6" rx="1.7"/>
<rect x="508.5" y="221.2" width="1.5" height="5.6" fill="#8a8a8a" rx="0.6"/>
<rect x="507.2" y="220.8" width="1.2" height="6.2" fill="#d9d9d9" rx="0.6"/>
<circle cx="510.3" cy="252.3" r="7.6" fill="#1c4f1e" opacity="0.55"/>
<circle cx="510.0" cy="251.4" r="6.9" fill="#f1f1f1" />
<circle cx="510.4" cy="252.1" r="4.8" fill="#cfcfcf" />
<circle cx="510.2" cy="251.8" r="3.6" fill="#e2e2e2" />
<rect x="508.1" y="246.0" width="3.8" height="6.8" fill="#a6a6a6" rx="1.7"/>
<rect x="509.5" y="246.6" width="1.5" height="5.6" fill="#8a8a8a" rx="0.6"/>
<rect x="508.2" y="246.2" width="1.2" height="6.2" fill="#d9d9d9" rx="0.6"/>
<circle cx="566.9" cy="226.5" r="7.6" fill="#1c4f1e" opacity="0.55"/>
<circle cx="566.6" cy="225.6" r="6.9" fill="#f1f1f1" />
<circle cx="567.0" cy="226.3" r="4.8" fill="#cfcfcf" />
<circle cx="566.8" cy="226.0" r="3.6" fill="#e2e2e2" />
<rect x="564.7" y="220.2" width="3.8" height="6.8" fill="#a6a6a6" rx="1.7"/>
<rect x="566.1" y="220.8" width="1.5" height="5.6" fill="#8a8a8a" rx="0.6"/>
<rect x="564.8" y="220.4" width="1.2" height="6.2" fill="#d9d9d9" rx="0.6"/>
<circle cx="567.8" cy="251.9" r="7.6" fill="#1c4f1e" opacity="0.55"/>
<circle cx="567.5" cy="251.0" r="6.9" fill="#f1f1f1" />
<circle cx="567.9" cy="251.7" r="4.8" fill="#cfcfcf" />
<circle cx="567.7" cy="251.4" r="3.6" fill="#e2e2e2" />
<rect x="565.6" y="245.6" width="3.8" height="6.8" fill="#a6a6a6" rx="1.7"/>
<rect x="567.0" y="246.2" width="1.5" height="5.6" fill="#8a8a8a" rx="0.6"/>
<rect x="565.7" y="245.8" width="1.2" height="6.2" fill="#d9d9d9" rx="0.6"/>
<circle cx="569.1" cy="290.3" r="7.6" fill="#1c4f1e" opacity="0.55"/>
<circle cx="568.8" cy="289.4" r="6.9" fill="#f1f1f1" />
<circle cx="569.2" cy="290.1" r="4.8" fill="#cfcfcf" />
<circle cx="569.0" cy="289.8" r="3.6" fill="#e2e2e2" />
<rect x="566.9" y="284.0" width="3.8" height="6.8" fill="#a6a6a6" rx="1.7"/>
<rect x="568.3" y="284.6" width="1.5" height="5.6" fill="#8a8a8a" rx="0.6"/>
<rect x="567.0" y="284.2" width="1.2" height="6.2" fill="#d9d9d9" rx="0.6"/>
<circle cx="569.9" cy="307.8" r="7.6" fill="#1c4f1e" opacity="0.55"/>
<circle cx="569.6" cy="306.9" r="6.9" fill="#f1f1f1" />
<circle cx="570.0" cy="307.6" r="4.8" fill="#cfcfcf" />
<circle cx="569.8" cy="307.3" r="3.6" fill="#e2e2e2" />
<rect x="567.7" y="301.5" width="3.8" height="6.8" fill="#a6a6a6" rx="1.7"/>
<rect x="569.1" y="302.1" width="1.5" height="5.6" fill="#8a8a8a" rx="0.6"/>
<rect x="567.8" y="301.7" width="1.2" height="6.2" fill="#d9d9d9" rx="0.6"/>
<rect x="531.9" y="232.2" width="1.8" height="4.4" fill="#a4b890" />
<rect x="534.0" y="232.2" width="1.8" height="4.4" fill="#a4b890" />
<rect x="536.2" y="232.2" width="1.8" height="4.4" fill="#a4b890" />
<rect x="538.3" y="232.2" width="1.8" height="4.4" fill="#a4b890" />
<rect x="540.4" y="232.2" width="1.8" height="4.4" fill="#a4b890" />
<rect x="542.6" y="232.2" width="1.8" height="4.4" fill="#a4b890" />
<rect x="544.7" y="232.2" width="1.8" height="4.4" fill="#a4b890" />
<rect x="546.8" y="232.2" width="1.8" height="4.4" fill="#a4b890" />
<rect x="531.9" y="250.8" width="1.8" height="4.8" fill="#a4b890" />
<rect x="534.0" y="250.8" width="1.8" height="4.8" fill="#a4b890" />
<rect x="536.2" y="250.8" width="1.8" height="4.8" fill="#a4b890" />
<rect x="538.3" y="250.8" width="1.8" height="4.8" fill="#a4b890" />
<rect x="540.4" y="250.8" width="1.8" height="4.8" fill="#a4b890" />
<rect x="542.6" y="250.8" width="1.8" height="4.8" fill="#a4b890" />
<rect x="544.7" y="250.8" width="1.8" height="4.8" fill="#a4b890" />
<rect x="546.8" y="250.8" width="1.8" height="4.8" fill="#a4b890" />
<rect x="531.3" y="236.4" width="17.9" height="14.6" fill="#3b4046" />
<rect x="534.3" y="242.2" width="1.4" height="1.0" fill="#ddd" />
<rect x="536.3" y="242.6" width="6.0" height="0.6" fill="#999" />
<rect x="543.0" y="216.8" width="5.5" height="3.5" fill="#9fb28a" />
<rect x="544.0" y="216.8" width="3.5" height="3.5" fill="#0b0b0b" />
<rect x="521.3" y="223.8" width="5.5" height="3.5" fill="#9fb28a" />
<rect x="522.3" y="223.8" width="3.5" height="3.5" fill="#0b0b0b" />
<rect x="526.3" y="223.8" width="5.5" height="3.5" fill="#9fb28a" />
<rect x="527.3" y="223.8" width="3.5" height="3.5" fill="#0b0b0b" />
<rect x="531.2" y="223.8" width="5.5" height="3.5" fill="#9fb28a" />
<rect x="532.2" y="223.8" width="3.5" height="3.5" fill="#0b0b0b" />
<rect x="541.2" y="223.8" width="5.5" height="3.5" fill="#9fb28a" />
<rect x="542.2" y="223.8" width="3.5" height="3.5" fill="#0b0b0b" />
<rect x="546.0" y="223.8" width="5.5" height="3.5" fill="#9fb28a" />
<rect x="547.0" y="223.8" width="3.5" height="3.5" fill="#0b0b0b" />
<rect x="521.7" y="232.2" width="5.5" height="3.5" fill="#9fb28a" />
<rect x="522.7" y="232.2" width="3.5" height="3.5" fill="#0b0b0b" />
<rect x="517.1" y="240.4" width="5.5" height="3.5" fill="#9fb28a" />
<rect x="518.1" y="240.4" width="3.5" height="3.5" fill="#0b0b0b" />
<rect x="522.1" y="240.4" width="5.5" height="3.5" fill="#9fb28a" />
<rect x="523.1" y="240.4" width="3.5" height="3.5" fill="#0b0b0b" />
<rect x="522.5" y="249.2" width="5.5" height="3.5" fill="#9fb28a" />
<rect x="523.5" y="249.2" width="3.5" height="3.5" fill="#0b0b0b" />
<rect x="550.4" y="237.1" width="5.5" height="3.5" fill="#9fb28a" />
<rect x="551.4" y="237.1" width="3.5" height="3.5" fill="#0b0b0b" />
<rect x="555.1" y="237.1" width="5.5" height="3.5" fill="#9fb28a" />
<rect x="556.1" y="237.1" width="3.5" height="3.5" fill="#0b0b0b" />
<rect x="550.8" y="246.2" width="5.5" height="3.5" fill="#9fb28a" />
<rect x="551.8" y="246.2" width="3.5" height="3.5" fill="#0b0b0b" />
<rect x="527.8" y="261.4" width="5.5" height="3.5" fill="#9fb28a" />
<rect x="528.8" y="261.4" width="3.5" height="3.5" fill="#0b0b0b" />
<rect x="532.8" y="261.4" width="5.5" height="3.5" fill="#9fb28a" />
<rect x="533.8" y="261.4" width="3.5" height="3.5" fill="#0b0b0b" />
<rect x="537.8" y="261.4" width="5.5" height="3.5" fill="#9fb28a" />
<rect x="538.8" y="261.4" width="3.5" height="3.5" fill="#0b0b0b" />
<rect x="542.8" y="261.4" width="5.5" height="3.5" fill="#9fb28a" />
<rect x="543.8" y="261.4" width="3.5" height="3.5" fill="#0b0b0b" />
<rect x="547.7" y="261.4" width="5.5" height="3.5" fill="#9fb28a" />
<rect x="548.7" y="261.4" width="3.5" height="3.5" fill="#0b0b0b" />
<rect x="514.0" y="264.2" width="5.5" height="3.5" fill="#9fb28a" />
<rect x="515.0" y="264.2" width="3.5" height="3.5" fill="#0b0b0b" />
<rect x="528.0" y="271.6" width="5.5" height="3.5" fill="#9fb28a" />
<rect x="529.0" y="271.6" width="3.5" height="3.5" fill="#0b0b0b" />
<rect x="548.3" y="284.8" width="5.5" height="3.5" fill="#9fb28a" />
<rect x="549.3" y="284.8" width="3.5" height="3.5" fill="#0b0b0b" />
<rect x="528.7" y="297.1" width="5.5" height="3.5" fill="#9fb28a" />
<rect x="529.7" y="297.1" width="3.5" height="3.5" fill="#0b0b0b" />
<rect x="533.8" y="297.1" width="5.5" height="3.5" fill="#9fb28a" />
<rect x="534.8" y="297.1" width="3.5" height="3.5" fill="#0b0b0b" />
<rect x="538.8" y="297.1" width="5.5" height="3.5" fill="#9fb28a" />
<rect x="539.8" y="297.1" width="3.5" height="3.5" fill="#0b0b0b" />
<rect x="543.9" y="297.1" width="5.5" height="3.5" fill="#9fb28a" />
<rect x="544.9" y="297.1" width="3.5" height="3.5" fill="#0b0b0b" />
<rect x="548.9" y="297.1" width="5.5" height="3.5" fill="#9fb28a" />
<rect x="549.9" y="297.1" width="3.5" height="3.5" fill="#0b0b0b" />
<rect x="553.8" y="297.1" width="5.5" height="3.5" fill="#9fb28a" />
<rect x="554.8" y="297.1" width="3.5" height="3.5" fill="#0b0b0b" />
<rect x="536.3" y="304.4" width="5.5" height="3.5" fill="#9fb28a" />
<rect x="537.3" y="304.4" width="3.5" height="3.5" fill="#0b0b0b" />
<rect x="534.5" y="211.2" width="3.4" height="7.0" fill="#9fb28a" />
<rect x="534.5" y="212.2" width="3.4" height="5.0" fill="#0b0b0b" />
<rect x="541.3" y="267.6" width="3.4" height="5.6" fill="#9fb28a" />
<rect x="541.3" y="268.6" width="3.4" height="3.6" fill="#0b0b0b" />
<rect x="541.5" y="272.7" width="3.4" height="5.6" fill="#9fb28a" />
<rect x="541.5" y="273.7" width="3.4" height="3.6" fill="#0b0b0b" />
<rect x="542.0" y="213.4" width="2.4" height="2.6" fill="#d8d890" />
<rect x="547.4" y="213.4" width="2.4" height="2.6" fill="#d8d890" />
<rect x="517.0" y="271.3" width="4.0" height="4.0" fill="#d8c830" />
<rect x="518.0" y="292.8" width="4.0" height="4.0" fill="#d8c830" />
<rect x="514.0" y="277.0" width="11.0" height="15.3" fill="#3c3c3c" />
<rect x="537.3" y="280.4" width="5.2" height="9.2" fill="#2e3236" />
<rect x="533.8" y="281.1" width="2.4" height="1.8" fill="#d9d7a0" />
<rect x="543.6" y="281.1" width="2.4" height="1.8" fill="#d9d7a0" />
<rect x="534.0" y="284.5" width="2.4" height="1.8" fill="#d9d7a0" />
<rect x="543.8" y="284.5" width="2.4" height="1.8" fill="#d9d7a0" />
<rect x="534.2" y="287.9" width="2.4" height="1.8" fill="#d9d7a0" />
<rect x="544.0" y="287.9" width="2.4" height="1.8" fill="#d9d7a0" />
<rect x="518.4" y="300.2" width="4.2" height="7.6" fill="#0a0a0a" />
<rect x="544.6" y="304.2" width="3.2" height="4.0" fill="none" stroke="#dfe8d8" stroke-width="0.5"/>
<rect x="549.4" y="304.2" width="3.2" height="4.0" fill="none" stroke="#dfe8d8" stroke-width="0.5"/>
<rect x="554.0" y="304.2" width="3.2" height="4.0" fill="none" stroke="#dfe8d8" stroke-width="0.5"/>
<rect x="503.4" y="312.0" width="17.9" height="8.8" fill="#141414" />
<ellipse cx="507.4" cy="316.2" rx="2.1" ry="2.6" fill="#85603a"/>
<ellipse cx="507.1" cy="315.6" rx="1.1" ry="1.5" fill="#b58a58"/>
<ellipse cx="516.4" cy="316.2" rx="2.1" ry="2.6" fill="#85603a"/>
<ellipse cx="516.1" cy="315.6" rx="1.1" ry="1.5" fill="#b58a58"/>
<rect x="528.1" y="312.0" width="26.1" height="8.8" fill="#141414" />
<ellipse cx="532.1" cy="316.2" rx="2.1" ry="2.6" fill="#85603a"/>
<ellipse cx="531.8" cy="315.6" rx="1.1" ry="1.5" fill="#b58a58"/>
<ellipse cx="541.0" cy="316.2" rx="2.1" ry="2.6" fill="#85603a"/>
<ellipse cx="540.7" cy="315.6" rx="1.1" ry="1.5" fill="#b58a58"/>
<ellipse cx="550.0" cy="316.2" rx="2.1" ry="2.6" fill="#85603a"/>
<ellipse cx="549.7" cy="315.6" rx="1.1" ry="1.5" fill="#b58a58"/>
<text x="494.5" y="231.0" font-family="Liberation Mono,monospace" font-size="7.0" fill="#eef4ee" text-anchor="start" font-weight="normal" transform="rotate(-90 494.5 231.0)" textLength="11" lengthAdjust="spacingAndGlyphs" stroke="#eef4ee" stroke-width="0.25">CH3</text>
<text x="501.8" y="231.0" font-family="Liberation Mono,monospace" font-size="7.0" fill="#eef4ee" text-anchor="start" font-weight="normal" transform="rotate(-90 501.8 231.0)" textLength="31" lengthAdjust="spacingAndGlyphs" stroke="#eef4ee" stroke-width="0.25">Filt Out</text>
<text x="501.4" y="256.6" font-family="Liberation Mono,monospace" font-size="7.0" fill="#eef4ee" text-anchor="start" font-weight="normal" transform="rotate(-90 501.4 256.6)" textLength="11.6" lengthAdjust="spacingAndGlyphs" stroke="#eef4ee" stroke-width="0.25">GND</text>
<text x="581.5" y="272.8" font-family="Liberation Mono,monospace" font-size="7.0" fill="#eef4ee" text-anchor="start" font-weight="normal" transform="rotate(-90 581.5 272.8)" textLength="45.6" lengthAdjust="spacingAndGlyphs" stroke="#eef4ee" stroke-width="0.25">CH3 Filt In</text>
<text x="583.3" y="295.0" font-family="Liberation Mono,monospace" font-size="7.0" fill="#eef4ee" text-anchor="start" font-weight="normal" transform="rotate(-90 583.3 295.0)" textLength="16" lengthAdjust="spacingAndGlyphs" stroke="#eef4ee" stroke-width="0.25">CT3+</text>
<text x="584.3" y="316.6" font-family="Liberation Mono,monospace" font-size="7.0" fill="#eef4ee" text-anchor="start" font-weight="normal" transform="rotate(-90 584.3 316.6)" textLength="16" lengthAdjust="spacingAndGlyphs" stroke="#eef4ee" stroke-width="0.25">CT3-</text>
<text x="504.1" y="217.6" font-family="Liberation Sans,sans-serif" font-size="3.54" fill="#e4ece4" text-anchor="start" font-weight="bold" >TP3</text>
<text x="561.1" y="216.6" font-family="Liberation Sans,sans-serif" font-size="3.54" fill="#e4ece4" text-anchor="start" font-weight="bold" >TP16</text>
<text x="504.3" y="262.4" font-family="Liberation Sans,sans-serif" font-size="3.54" fill="#e4ece4" text-anchor="start" font-weight="bold" >TP15</text>
<text x="564.3" y="261.6" font-family="Liberation Sans,sans-serif" font-size="3.54" fill="#e4ece4" text-anchor="start" font-weight="bold" >TP4</text>
<text x="564.1" y="280.6" font-family="Liberation Sans,sans-serif" font-size="3.54" fill="#e4ece4" text-anchor="start" font-weight="bold" >TP11</text>
<text x="564.9" y="316.8" font-family="Liberation Sans,sans-serif" font-size="3.54" fill="#e4ece4" text-anchor="start" font-weight="bold" >TP12</text>
<text x="533.8" y="209.4" font-family="Liberation Sans,sans-serif" font-size="3.54" fill="#e4ece4" text-anchor="start" font-weight="bold" >R27R30</text>
<text x="534.0" y="212.6" font-family="Liberation Sans,sans-serif" font-size="3.3" fill="#e4ece4" text-anchor="start" font-weight="bold" >C15 C13</text>
<text x="554.1" y="258.6" font-family="Liberation Sans,sans-serif" font-size="3.54" fill="#e4ece4" text-anchor="start" font-weight="bold" >U5</text>
<text x="510.4" y="287.0" font-family="Liberation Sans,sans-serif" font-size="3.54" fill="#e4ece4" text-anchor="start" font-weight="bold" transform="rotate(-90 510.4 287.0)" >L1</text>
<text x="526.4" y="307.4" font-family="Liberation Sans,sans-serif" font-size="3.78" fill="#e4ece4" text-anchor="start" font-weight="bold" >R5</text>
<text x="558.4" y="318.6" font-family="Liberation Sans,sans-serif" font-size="3.54" fill="#e4ece4" text-anchor="start" font-weight="bold" transform="rotate(-90 558.4 318.6)" >J1</text>
<text x="498.8" y="319.4" font-family="Liberation Sans,sans-serif" font-size="3.3" fill="#e4ece4" text-anchor="start" font-weight="bold" transform="rotate(-90 498.8 319.4)" >J10</text>
<text x="557.6" y="268.6" font-family="Liberation Sans,sans-serif" font-size="3.54" fill="#e4ece4" text-anchor="start" font-weight="bold" >R25</text>
<text x="557.8" y="272.8" font-family="Liberation Sans,sans-serif" font-size="3.54" fill="#e4ece4" text-anchor="start" font-weight="bold" >C67</text>
<text x="519.9" y="231.6" font-family="Liberation Sans,sans-serif" font-size="3.3" fill="#e4ece4" text-anchor="start" font-weight="bold" transform="rotate(-90 519.9 231.6)" >R9</text>
<text x="516.7" y="249.6" font-family="Liberation Sans,sans-serif" font-size="3.3" fill="#e4ece4" text-anchor="start" font-weight="bold" transform="rotate(-90 516.7 249.6)" >R72</text>
<text x="553.9" y="231.6" font-family="Liberation Sans,sans-serif" font-size="3.3" fill="#e4ece4" text-anchor="start" font-weight="bold" transform="rotate(-90 553.9 231.6)" >C8</text>
<text x="560.6" y="246.6" font-family="Liberation Sans,sans-serif" font-size="3.3" fill="#e4ece4" text-anchor="start" font-weight="bold" transform="rotate(-90 560.6 246.6)" >C10</text>
<text x="526.0" y="222.4" font-family="Liberation Sans,sans-serif" font-size="3.42" fill="#e4ece4" text-anchor="start" font-weight="bold" transform="rotate(-90 526.0 222.4)" >R29</text>
<text x="531.0" y="222.4" font-family="Liberation Sans,sans-serif" font-size="3.42" fill="#e4ece4" text-anchor="start" font-weight="bold" transform="rotate(-90 531.0 222.4)" >C16</text>
<text x="522.9" y="262.4" font-family="Liberation Sans,sans-serif" font-size="3.54" fill="#e4ece4" text-anchor="start" font-weight="bold" transform="rotate(-90 522.9 262.4)" >C11</text>
<text x="527.7" y="259.4" font-family="Liberation Sans,sans-serif" font-size="3.54" fill="#e4ece4" text-anchor="start" font-weight="bold" transform="rotate(-90 527.7 259.4)" >C4</text>
<text x="558.9" y="262.4" font-family="Liberation Sans,sans-serif" font-size="3.42" fill="#e4ece4" text-anchor="start" font-weight="bold" transform="rotate(-90 558.9 262.4)" >R68</text>
<text x="563.3" y="262.4" font-family="Liberation Sans,sans-serif" font-size="3.42" fill="#e4ece4" text-anchor="start" font-weight="bold" transform="rotate(-90 563.3 262.4)" >C18</text>
<text x="559.1" y="245.4" font-family="Liberation Sans,sans-serif" font-size="3.42" fill="#e4ece4" text-anchor="start" font-weight="bold" transform="rotate(-90 559.1 245.4)" >R21</text>
<text x="554.6" y="222.4" font-family="Liberation Sans,sans-serif" font-size="3.42" fill="#e4ece4" text-anchor="start" font-weight="bold" transform="rotate(-90 554.6 222.4)" >C9</text>
<text x="503.5" y="268.0" font-family="Liberation Sans,sans-serif" font-size="3.78" fill="#e4ece4" text-anchor="start" font-weight="bold" >R3</text>
<text x="515.0" y="246.4" font-family="Liberation Sans,sans-serif" font-size="3.3" fill="#e4ece4" text-anchor="start" font-weight="bold" transform="rotate(-90 515.0 246.4)" >C7</text>
<text x="527.7" y="283.4" font-family="Liberation Sans,sans-serif" font-size="3.42" fill="#e4ece4" text-anchor="start" font-weight="bold" transform="rotate(-90 527.7 283.4)" >R23</text>
<text x="532.7" y="296.4" font-family="Liberation Sans,sans-serif" font-size="3.42" fill="#e4ece4" text-anchor="start" font-weight="bold" transform="rotate(-90 532.7 296.4)" >R24</text>
<text x="532.5" y="284.4" font-family="Liberation Sans,sans-serif" font-size="3.42" fill="#e4ece4" text-anchor="start" font-weight="bold" transform="rotate(-90 532.5 284.4)" >U3</text>
<text x="557.5" y="291.4" font-family="Liberation Sans,sans-serif" font-size="3.54" fill="#e4ece4" text-anchor="start" font-weight="bold" transform="rotate(-90 557.5 291.4)" >C2</text>
<text x="563.6" y="302.4" font-family="Liberation Sans,sans-serif" font-size="3.42" fill="#e4ece4" text-anchor="start" font-weight="bold" transform="rotate(-90 563.6 302.4)" >C22</text>
<text x="514.1" y="308.4" font-family="Liberation Sans,sans-serif" font-size="3.42" fill="#e4ece4" text-anchor="start" font-weight="bold" transform="rotate(-90 514.1 308.4)" >D1</text>
<polygon points="613.9,283.0 622.2,272.0 691.2,272.0 695.2,330.0 617.2,330.0" fill="#45882f" opacity="0.85"/>
<circle cx="614.6" cy="226.9" r="7.6" fill="#1c4f1e" opacity="0.55"/>
<circle cx="614.3" cy="226.0" r="6.9" fill="#f1f1f1" />
<circle cx="614.7" cy="226.7" r="4.8" fill="#cfcfcf" />
<circle cx="614.5" cy="226.4" r="3.6" fill="#e2e2e2" />
<rect x="612.4" y="220.6" width="3.8" height="6.8" fill="#a6a6a6" rx="1.7"/>
<rect x="613.8" y="221.2" width="1.5" height="5.6" fill="#8a8a8a" rx="0.6"/>
<rect x="612.5" y="220.8" width="1.2" height="6.2" fill="#d9d9d9" rx="0.6"/>
<circle cx="616.2" cy="252.3" r="7.6" fill="#1c4f1e" opacity="0.55"/>
<circle cx="615.9" cy="251.4" r="6.9" fill="#f1f1f1" />
<circle cx="616.3" cy="252.1" r="4.8" fill="#cfcfcf" />
<circle cx="616.1" cy="251.8" r="3.6" fill="#e2e2e2" />
<rect x="614.0" y="246.0" width="3.8" height="6.8" fill="#a6a6a6" rx="1.7"/>
<rect x="615.4" y="246.6" width="1.5" height="5.6" fill="#8a8a8a" rx="0.6"/>
<rect x="614.1" y="246.2" width="1.2" height="6.2" fill="#d9d9d9" rx="0.6"/>
<circle cx="672.2" cy="226.5" r="7.6" fill="#1c4f1e" opacity="0.55"/>
<circle cx="671.9" cy="225.6" r="6.9" fill="#f1f1f1" />
<circle cx="672.3" cy="226.3" r="4.8" fill="#cfcfcf" />
<circle cx="672.1" cy="226.0" r="3.6" fill="#e2e2e2" />
<rect x="670.0" y="220.2" width="3.8" height="6.8" fill="#a6a6a6" rx="1.7"/>
<rect x="671.4" y="220.8" width="1.5" height="5.6" fill="#8a8a8a" rx="0.6"/>
<rect x="670.1" y="220.4" width="1.2" height="6.2" fill="#d9d9d9" rx="0.6"/>
<circle cx="673.7" cy="251.9" r="7.6" fill="#1c4f1e" opacity="0.55"/>
<circle cx="673.4" cy="251.0" r="6.9" fill="#f1f1f1" />
<circle cx="673.8" cy="251.7" r="4.8" fill="#cfcfcf" />
<circle cx="673.6" cy="251.4" r="3.6" fill="#e2e2e2" />
<rect x="671.5" y="245.6" width="3.8" height="6.8" fill="#a6a6a6" rx="1.7"/>
<rect x="672.9" y="246.2" width="1.5" height="5.6" fill="#8a8a8a" rx="0.6"/>
<rect x="671.6" y="245.8" width="1.2" height="6.2" fill="#d9d9d9" rx="0.6"/>
<circle cx="675.9" cy="290.3" r="7.6" fill="#1c4f1e" opacity="0.55"/>
<circle cx="675.6" cy="289.4" r="6.9" fill="#f1f1f1" />
<circle cx="676.0" cy="290.1" r="4.8" fill="#cfcfcf" />
<circle cx="675.8" cy="289.8" r="3.6" fill="#e2e2e2" />
<rect x="673.7" y="284.0" width="3.8" height="6.8" fill="#a6a6a6" rx="1.7"/>
<rect x="675.1" y="284.6" width="1.5" height="5.6" fill="#8a8a8a" rx="0.6"/>
<rect x="673.8" y="284.2" width="1.2" height="6.2" fill="#d9d9d9" rx="0.6"/>
<circle cx="677.1" cy="307.8" r="7.6" fill="#1c4f1e" opacity="0.55"/>
<circle cx="676.8" cy="306.9" r="6.9" fill="#f1f1f1" />
<circle cx="677.2" cy="307.6" r="4.8" fill="#cfcfcf" />
<circle cx="677.0" cy="307.3" r="3.6" fill="#e2e2e2" />
<rect x="674.9" y="301.5" width="3.8" height="6.8" fill="#a6a6a6" rx="1.7"/>
<rect x="676.3" y="302.1" width="1.5" height="5.6" fill="#8a8a8a" rx="0.6"/>
<rect x="675.0" y="301.7" width="1.2" height="6.2" fill="#d9d9d9" rx="0.6"/>
<rect x="637.6" y="232.2" width="1.8" height="4.4" fill="#a4b890" />
<rect x="639.7" y="232.2" width="1.8" height="4.4" fill="#a4b890" />
<rect x="641.9" y="232.2" width="1.8" height="4.4" fill="#a4b890" />
<rect x="644.0" y="232.2" width="1.8" height="4.4" fill="#a4b890" />
<rect x="646.1" y="232.2" width="1.8" height="4.4" fill="#a4b890" />
<rect x="648.3" y="232.2" width="1.8" height="4.4" fill="#a4b890" />
<rect x="650.4" y="232.2" width="1.8" height="4.4" fill="#a4b890" />
<rect x="652.5" y="232.2" width="1.8" height="4.4" fill="#a4b890" />
<rect x="637.6" y="250.8" width="1.8" height="4.8" fill="#a4b890" />
<rect x="639.7" y="250.8" width="1.8" height="4.8" fill="#a4b890" />
<rect x="641.9" y="250.8" width="1.8" height="4.8" fill="#a4b890" />
<rect x="644.0" y="250.8" width="1.8" height="4.8" fill="#a4b890" />
<rect x="646.1" y="250.8" width="1.8" height="4.8" fill="#a4b890" />
<rect x="648.3" y="250.8" width="1.8" height="4.8" fill="#a4b890" />
<rect x="650.4" y="250.8" width="1.8" height="4.8" fill="#a4b890" />
<rect x="652.5" y="250.8" width="1.8" height="4.8" fill="#a4b890" />
<rect x="637.0" y="236.4" width="17.9" height="14.6" fill="#3b4046" />
<rect x="640.0" y="242.2" width="1.4" height="1.0" fill="#ddd" />
<rect x="642.0" y="242.6" width="6.0" height="0.6" fill="#999" />
<rect x="648.1" y="216.8" width="5.5" height="3.5" fill="#9fb28a" />
<rect x="649.1" y="216.8" width="3.5" height="3.5" fill="#0b0b0b" />
<rect x="626.6" y="223.8" width="5.5" height="3.5" fill="#9fb28a" />
<rect x="627.6" y="223.8" width="3.5" height="3.5" fill="#0b0b0b" />
<rect x="631.6" y="223.8" width="5.5" height="3.5" fill="#9fb28a" />
<rect x="632.6" y="223.8" width="3.5" height="3.5" fill="#0b0b0b" />
<rect x="636.5" y="223.8" width="5.5" height="3.5" fill="#9fb28a" />
<rect x="637.5" y="223.8" width="3.5" height="3.5" fill="#0b0b0b" />
<rect x="646.5" y="223.8" width="5.5" height="3.5" fill="#9fb28a" />
<rect x="647.5" y="223.8" width="3.5" height="3.5" fill="#0b0b0b" />
<rect x="651.3" y="223.8" width="5.5" height="3.5" fill="#9fb28a" />
<rect x="652.3" y="223.8" width="3.5" height="3.5" fill="#0b0b0b" />
<rect x="627.2" y="232.2" width="5.5" height="3.5" fill="#9fb28a" />
<rect x="628.2" y="232.2" width="3.5" height="3.5" fill="#0b0b0b" />
<rect x="622.8" y="240.4" width="5.5" height="3.5" fill="#9fb28a" />
<rect x="623.8" y="240.4" width="3.5" height="3.5" fill="#0b0b0b" />
<rect x="627.8" y="240.4" width="5.5" height="3.5" fill="#9fb28a" />
<rect x="628.8" y="240.4" width="3.5" height="3.5" fill="#0b0b0b" />
<rect x="628.4" y="249.2" width="5.5" height="3.5" fill="#9fb28a" />
<rect x="629.4" y="249.2" width="3.5" height="3.5" fill="#0b0b0b" />
<rect x="656.0" y="237.1" width="5.5" height="3.5" fill="#9fb28a" />
<rect x="657.0" y="237.1" width="3.5" height="3.5" fill="#0b0b0b" />
<rect x="660.7" y="237.1" width="5.5" height="3.5" fill="#9fb28a" />
<rect x="661.7" y="237.1" width="3.5" height="3.5" fill="#0b0b0b" />
<rect x="656.6" y="246.2" width="5.5" height="3.5" fill="#9fb28a" />
<rect x="657.6" y="246.2" width="3.5" height="3.5" fill="#0b0b0b" />
<rect x="634.0" y="261.4" width="5.5" height="3.5" fill="#9fb28a" />
<rect x="635.0" y="261.4" width="3.5" height="3.5" fill="#0b0b0b" />
<rect x="639.0" y="261.4" width="5.5" height="3.5" fill="#9fb28a" />
<rect x="640.0" y="261.4" width="3.5" height="3.5" fill="#0b0b0b" />
<rect x="644.0" y="261.4" width="5.5" height="3.5" fill="#9fb28a" />
<rect x="645.0" y="261.4" width="3.5" height="3.5" fill="#0b0b0b" />
<rect x="649.0" y="261.4" width="5.5" height="3.5" fill="#9fb28a" />
<rect x="650.0" y="261.4" width="3.5" height="3.5" fill="#0b0b0b" />
<rect x="653.9" y="261.4" width="5.5" height="3.5" fill="#9fb28a" />
<rect x="654.9" y="261.4" width="3.5" height="3.5" fill="#0b0b0b" />
<rect x="620.3" y="264.2" width="5.5" height="3.5" fill="#9fb28a" />
<rect x="621.3" y="264.2" width="3.5" height="3.5" fill="#0b0b0b" />
<rect x="634.4" y="271.6" width="5.5" height="3.5" fill="#9fb28a" />
<rect x="635.4" y="271.6" width="3.5" height="3.5" fill="#0b0b0b" />
<rect x="655.0" y="284.8" width="5.5" height="3.5" fill="#9fb28a" />
<rect x="656.0" y="284.8" width="3.5" height="3.5" fill="#0b0b0b" />
<rect x="635.7" y="297.1" width="5.5" height="3.5" fill="#9fb28a" />
<rect x="636.7" y="297.1" width="3.5" height="3.5" fill="#0b0b0b" />
<rect x="640.8" y="297.1" width="5.5" height="3.5" fill="#9fb28a" />
<rect x="641.8" y="297.1" width="3.5" height="3.5" fill="#0b0b0b" />
<rect x="645.8" y="297.1" width="5.5" height="3.5" fill="#9fb28a" />
<rect x="646.8" y="297.1" width="3.5" height="3.5" fill="#0b0b0b" />
<rect x="650.9" y="297.1" width="5.5" height="3.5" fill="#9fb28a" />
<rect x="651.9" y="297.1" width="3.5" height="3.5" fill="#0b0b0b" />
<rect x="655.9" y="297.1" width="5.5" height="3.5" fill="#9fb28a" />
<rect x="656.9" y="297.1" width="3.5" height="3.5" fill="#0b0b0b" />
<rect x="660.8" y="297.1" width="5.5" height="3.5" fill="#9fb28a" />
<rect x="661.8" y="297.1" width="3.5" height="3.5" fill="#0b0b0b" />
<rect x="643.5" y="304.4" width="5.5" height="3.5" fill="#9fb28a" />
<rect x="644.5" y="304.4" width="3.5" height="3.5" fill="#0b0b0b" />
<rect x="639.5" y="211.2" width="3.4" height="7.0" fill="#9fb28a" />
<rect x="639.5" y="212.2" width="3.4" height="5.0" fill="#0b0b0b" />
<rect x="647.6" y="267.6" width="3.4" height="5.6" fill="#9fb28a" />
<rect x="647.6" y="268.6" width="3.4" height="3.6" fill="#0b0b0b" />
<rect x="648.0" y="272.7" width="3.4" height="5.6" fill="#9fb28a" />
<rect x="648.0" y="273.7" width="3.4" height="3.6" fill="#0b0b0b" />
<rect x="647.0" y="213.4" width="2.4" height="2.6" fill="#d8d890" />
<rect x="652.4" y="213.4" width="2.4" height="2.6" fill="#d8d890" />
<rect x="623.5" y="271.3" width="4.0" height="4.0" fill="#d8c830" />
<rect x="625.0" y="292.8" width="4.0" height="4.0" fill="#d8c830" />
<rect x="620.7" y="277.0" width="11.0" height="15.3" fill="#3c3c3c" />
<rect x="644.0" y="280.4" width="5.2" height="9.2" fill="#2e3236" />
<rect x="640.5" y="281.1" width="2.4" height="1.8" fill="#d9d7a0" />
<rect x="650.3" y="281.1" width="2.4" height="1.8" fill="#d9d7a0" />
<rect x="640.7" y="284.5" width="2.4" height="1.8" fill="#d9d7a0" />
<rect x="650.5" y="284.5" width="2.4" height="1.8" fill="#d9d7a0" />
<rect x="640.9" y="287.9" width="2.4" height="1.8" fill="#d9d7a0" />
<rect x="650.7" y="287.9" width="2.4" height="1.8" fill="#d9d7a0" />
<rect x="625.5" y="300.2" width="4.2" height="7.6" fill="#0a0a0a" />
<rect x="651.8" y="304.2" width="3.2" height="4.0" fill="none" stroke="#dfe8d8" stroke-width="0.5"/>
<rect x="656.6" y="304.2" width="3.2" height="4.0" fill="none" stroke="#dfe8d8" stroke-width="0.5"/>
<rect x="661.2" y="304.2" width="3.2" height="4.0" fill="none" stroke="#dfe8d8" stroke-width="0.5"/>
<rect x="610.9" y="312.0" width="17.9" height="8.8" fill="#141414" />
<ellipse cx="614.9" cy="316.2" rx="2.1" ry="2.6" fill="#85603a"/>
<ellipse cx="614.6" cy="315.6" rx="1.1" ry="1.5" fill="#b58a58"/>
<ellipse cx="623.9" cy="316.2" rx="2.1" ry="2.6" fill="#85603a"/>
<ellipse cx="623.6" cy="315.6" rx="1.1" ry="1.5" fill="#b58a58"/>
<rect x="635.6" y="312.0" width="26.1" height="8.8" fill="#141414" />
<ellipse cx="639.6" cy="316.2" rx="2.1" ry="2.6" fill="#85603a"/>
<ellipse cx="639.3" cy="315.6" rx="1.1" ry="1.5" fill="#b58a58"/>
<ellipse cx="648.5" cy="316.2" rx="2.1" ry="2.6" fill="#85603a"/>
<ellipse cx="648.2" cy="315.6" rx="1.1" ry="1.5" fill="#b58a58"/>
<ellipse cx="657.5" cy="316.2" rx="2.1" ry="2.6" fill="#85603a"/>
<ellipse cx="657.2" cy="315.6" rx="1.1" ry="1.5" fill="#b58a58"/>
<text x="599.8" y="231.0" font-family="Liberation Mono,monospace" font-size="7.0" fill="#eef4ee" text-anchor="start" font-weight="normal" transform="rotate(-90 599.8 231.0)" textLength="11" lengthAdjust="spacingAndGlyphs" stroke="#eef4ee" stroke-width="0.25">CH4</text>
<text x="606.8" y="231.0" font-family="Liberation Mono,monospace" font-size="7.0" fill="#eef4ee" text-anchor="start" font-weight="normal" transform="rotate(-90 606.8 231.0)" textLength="31" lengthAdjust="spacingAndGlyphs" stroke="#eef4ee" stroke-width="0.25">Filt Out</text>
<text x="607.3" y="256.6" font-family="Liberation Mono,monospace" font-size="7.0" fill="#eef4ee" text-anchor="start" font-weight="normal" transform="rotate(-90 607.3 256.6)" textLength="11.6" lengthAdjust="spacingAndGlyphs" stroke="#eef4ee" stroke-width="0.25">GND</text>
<text x="687.4" y="272.8" font-family="Liberation Mono,monospace" font-size="7.0" fill="#eef4ee" text-anchor="start" font-weight="normal" transform="rotate(-90 687.4 272.8)" textLength="45.6" lengthAdjust="spacingAndGlyphs" stroke="#eef4ee" stroke-width="0.25">CH4 Filt In</text>
<text x="690.0" y="295.0" font-family="Liberation Mono,monospace" font-size="7.0" fill="#eef4ee" text-anchor="start" font-weight="normal" transform="rotate(-90 690.0 295.0)" textLength="16" lengthAdjust="spacingAndGlyphs" stroke="#eef4ee" stroke-width="0.25">CT4+</text>
<text x="691.5" y="316.6" font-family="Liberation Mono,monospace" font-size="7.0" fill="#eef4ee" text-anchor="start" font-weight="normal" transform="rotate(-90 691.5 316.6)" textLength="16" lengthAdjust="spacingAndGlyphs" stroke="#eef4ee" stroke-width="0.25">CT4-</text>
<text x="609.2" y="217.6" font-family="Liberation Sans,sans-serif" font-size="3.54" fill="#e4ece4" text-anchor="start" font-weight="bold" >TP4</text>
<text x="666.1" y="216.6" font-family="Liberation Sans,sans-serif" font-size="3.54" fill="#e4ece4" text-anchor="start" font-weight="bold" >TP16</text>
<text x="610.5" y="262.4" font-family="Liberation Sans,sans-serif" font-size="3.54" fill="#e4ece4" text-anchor="start" font-weight="bold" >TP15</text>
<text x="670.4" y="261.6" font-family="Liberation Sans,sans-serif" font-size="3.54" fill="#e4ece4" text-anchor="start" font-weight="bold" >TP5</text>
<text x="670.7" y="280.6" font-family="Liberation Sans,sans-serif" font-size="3.54" fill="#e4ece4" text-anchor="start" font-weight="bold" >TP12</text>
<text x="672.3" y="316.8" font-family="Liberation Sans,sans-serif" font-size="3.54" fill="#e4ece4" text-anchor="start" font-weight="bold" >TP13</text>
<text x="638.7" y="209.4" font-family="Liberation Sans,sans-serif" font-size="3.54" fill="#e4ece4" text-anchor="start" font-weight="bold" >R27R30</text>
<text x="638.9" y="212.6" font-family="Liberation Sans,sans-serif" font-size="3.3" fill="#e4ece4" text-anchor="start" font-weight="bold" >C15 C13</text>
<text x="660.2" y="258.6" font-family="Liberation Sans,sans-serif" font-size="3.54" fill="#e4ece4" text-anchor="start" font-weight="bold" >U5</text>
<text x="617.1" y="287.0" font-family="Liberation Sans,sans-serif" font-size="3.54" fill="#e4ece4" text-anchor="start" font-weight="bold" transform="rotate(-90 617.1 287.0)" >L1</text>
<text x="633.6" y="307.4" font-family="Liberation Sans,sans-serif" font-size="3.78" fill="#e4ece4" text-anchor="start" font-weight="bold" >R5</text>
<text x="665.6" y="318.6" font-family="Liberation Sans,sans-serif" font-size="3.54" fill="#e4ece4" text-anchor="start" font-weight="bold" transform="rotate(-90 665.6 318.6)" >J1</text>
<text x="606.3" y="319.4" font-family="Liberation Sans,sans-serif" font-size="3.3" fill="#e4ece4" text-anchor="start" font-weight="bold" transform="rotate(-90 606.3 319.4)" >J10</text>
<text x="663.9" y="268.6" font-family="Liberation Sans,sans-serif" font-size="3.54" fill="#e4ece4" text-anchor="start" font-weight="bold" >R25</text>
<text x="664.2" y="272.8" font-family="Liberation Sans,sans-serif" font-size="3.54" fill="#e4ece4" text-anchor="start" font-weight="bold" >C67</text>
<text x="625.3" y="231.6" font-family="Liberation Sans,sans-serif" font-size="3.3" fill="#e4ece4" text-anchor="start" font-weight="bold" transform="rotate(-90 625.3 231.6)" >R9</text>
<text x="622.5" y="249.6" font-family="Liberation Sans,sans-serif" font-size="3.3" fill="#e4ece4" text-anchor="start" font-weight="bold" transform="rotate(-90 622.5 249.6)" >R72</text>
<text x="659.3" y="231.6" font-family="Liberation Sans,sans-serif" font-size="3.3" fill="#e4ece4" text-anchor="start" font-weight="bold" transform="rotate(-90 659.3 231.6)" >C8</text>
<text x="666.3" y="246.6" font-family="Liberation Sans,sans-serif" font-size="3.3" fill="#e4ece4" text-anchor="start" font-weight="bold" transform="rotate(-90 666.3 246.6)" >C10</text>
<text x="631.2" y="222.4" font-family="Liberation Sans,sans-serif" font-size="3.42" fill="#e4ece4" text-anchor="start" font-weight="bold" transform="rotate(-90 631.2 222.4)" >R29</text>
<text x="636.2" y="222.4" font-family="Liberation Sans,sans-serif" font-size="3.42" fill="#e4ece4" text-anchor="start" font-weight="bold" transform="rotate(-90 636.2 222.4)" >C16</text>
<text x="629.1" y="262.4" font-family="Liberation Sans,sans-serif" font-size="3.54" fill="#e4ece4" text-anchor="start" font-weight="bold" transform="rotate(-90 629.1 262.4)" >C11</text>
<text x="633.9" y="259.4" font-family="Liberation Sans,sans-serif" font-size="3.54" fill="#e4ece4" text-anchor="start" font-weight="bold" transform="rotate(-90 633.9 259.4)" >C4</text>
<text x="665.1" y="262.4" font-family="Liberation Sans,sans-serif" font-size="3.42" fill="#e4ece4" text-anchor="start" font-weight="bold" transform="rotate(-90 665.1 262.4)" >R68</text>
<text x="669.5" y="262.4" font-family="Liberation Sans,sans-serif" font-size="3.42" fill="#e4ece4" text-anchor="start" font-weight="bold" transform="rotate(-90 669.5 262.4)" >C18</text>
<text x="664.9" y="245.4" font-family="Liberation Sans,sans-serif" font-size="3.42" fill="#e4ece4" text-anchor="start" font-weight="bold" transform="rotate(-90 664.9 245.4)" >R21</text>
<text x="659.9" y="222.4" font-family="Liberation Sans,sans-serif" font-size="3.42" fill="#e4ece4" text-anchor="start" font-weight="bold" transform="rotate(-90 659.9 222.4)" >C9</text>
<text x="609.8" y="268.0" font-family="Liberation Sans,sans-serif" font-size="3.78" fill="#e4ece4" text-anchor="start" font-weight="bold" >R3</text>
<text x="620.7" y="246.4" font-family="Liberation Sans,sans-serif" font-size="3.3" fill="#e4ece4" text-anchor="start" font-weight="bold" transform="rotate(-90 620.7 246.4)" >C7</text>
<text x="634.3" y="283.4" font-family="Liberation Sans,sans-serif" font-size="3.42" fill="#e4ece4" text-anchor="start" font-weight="bold" transform="rotate(-90 634.3 283.4)" >R23</text>
<text x="639.7" y="296.4" font-family="Liberation Sans,sans-serif" font-size="3.42" fill="#e4ece4" text-anchor="start" font-weight="bold" transform="rotate(-90 639.7 296.4)" >R24</text>
<text x="639.2" y="284.4" font-family="Liberation Sans,sans-serif" font-size="3.42" fill="#e4ece4" text-anchor="start" font-weight="bold" transform="rotate(-90 639.2 284.4)" >U3</text>
<text x="664.3" y="291.4" font-family="Liberation Sans,sans-serif" font-size="3.54" fill="#e4ece4" text-anchor="start" font-weight="bold" transform="rotate(-90 664.3 291.4)" >C2</text>
<text x="670.7" y="302.4" font-family="Liberation Sans,sans-serif" font-size="3.42" fill="#e4ece4" text-anchor="start" font-weight="bold" transform="rotate(-90 670.7 302.4)" >C22</text>
<text x="621.3" y="308.4" font-family="Liberation Sans,sans-serif" font-size="3.42" fill="#e4ece4" text-anchor="start" font-weight="bold" transform="rotate(-90 621.3 308.4)" >D1</text>
<rect x="322.0" y="106.8" width="2.4" height="3.2" fill="#e8e4a8" />
<text x="324.4" y="101.5" font-family="Liberation Sans,sans-serif" font-size="3.3" fill="#e4ece4" text-anchor="start" font-weight="bold" transform="rotate(-90 324.4 101.5)" >D5</text>
<rect x="328.9" y="106.8" width="2.4" height="3.2" fill="#e8e4a8" />
<text x="331.3" y="101.5" font-family="Liberation Sans,sans-serif" font-size="3.3" fill="#e4ece4" text-anchor="start" font-weight="bold" transform="rotate(-90 331.3 101.5)" >D6</text>
<rect x="335.8" y="106.8" width="2.4" height="3.2" fill="#e8e4a8" />
<text x="338.2" y="101.5" font-family="Liberation Sans,sans-serif" font-size="3.3" fill="#e4ece4" text-anchor="start" font-weight="bold" transform="rotate(-90 338.2 101.5)" >D7</text>
<rect x="342.7" y="106.8" width="2.4" height="3.2" fill="#e8e4a8" />
<text x="345.1" y="101.5" font-family="Liberation Sans,sans-serif" font-size="3.3" fill="#e4ece4" text-anchor="start" font-weight="bold" transform="rotate(-90 345.1 101.5)" >D8</text>
<circle cx="372.5" cy="101.6" r="13.8" fill="#1f561c" opacity="0.55"/>
<circle cx="372.2" cy="100.6" r="13.4" fill="#bfae2e" />
<circle cx="372.2" cy="100.6" r="12.6" fill="#d8c84c" />
<circle cx="371.9" cy="99.2" r="11.5" fill="#9a9a9a" />
<circle cx="371.9" cy="99.2" r="11.0" fill="#c4c4c8" />
<circle cx="371.4" cy="97.9" r="9.6" fill="#d6d6da" />
<circle cx="371.0" cy="96.8" r="7.4" fill="#e0e0e4" />
<rect x="370.6" y="91.8" width="1.3" height="4.7" fill="#7a7a7a" rx="0.5"/>
<rect x="370.6" y="98.5" width="1.3" height="4.7" fill="#7a7a7a" rx="0.5"/>
<rect x="365.5" y="97.0" width="4.7" height="1.1" fill="#9a9a9a" rx="0.5"/>
<rect x="372.2" y="97.0" width="4.7" height="1.1" fill="#9a9a9a" rx="0.5"/>
<rect x="379.0" y="109.8" width="5.2" height="2.0" fill="#1428b8" rx="1"/>
<rect x="386.9" y="109.8" width="5.2" height="2.0" fill="#1428b8" rx="1"/>
<rect x="416.3" y="93.3" width="42.6" height="18.2" fill="#232323" />
<rect x="413.8" y="96.0" width="0.8" height="14.0" fill="#cfd8cf" />
<rect x="418.9" y="90.0" width="2.9" height="18.2" rx="1.3" fill="#e2d21e" transform="skewX(-2.0)" transform-origin="420.3 108"/>
<rect x="419.8" y="91.0" width="0.9" height="16" fill="#f2e86a" transform="skewX(-2.0)" transform-origin="420.3 108" opacity="0.7"/>
<rect x="427.4" y="90.0" width="2.9" height="18.2" rx="1.3" fill="#e2d21e" transform="skewX(-2.8)" transform-origin="428.9 108"/>
<rect x="428.4" y="91.0" width="0.9" height="16" fill="#f2e86a" transform="skewX(-2.8)" transform-origin="428.9 108" opacity="0.7"/>
<rect x="436.6" y="90.0" width="2.9" height="18.2" rx="1.3" fill="#e2d21e" transform="skewX(-3.6)" transform-origin="438.0 108"/>
<rect x="437.5" y="91.0" width="0.9" height="16" fill="#f2e86a" transform="skewX(-3.6)" transform-origin="438.0 108" opacity="0.7"/>
<rect x="445.4" y="90.0" width="2.9" height="18.2" rx="1.3" fill="#e2d21e" transform="skewX(-4.4)" transform-origin="446.9 108"/>
<rect x="446.4" y="91.0" width="0.9" height="16" fill="#f2e86a" transform="skewX(-4.4)" transform-origin="446.9 108" opacity="0.7"/>
<rect x="454.8" y="90.0" width="2.9" height="18.2" rx="1.3" fill="#e2d21e" transform="skewX(-5.2)" transform-origin="456.2 108"/>
<rect x="455.7" y="91.0" width="0.9" height="16" fill="#f2e86a" transform="skewX(-5.2)" transform-origin="456.2 108" opacity="0.7"/>
<circle cx="424.6" cy="102.6" r="0.8" fill="#e2d21e" />
<circle cx="433.4" cy="102.6" r="0.8" fill="#e2d21e" />
<circle cx="442.4" cy="102.6" r="0.8" fill="#e2d21e" />
<circle cx="451.4" cy="102.6" r="0.8" fill="#e2d21e" />
<text x="412.5" y="108.0" font-family="Liberation Sans,sans-serif" font-size="3.3" fill="#e4ece4" text-anchor="start" font-weight="bold" transform="rotate(-90 412.5 108.0)" >J4</text>
<text x="475.2" y="110.8" font-family="Liberation Sans,sans-serif" font-size="5.19" fill="#e4ece4" text-anchor="start" font-weight="bold" transform="rotate(-90 475.2 110.8)" >MCU</text>
<rect x="483.2" y="104.6" width="2.6" height="6.6" fill="#ecdcae" />
<text x="485.6" y="102.6" font-family="Liberation Sans,sans-serif" font-size="3.07" fill="#e4ece4" text-anchor="start" font-weight="bold" transform="rotate(-90 485.6 102.6)" >D11</text>
<polygon points="500.8,100.2 526.4,100.2 526.4,113.4 500.8,113.4" fill="#5c9e3a" />
<rect x="526.4" y="90.2" width="24.2" height="23.0" fill="#8b8b8b" />
<rect x="526.4" y="90.2" width="24.2" height="1.4" fill="#a0a0a0" />
<rect x="523.6" y="98.0" width="2.0" height="14.0" fill="#d8d6a0" />
<text x="519.5" y="97.5" font-family="Liberation Sans,sans-serif" font-size="3.54" fill="#e4ece4" text-anchor="start" font-weight="bold" transform="rotate(-90 519.5 97.5)" >L3</text>
<polygon points="575.4,110.8 605.0,110.8 605.0,116.0 643.0,116.0 643.0,148.2 555.6,148.2 562.0,138.0" fill="#4a8a32" opacity="0.92"/>
<text x="601.8" y="90.6" font-family="Liberation Mono,monospace" font-size="6.4" fill="#eef4ee" text-anchor="start" font-weight="normal" transform="rotate(180 601.8 90.6)" textLength="37" lengthAdjust="spacingAndGlyphs" stroke="#eef4ee" stroke-width="0.23">8V to 16V</text>
<text x="601.8" y="98.6" font-family="Liberation Mono,monospace" font-size="6.4" fill="#eef4ee" text-anchor="start" font-weight="normal" transform="rotate(180 601.8 98.6)" textLength="13" lengthAdjust="spacingAndGlyphs" stroke="#eef4ee" stroke-width="0.23">Vin</text>
<path d="M579.6,157.0 L576.4,157.0 L576.4,185.6 L583,185.6" stroke="#e8eee8" stroke-width="1.0" fill="none"/>
<path d="M670,185.8 L679.8,185.8 L679.8,183" stroke="#e8eee8" stroke-width="1.0" fill="none"/>
<polygon points="578.4,157.6 679.8,157.6 680.0,177.5 674.5,182.0 583.5,182.0 578.4,178.5" fill="#2c2c2c" />
<polygon points="580.4,158.6 678.2,158.6 672.0,163.4 586.5,163.4" fill="#454545" />
<polygon points="586.5,172.4 672.0,172.4 677.5,180.2 581.4,180.2" fill="#303030" />
<rect x="586.6" y="163.2" width="85.2" height="9.4" fill="#1d1d1d" />
<rect x="587.2" y="160.6" width="1.1" height="2.2" fill="#5a5a5a" />
<rect x="587.2" y="164.8" width="1.2" height="2.7" fill="#d8c23c" />
<rect x="587.2" y="169.6" width="1.1" height="2.0" fill="#5c5c5c" />
<rect x="589.2" y="160.6" width="1.1" height="2.2" fill="#5a5a5a" />
<rect x="589.2" y="164.8" width="1.2" height="2.7" fill="#d8c23c" />
<rect x="589.2" y="169.6" width="1.1" height="2.0" fill="#5c5c5c" />
<rect x="591.1" y="160.6" width="1.1" height="2.2" fill="#5a5a5a" />
<rect x="591.1" y="164.8" width="1.2" height="2.7" fill="#d8c23c" />
<rect x="591.1" y="169.6" width="1.1" height="2.0" fill="#5c5c5c" />
<rect x="593.1" y="160.6" width="1.1" height="2.2" fill="#5a5a5a" />
<rect x="593.1" y="164.8" width="1.2" height="2.7" fill="#d8c23c" />
<rect x="593.1" y="169.6" width="1.1" height="2.0" fill="#5c5c5c" />
<rect x="595.0" y="160.6" width="1.1" height="2.2" fill="#5a5a5a" />
<rect x="595.0" y="164.8" width="1.2" height="2.7" fill="#d8c23c" />
<rect x="595.0" y="169.6" width="1.1" height="2.0" fill="#5c5c5c" />
<rect x="597.0" y="160.6" width="1.1" height="2.2" fill="#5a5a5a" />
<rect x="597.0" y="164.8" width="1.2" height="2.7" fill="#d8c23c" />
<rect x="597.0" y="169.6" width="1.1" height="2.0" fill="#5c5c5c" />
<rect x="599.0" y="160.6" width="1.1" height="2.2" fill="#5a5a5a" />
<rect x="599.0" y="164.8" width="1.2" height="2.7" fill="#d8c23c" />
<rect x="599.0" y="169.6" width="1.1" height="2.0" fill="#5c5c5c" />
<rect x="600.9" y="160.6" width="1.1" height="2.2" fill="#5a5a5a" />
<rect x="600.9" y="164.8" width="1.2" height="2.7" fill="#d8c23c" />
<rect x="600.9" y="169.6" width="1.1" height="2.0" fill="#5c5c5c" />
<rect x="602.9" y="160.6" width="1.1" height="2.2" fill="#5a5a5a" />
<rect x="602.9" y="164.8" width="1.2" height="2.7" fill="#d8c23c" />
<rect x="602.9" y="169.6" width="1.1" height="2.0" fill="#5c5c5c" />
<rect x="604.8" y="160.6" width="1.1" height="2.2" fill="#5a5a5a" />
<rect x="604.8" y="164.8" width="1.2" height="2.7" fill="#d8c23c" />
<rect x="604.8" y="169.6" width="1.1" height="2.0" fill="#5c5c5c" />
<rect x="606.8" y="160.6" width="1.1" height="2.2" fill="#5a5a5a" />
<rect x="606.8" y="164.8" width="1.2" height="2.7" fill="#d8c23c" />
<rect x="606.8" y="169.6" width="1.1" height="2.0" fill="#5c5c5c" />
<rect x="608.8" y="160.6" width="1.1" height="2.2" fill="#5a5a5a" />
<rect x="608.8" y="164.8" width="1.2" height="2.7" fill="#d8c23c" />
<rect x="608.8" y="169.6" width="1.1" height="2.0" fill="#5c5c5c" />
<rect x="610.7" y="160.6" width="1.1" height="2.2" fill="#5a5a5a" />
<rect x="610.7" y="164.8" width="1.2" height="2.7" fill="#d8c23c" />
<rect x="610.7" y="169.6" width="1.1" height="2.0" fill="#5c5c5c" />
<rect x="612.7" y="160.6" width="1.1" height="2.2" fill="#5a5a5a" />
<rect x="612.7" y="164.8" width="1.2" height="2.7" fill="#d8c23c" />
<rect x="612.7" y="169.6" width="1.1" height="2.0" fill="#5c5c5c" />
<rect x="614.6" y="160.6" width="1.1" height="2.2" fill="#5a5a5a" />
<rect x="614.6" y="164.8" width="1.2" height="2.7" fill="#d8c23c" />
<rect x="614.6" y="169.6" width="1.1" height="2.0" fill="#5c5c5c" />
<rect x="616.6" y="160.6" width="1.1" height="2.2" fill="#5a5a5a" />
<rect x="616.6" y="164.8" width="1.2" height="2.7" fill="#d8c23c" />
<rect x="616.6" y="169.6" width="1.1" height="2.0" fill="#5c5c5c" />
<rect x="618.6" y="160.6" width="1.1" height="2.2" fill="#5a5a5a" />
<rect x="618.6" y="164.8" width="1.2" height="2.7" fill="#d8c23c" />
<rect x="618.6" y="169.6" width="1.1" height="2.0" fill="#5c5c5c" />
<rect x="620.5" y="160.6" width="1.1" height="2.2" fill="#5a5a5a" />
<rect x="620.5" y="164.8" width="1.2" height="2.7" fill="#d8c23c" />
<rect x="620.5" y="169.6" width="1.1" height="2.0" fill="#5c5c5c" />
<rect x="622.5" y="160.6" width="1.1" height="2.2" fill="#5a5a5a" />
<rect x="622.5" y="164.8" width="1.2" height="2.7" fill="#d8c23c" />
<rect x="622.5" y="169.6" width="1.1" height="2.0" fill="#5c5c5c" />
<rect x="624.4" y="160.6" width="1.1" height="2.2" fill="#5a5a5a" />
<rect x="624.4" y="164.8" width="1.2" height="2.7" fill="#d8c23c" />
<rect x="624.4" y="169.6" width="1.1" height="2.0" fill="#5c5c5c" />
<rect x="626.4" y="160.6" width="1.1" height="2.2" fill="#5a5a5a" />
<rect x="626.4" y="164.8" width="1.2" height="2.7" fill="#d8c23c" />
<rect x="626.4" y="169.6" width="1.1" height="2.0" fill="#5c5c5c" />
<rect x="628.4" y="160.6" width="1.1" height="2.2" fill="#5a5a5a" />
<rect x="628.4" y="164.8" width="1.2" height="2.7" fill="#d8c23c" />
<rect x="628.4" y="169.6" width="1.1" height="2.0" fill="#5c5c5c" />
<rect x="630.3" y="160.6" width="1.1" height="2.2" fill="#5a5a5a" />
<rect x="630.3" y="164.8" width="1.2" height="2.7" fill="#d8c23c" />
<rect x="630.3" y="169.6" width="1.1" height="2.0" fill="#5c5c5c" />
<rect x="632.3" y="160.6" width="1.1" height="2.2" fill="#5a5a5a" />
<rect x="632.3" y="164.8" width="1.2" height="2.7" fill="#d8c23c" />
<rect x="632.3" y="169.6" width="1.1" height="2.0" fill="#5c5c5c" />
<rect x="634.2" y="160.6" width="1.1" height="2.2" fill="#5a5a5a" />
<rect x="634.2" y="164.8" width="1.2" height="2.7" fill="#d8c23c" />
<rect x="634.2" y="169.6" width="1.1" height="2.0" fill="#5c5c5c" />
<rect x="636.2" y="160.6" width="1.1" height="2.2" fill="#5a5a5a" />
<rect x="636.2" y="164.8" width="1.2" height="2.7" fill="#d8c23c" />
<rect x="636.2" y="169.6" width="1.1" height="2.0" fill="#5c5c5c" />
<rect x="638.2" y="160.6" width="1.1" height="2.2" fill="#5a5a5a" />
<rect x="638.2" y="164.8" width="1.2" height="2.7" fill="#d8c23c" />
<rect x="638.2" y="169.6" width="1.1" height="2.0" fill="#5c5c5c" />
<rect x="640.1" y="160.6" width="1.1" height="2.2" fill="#5a5a5a" />
<rect x="640.1" y="164.8" width="1.2" height="2.7" fill="#d8c23c" />
<rect x="640.1" y="169.6" width="1.1" height="2.0" fill="#5c5c5c" />
<rect x="642.1" y="160.6" width="1.1" height="2.2" fill="#5a5a5a" />
<rect x="642.1" y="164.8" width="1.2" height="2.7" fill="#d8c23c" />
<rect x="642.1" y="169.6" width="1.1" height="2.0" fill="#5c5c5c" />
<rect x="644.0" y="160.6" width="1.1" height="2.2" fill="#5a5a5a" />
<rect x="644.0" y="164.8" width="1.2" height="2.7" fill="#d8c23c" />
<rect x="644.0" y="169.6" width="1.1" height="2.0" fill="#5c5c5c" />
<rect x="646.0" y="160.6" width="1.1" height="2.2" fill="#5a5a5a" />
<rect x="646.0" y="164.8" width="1.2" height="2.7" fill="#d8c23c" />
<rect x="646.0" y="169.6" width="1.1" height="2.0" fill="#5c5c5c" />
<rect x="648.0" y="160.6" width="1.1" height="2.2" fill="#5a5a5a" />
<rect x="648.0" y="164.8" width="1.2" height="2.7" fill="#d8c23c" />
<rect x="648.0" y="169.6" width="1.1" height="2.0" fill="#5c5c5c" />
<rect x="649.9" y="160.6" width="1.1" height="2.2" fill="#5a5a5a" />
<rect x="649.9" y="164.8" width="1.2" height="2.7" fill="#d8c23c" />
<rect x="649.9" y="169.6" width="1.1" height="2.0" fill="#5c5c5c" />
<rect x="651.9" y="160.6" width="1.1" height="2.2" fill="#5a5a5a" />
<rect x="651.9" y="164.8" width="1.2" height="2.7" fill="#d8c23c" />
<rect x="651.9" y="169.6" width="1.1" height="2.0" fill="#5c5c5c" />
<rect x="653.8" y="160.6" width="1.1" height="2.2" fill="#5a5a5a" />
<rect x="653.8" y="164.8" width="1.2" height="2.7" fill="#d8c23c" />
<rect x="653.8" y="169.6" width="1.1" height="2.0" fill="#5c5c5c" />
<rect x="655.8" y="160.6" width="1.1" height="2.2" fill="#5a5a5a" />
<rect x="655.8" y="164.8" width="1.2" height="2.7" fill="#d8c23c" />
<rect x="655.8" y="169.6" width="1.1" height="2.0" fill="#5c5c5c" />
<rect x="657.8" y="160.6" width="1.1" height="2.2" fill="#5a5a5a" />
<rect x="657.8" y="164.8" width="1.2" height="2.7" fill="#d8c23c" />
<rect x="657.8" y="169.6" width="1.1" height="2.0" fill="#5c5c5c" />
<rect x="659.7" y="160.6" width="1.1" height="2.2" fill="#5a5a5a" />
<rect x="659.7" y="164.8" width="1.2" height="2.7" fill="#d8c23c" />
<rect x="659.7" y="169.6" width="1.1" height="2.0" fill="#5c5c5c" />
<rect x="661.7" y="160.6" width="1.1" height="2.2" fill="#5a5a5a" />
<rect x="661.7" y="164.8" width="1.2" height="2.7" fill="#d8c23c" />
<rect x="661.7" y="169.6" width="1.1" height="2.0" fill="#5c5c5c" />
<rect x="663.6" y="160.6" width="1.1" height="2.2" fill="#5a5a5a" />
<rect x="663.6" y="164.8" width="1.2" height="2.7" fill="#d8c23c" />
<rect x="663.6" y="169.6" width="1.1" height="2.0" fill="#5c5c5c" />
<rect x="665.6" y="160.6" width="1.1" height="2.2" fill="#5a5a5a" />
<rect x="665.6" y="164.8" width="1.2" height="2.7" fill="#d8c23c" />
<rect x="665.6" y="169.6" width="1.1" height="2.0" fill="#5c5c5c" />
<rect x="667.6" y="160.6" width="1.1" height="2.2" fill="#5a5a5a" />
<rect x="667.6" y="164.8" width="1.2" height="2.7" fill="#d8c23c" />
<rect x="667.6" y="169.6" width="1.1" height="2.0" fill="#5c5c5c" />
<rect x="669.5" y="160.6" width="1.1" height="2.2" fill="#5a5a5a" />
<rect x="669.5" y="164.8" width="1.2" height="2.7" fill="#d8c23c" />
<rect x="669.5" y="169.6" width="1.1" height="2.0" fill="#5c5c5c" />
<rect x="585.2" y="179.6" width="1.4" height="6.2" fill="#cdb63a" />
<rect x="587.3" y="179.6" width="1.4" height="6.2" fill="#cdb63a" />
<rect x="589.4" y="179.6" width="1.4" height="6.2" fill="#cdb63a" />
<rect x="591.6" y="179.6" width="1.4" height="6.2" fill="#cdb63a" />
<rect x="593.7" y="179.6" width="1.4" height="6.2" fill="#cdb63a" />
<rect x="595.8" y="179.6" width="1.4" height="6.2" fill="#cdb63a" />
<rect x="597.9" y="179.6" width="1.4" height="6.2" fill="#cdb63a" />
<rect x="600.0" y="179.6" width="1.4" height="6.2" fill="#cdb63a" />
<rect x="602.2" y="179.6" width="1.4" height="6.2" fill="#cdb63a" />
<rect x="604.3" y="179.6" width="1.4" height="6.2" fill="#cdb63a" />
<rect x="606.4" y="179.6" width="1.4" height="6.2" fill="#cdb63a" />
<rect x="608.5" y="179.6" width="1.4" height="6.2" fill="#cdb63a" />
<rect x="610.6" y="179.6" width="1.4" height="6.2" fill="#cdb63a" />
<rect x="612.8" y="179.6" width="1.4" height="6.2" fill="#cdb63a" />
<rect x="614.9" y="179.6" width="1.4" height="6.2" fill="#cdb63a" />
<rect x="617.0" y="179.6" width="1.4" height="6.2" fill="#cdb63a" />
<rect x="619.1" y="179.6" width="1.4" height="6.2" fill="#cdb63a" />
<rect x="621.2" y="179.6" width="1.4" height="6.2" fill="#cdb63a" />
<rect x="623.4" y="179.6" width="1.4" height="6.2" fill="#cdb63a" />
<rect x="625.5" y="179.6" width="1.4" height="6.2" fill="#cdb63a" />
<rect x="627.6" y="179.6" width="1.4" height="6.2" fill="#cdb63a" />
<rect x="629.7" y="179.6" width="1.4" height="6.2" fill="#cdb63a" />
<rect x="631.8" y="179.6" width="1.4" height="6.2" fill="#cdb63a" />
<rect x="634.0" y="179.6" width="1.4" height="6.2" fill="#cdb63a" />
<rect x="636.1" y="179.6" width="1.4" height="6.2" fill="#cdb63a" />
<rect x="638.2" y="179.6" width="1.4" height="6.2" fill="#cdb63a" />
<rect x="640.3" y="179.6" width="1.4" height="6.2" fill="#cdb63a" />
<rect x="642.4" y="179.6" width="1.4" height="6.2" fill="#cdb63a" />
<rect x="644.6" y="179.6" width="1.4" height="6.2" fill="#cdb63a" />
<rect x="646.7" y="179.6" width="1.4" height="6.2" fill="#cdb63a" />
<rect x="648.8" y="179.6" width="1.4" height="6.2" fill="#cdb63a" />
<rect x="650.9" y="179.6" width="1.4" height="6.2" fill="#cdb63a" />
<rect x="653.0" y="179.6" width="1.4" height="6.2" fill="#cdb63a" />
<rect x="655.2" y="179.6" width="1.4" height="6.2" fill="#cdb63a" />
<rect x="657.3" y="179.6" width="1.4" height="6.2" fill="#cdb63a" />
<rect x="659.4" y="179.6" width="1.4" height="6.2" fill="#cdb63a" />
<rect x="661.5" y="179.6" width="1.4" height="6.2" fill="#cdb63a" />
<rect x="663.6" y="179.6" width="1.4" height="6.2" fill="#cdb63a" />
<rect x="665.8" y="179.6" width="1.4" height="6.2" fill="#cdb63a" />
<polygon points="581.6,159.6 586.0,159.6 584.0,162.0" fill="#6a6a6a" />
<polygon points="677.0,159.6 672.6,159.6 674.6,162.0" fill="#6a6a6a" />
<circle cx="616.1" cy="125.5" r="7.7" fill="#1c4f1e" opacity="0.55"/>
<circle cx="615.8" cy="124.6" r="7.0" fill="#f1f1f1" />
<circle cx="616.2" cy="125.3" r="4.9" fill="#cfcfcf" />
<circle cx="616.0" cy="125.0" r="3.6" fill="#e2e2e2" />
<rect x="613.9" y="119.2" width="3.8" height="6.8" fill="#a6a6a6" rx="1.7"/>
<rect x="615.3" y="119.8" width="1.5" height="5.6" fill="#8a8a8a" rx="0.6"/>
<rect x="614.0" y="119.4" width="1.2" height="6.2" fill="#d9d9d9" rx="0.6"/>
<circle cx="634.1" cy="125.5" r="7.7" fill="#1c4f1e" opacity="0.55"/>
<circle cx="633.8" cy="124.6" r="7.0" fill="#f1f1f1" />
<circle cx="634.2" cy="125.3" r="4.9" fill="#cfcfcf" />
<circle cx="634.0" cy="125.0" r="3.6" fill="#e2e2e2" />
<rect x="631.9" y="119.2" width="3.8" height="6.8" fill="#a6a6a6" rx="1.7"/>
<rect x="633.3" y="119.8" width="1.5" height="5.6" fill="#8a8a8a" rx="0.6"/>
<rect x="632.0" y="119.4" width="1.2" height="6.2" fill="#d9d9d9" rx="0.6"/>
<rect x="579.6" y="124.4" width="6.8" height="13.4" fill="#d8d8c4" />
<rect x="580.4" y="126.6" width="5.2" height="8.8" fill="#4a4a4a" />
<rect x="595.0" y="113.0" width="4.8" height="9.0" fill="#0a0a0a" />
<rect x="592.6" y="123.8" width="7.8" height="7.6" fill="#3b4046" />
<rect x="596.4" y="135.5" width="5.4" height="3.4" fill="#d8d8c8" />
<rect x="597.4" y="135.5" width="3.4" height="3.4" fill="#0b0b0b" />
<rect x="602.2" y="135.5" width="5.4" height="3.4" fill="#d8d8c8" />
<rect x="603.2" y="135.5" width="3.4" height="3.4" fill="#0b0b0b" />
<rect x="588.3" y="135.5" width="5.4" height="3.4" fill="#d8d8c8" />
<rect x="589.3" y="135.5" width="3.4" height="3.4" fill="#0b0b0b" />
<rect x="603.3" y="120.6" width="5.4" height="3.4" fill="#d8d8c8" />
<rect x="604.3" y="120.6" width="3.4" height="3.4" fill="#0b0b0b" />
<rect x="611.8" y="135.5" width="5.4" height="3.4" fill="#d8d8c8" />
<rect x="612.8" y="135.5" width="3.4" height="3.4" fill="#0b0b0b" />
<text x="592.2" y="148.0" font-family="Liberation Sans,sans-serif" font-size="3.54" fill="#e4ece4" text-anchor="start" font-weight="bold" transform="rotate(-90 592.2 148.0)" >C41</text>
<text x="599.5" y="151.0" font-family="Liberation Sans,sans-serif" font-size="3.54" fill="#e4ece4" text-anchor="start" font-weight="bold" transform="rotate(-90 599.5 151.0)" >C110</text>
<text x="606.8" y="149.5" font-family="Liberation Sans,sans-serif" font-size="3.54" fill="#e4ece4" text-anchor="start" font-weight="bold" transform="rotate(-90 606.8 149.5)" >C83</text>
<text x="614.6" y="149.0" font-family="Liberation Sans,sans-serif" font-size="3.54" fill="#e4ece4" text-anchor="start" font-weight="bold" transform="rotate(-90 614.6 149.0)" >C72</text>
<text x="579.5" y="120.5" font-family="Liberation Sans,sans-serif" font-size="3.3" fill="#e4ece4" text-anchor="start" font-weight="bold" transform="rotate(-90 579.5 120.5)" >D9</text>
<text x="588.8" y="121.0" font-family="Liberation Sans,sans-serif" font-size="3.3" fill="#e4ece4" text-anchor="start" font-weight="bold" transform="rotate(-90 588.8 121.0)" >U12</text>
<text x="622.2" y="148.0" font-family="Liberation Mono,monospace" font-size="6.8" fill="#eef4ee" text-anchor="start" font-weight="normal" transform="rotate(-90 622.2 148.0)" textLength="12" lengthAdjust="spacingAndGlyphs" stroke="#eef4ee" stroke-width="0.24">Vin</text>
<text x="637.6" y="148.4" font-family="Liberation Mono,monospace" font-size="6.8" fill="#eef4ee" text-anchor="start" font-weight="normal" transform="rotate(-90 637.6 148.4)" textLength="12.4" lengthAdjust="spacingAndGlyphs" stroke="#eef4ee" stroke-width="0.24">GND</text>
<text x="644.0" y="131.0" font-family="Liberation Sans,sans-serif" font-size="3.3" fill="#e4ece4" text-anchor="start" font-weight="bold" transform="rotate(-90 644.0 131.0)" >TP13</text>
<circle cx="666.8" cy="132.8" r="3.4" fill="#7d6e24" />
<circle cx="666.8" cy="132.8" r="1.5" fill="#e8c24a" />
<circle cx="662.2" cy="103.2" r="13.5" fill="#1f561c" opacity="0.55"/>
<circle cx="661.9" cy="102.2" r="13.1" fill="#bfae2e" />
<circle cx="661.9" cy="102.2" r="12.3" fill="#d8c84c" />
<circle cx="662.4" cy="100.3" r="11.2" fill="#9a9a9a" />
<circle cx="662.4" cy="100.3" r="10.7" fill="#c4c4c8" />
<circle cx="662.4" cy="98.8" r="9.3" fill="#d6d6da" />
<circle cx="662.3" cy="97.4" r="7.1" fill="#e0e0e4" />
<rect x="662.9" y="92.5" width="1.3" height="4.6" fill="#7a7a7a" rx="0.5"/>
<rect x="662.9" y="99.0" width="1.3" height="4.6" fill="#7a7a7a" rx="0.5"/>
<rect x="657.9" y="97.5" width="4.6" height="1.1" fill="#9a9a9a" rx="0.5"/>
<rect x="664.5" y="97.5" width="4.6" height="1.1" fill="#9a9a9a" rx="0.5"/>
<polygon points="609.0,78.6 648.7,78.0 650.4,103.0 642.6,115.3 606.0,115.6 604.7,114.4 604.5,86.0" fill="#1a84ee" />
<polygon points="609.0,78.6 648.7,78.0 650.4,103.0 614.0,101.0" fill="#1b86f0" />
<polygon points="614.0,101.0 650.4,103.0 642.6,115.3 606.0,115.6" fill="#2389f2" />
<polygon points="609.0,78.6 614.0,101.0 606.0,115.6 604.7,114.4 604.5,86.0" fill="#1270da" />
<path d="M614.0,101.0 L650.4,103.0" stroke="#1678e2" stroke-width="0.8"/>
<circle cx="622.3" cy="86.5" r="5.6" fill="#0f6ad6" />
<circle cx="622.3" cy="86.5" r="4.3" fill="#e6f1fb" />
<circle cx="622.3" cy="86.7" r="2.6" fill="#cfe5f7" />
<circle cx="640.1" cy="86.5" r="5.6" fill="#0f6ad6" />
<circle cx="640.1" cy="86.5" r="4.3" fill="#e6f1fb" />
<circle cx="640.1" cy="86.7" r="2.6" fill="#cfe5f7" />
<text x="646.5" y="118.5" font-family="Liberation Sans,sans-serif" font-size="3.3" fill="#e4ece4" text-anchor="start" font-weight="bold" transform="rotate(-70 646.5 118.5)" >J7</text>
<rect x="350.0" y="188.7" width="3.2" height="7.0" fill="#d8d8c8" />
<rect x="350.0" y="189.7" width="3.2" height="5.0" fill="#0b0b0b" />
<rect x="366.4" y="188.7" width="3.2" height="7.0" fill="#d8d8c8" />
<rect x="366.4" y="189.7" width="3.2" height="5.0" fill="#0b0b0b" />
<rect x="375.2" y="186.9" width="3.2" height="7.0" fill="#d8d8c8" />
<rect x="375.2" y="187.9" width="3.2" height="5.0" fill="#0b0b0b" />
<text x="349.0" y="199.8" font-family="Liberation Sans,sans-serif" font-size="3.54" fill="#e4ece4" text-anchor="start" font-weight="bold" >C106</text>
<text x="365.0" y="199.8" font-family="Liberation Sans,sans-serif" font-size="3.54" fill="#e4ece4" text-anchor="start" font-weight="bold" >C107</text>
<text x="381.0" y="192.4" font-family="Liberation Sans,sans-serif" font-size="3.78" fill="#e4ece4" text-anchor="start" font-weight="bold" >C110</text>
<text x="349.0" y="203.6" font-family="Liberation Sans,sans-serif" font-size="3.3" fill="#e4ece4" text-anchor="start" font-weight="bold" >R48</text>
<text x="365.0" y="203.6" font-family="Liberation Sans,sans-serif" font-size="3.3" fill="#e4ece4" text-anchor="start" font-weight="bold" >R49</text>
<rect x="425.7" y="189.4" width="3.4" height="4.4" fill="#080808" />
<rect x="425.9" y="193.8" width="3.0" height="3.0" fill="#dcdcd0" />
<rect x="435.8" y="189.4" width="3.4" height="4.4" fill="#080808" />
<rect x="436.0" y="193.8" width="3.0" height="3.0" fill="#dcdcd0" />
<rect x="440.6" y="189.4" width="3.4" height="4.4" fill="#080808" />
<rect x="440.8" y="193.8" width="3.0" height="3.0" fill="#dcdcd0" />
<rect x="450.6" y="189.4" width="3.4" height="4.4" fill="#080808" />
<rect x="450.8" y="193.8" width="3.0" height="3.0" fill="#dcdcd0" />
<rect x="455.4" y="189.4" width="3.4" height="4.4" fill="#080808" />
<rect x="455.6" y="193.8" width="3.0" height="3.0" fill="#dcdcd0" />
<rect x="460.2" y="189.4" width="3.4" height="4.4" fill="#080808" />
<rect x="460.4" y="193.8" width="3.0" height="3.0" fill="#dcdcd0" />
<rect x="464.8" y="189.4" width="3.4" height="4.4" fill="#080808" />
<rect x="465.0" y="193.8" width="3.0" height="3.0" fill="#dcdcd0" />
<rect x="421.2" y="189.2" width="2.2" height="2.4" fill="#d8c830" />
<rect x="421.1" y="193.4" width="2.4" height="5.0" fill="#e6e6c8" />
<rect x="431.3" y="189.2" width="2.2" height="2.4" fill="#d8c830" />
<rect x="431.2" y="193.4" width="2.4" height="5.0" fill="#e6e6c8" />
<rect x="445.9" y="189.2" width="2.2" height="2.4" fill="#d8c830" />
<rect x="445.8" y="193.4" width="2.4" height="5.0" fill="#e6e6c8" />
<text x="428.6" y="208.6" font-family="Liberation Sans,sans-serif" font-size="3.78" fill="#e4ece4" text-anchor="start" font-weight="bold" transform="rotate(-90 428.6 208.6)" >R60</text>
<text x="433.5" y="208.6" font-family="Liberation Sans,sans-serif" font-size="3.78" fill="#e4ece4" text-anchor="start" font-weight="bold" transform="rotate(-90 433.5 208.6)" >R61</text>
<text x="438.4" y="208.6" font-family="Liberation Sans,sans-serif" font-size="3.78" fill="#e4ece4" text-anchor="start" font-weight="bold" transform="rotate(-90 438.4 208.6)" >R62</text>
<text x="443.3" y="208.6" font-family="Liberation Sans,sans-serif" font-size="3.78" fill="#e4ece4" text-anchor="start" font-weight="bold" transform="rotate(-90 443.3 208.6)" >R63</text>
<text x="448.2" y="208.6" font-family="Liberation Sans,sans-serif" font-size="3.78" fill="#e4ece4" text-anchor="start" font-weight="bold" transform="rotate(-90 448.2 208.6)" >R64</text>
<text x="453.1" y="208.6" font-family="Liberation Sans,sans-serif" font-size="3.78" fill="#e4ece4" text-anchor="start" font-weight="bold" transform="rotate(-90 453.1 208.6)" >R65</text>
<text x="458.0" y="208.6" font-family="Liberation Sans,sans-serif" font-size="3.78" fill="#e4ece4" text-anchor="start" font-weight="bold" transform="rotate(-90 458.0 208.6)" >R66</text>
<text x="462.9" y="208.6" font-family="Liberation Sans,sans-serif" font-size="3.78" fill="#e4ece4" text-anchor="start" font-weight="bold" transform="rotate(-90 462.9 208.6)" >R67</text>
<text x="467.8" y="208.6" font-family="Liberation Sans,sans-serif" font-size="3.78" fill="#e4ece4" text-anchor="start" font-weight="bold" transform="rotate(-90 467.8 208.6)" >R68</text>
<path d="M309.5,163.5 L307.0,163.5 L307.8,185.4 L336,185.4" stroke="#e8eee8" stroke-width="1.0" fill="none"/>
<path d="M516.4,185.4 L544.4,185.4 L544.8,181" stroke="#e8eee8" stroke-width="1.0" fill="none"/>
<polygon points="308.4,163.6 545.4,166.8 544.6,178.6 516.0,178.6 516.0,179.4 336.4,179.4 336.4,183.0 310.2,183.0" fill="#343434" />
<rect x="336.4" y="179.0" width="78.4" height="7.0" fill="#3a3a2a" />
<rect x="425.6" y="179.0" width="89.6" height="7.0" fill="#3a3a2a" />
<polygon points="308.4,163.6 545.4,166.8 545.0,171.6 309.0,169.4" fill="#2a2a2a" />
<rect x="336.6" y="171.4" width="180.0" height="6.6" fill="#1b1b1b" />
<rect x="337.6" y="179.0" width="1.8" height="7.2" fill="#cdb634" />
<rect x="340.2" y="179.0" width="1.8" height="7.2" fill="#cdb634" />
<rect x="342.8" y="179.0" width="1.8" height="7.2" fill="#cdb634" />
<rect x="345.5" y="179.0" width="1.8" height="7.2" fill="#cdb634" />
<rect x="348.1" y="179.0" width="1.8" height="7.2" fill="#cdb634" />
<rect x="350.7" y="179.0" width="1.8" height="7.2" fill="#cdb634" />
<rect x="353.3" y="179.0" width="1.8" height="7.2" fill="#cdb634" />
<rect x="355.9" y="179.0" width="1.8" height="7.2" fill="#cdb634" />
<rect x="358.6" y="179.0" width="1.8" height="7.2" fill="#cdb634" />
<rect x="361.2" y="179.0" width="1.8" height="7.2" fill="#cdb634" />
<rect x="363.8" y="179.0" width="1.8" height="7.2" fill="#cdb634" />
<rect x="366.4" y="179.0" width="1.8" height="7.2" fill="#cdb634" />
<rect x="369.0" y="179.0" width="1.8" height="7.2" fill="#cdb634" />
<rect x="371.7" y="179.0" width="1.8" height="7.2" fill="#cdb634" />
<rect x="374.3" y="179.0" width="1.8" height="7.2" fill="#cdb634" />
<rect x="376.9" y="179.0" width="1.8" height="7.2" fill="#cdb634" />
<rect x="379.5" y="179.0" width="1.8" height="7.2" fill="#cdb634" />
<rect x="382.1" y="179.0" width="1.8" height="7.2" fill="#cdb634" />
<rect x="384.8" y="179.0" width="1.8" height="7.2" fill="#cdb634" />
<rect x="387.4" y="179.0" width="1.8" height="7.2" fill="#cdb634" />
<rect x="390.0" y="179.0" width="1.8" height="7.2" fill="#cdb634" />
<rect x="392.6" y="179.0" width="1.8" height="7.2" fill="#cdb634" />
<rect x="395.2" y="179.0" width="1.8" height="7.2" fill="#cdb634" />
<rect x="397.9" y="179.0" width="1.8" height="7.2" fill="#cdb634" />
<rect x="400.5" y="179.0" width="1.8" height="7.2" fill="#cdb634" />
<rect x="403.1" y="179.0" width="1.8" height="7.2" fill="#cdb634" />
<rect x="405.7" y="179.0" width="1.8" height="7.2" fill="#cdb634" />
<rect x="408.3" y="179.0" width="1.8" height="7.2" fill="#cdb634" />
<rect x="411.0" y="179.0" width="1.8" height="7.2" fill="#cdb634" />
<rect x="426.7" y="179.0" width="1.8" height="7.2" fill="#cdb634" />
<rect x="429.3" y="179.0" width="1.8" height="7.2" fill="#cdb634" />
<rect x="431.9" y="179.0" width="1.8" height="7.2" fill="#cdb634" />
<rect x="434.5" y="179.0" width="1.8" height="7.2" fill="#cdb634" />
<rect x="437.2" y="179.0" width="1.8" height="7.2" fill="#cdb634" />
<rect x="439.8" y="179.0" width="1.8" height="7.2" fill="#cdb634" />
<rect x="442.4" y="179.0" width="1.8" height="7.2" fill="#cdb634" />
<rect x="445.0" y="179.0" width="1.8" height="7.2" fill="#cdb634" />
<rect x="447.6" y="179.0" width="1.8" height="7.2" fill="#cdb634" />
<rect x="450.3" y="179.0" width="1.8" height="7.2" fill="#cdb634" />
<rect x="452.9" y="179.0" width="1.8" height="7.2" fill="#cdb634" />
<rect x="455.5" y="179.0" width="1.8" height="7.2" fill="#cdb634" />
<rect x="458.1" y="179.0" width="1.8" height="7.2" fill="#cdb634" />
<rect x="460.7" y="179.0" width="1.8" height="7.2" fill="#cdb634" />
<rect x="463.4" y="179.0" width="1.8" height="7.2" fill="#cdb634" />
<rect x="466.0" y="179.0" width="1.8" height="7.2" fill="#cdb634" />
<rect x="468.6" y="179.0" width="1.8" height="7.2" fill="#cdb634" />
<rect x="471.2" y="179.0" width="1.8" height="7.2" fill="#cdb634" />
<rect x="473.8" y="179.0" width="1.8" height="7.2" fill="#cdb634" />
<rect x="476.5" y="179.0" width="1.8" height="7.2" fill="#cdb634" />
<rect x="479.1" y="179.0" width="1.8" height="7.2" fill="#cdb634" />
<rect x="481.7" y="179.0" width="1.8" height="7.2" fill="#cdb634" />
<rect x="484.3" y="179.0" width="1.8" height="7.2" fill="#cdb634" />
<rect x="486.9" y="179.0" width="1.8" height="7.2" fill="#cdb634" />
<rect x="489.6" y="179.0" width="1.8" height="7.2" fill="#cdb634" />
<rect x="492.2" y="179.0" width="1.8" height="7.2" fill="#cdb634" />
<rect x="494.8" y="179.0" width="1.8" height="7.2" fill="#cdb634" />
<rect x="497.4" y="179.0" width="1.8" height="7.2" fill="#cdb634" />
<rect x="500.0" y="179.0" width="1.8" height="7.2" fill="#cdb634" />
<rect x="502.7" y="179.0" width="1.8" height="7.2" fill="#cdb634" />
<rect x="505.3" y="179.0" width="1.8" height="7.2" fill="#cdb634" />
<rect x="507.9" y="179.0" width="1.8" height="7.2" fill="#cdb634" />
<rect x="510.5" y="179.0" width="1.8" height="7.2" fill="#cdb634" />
<rect x="513.1" y="179.0" width="1.8" height="7.2" fill="#cdb634" />
<rect x="338.0" y="169.8" width="1.1" height="1.6" fill="#8a8a8a" />
<rect x="340.9" y="169.8" width="1.1" height="1.6" fill="#8a8a8a" />
<rect x="343.9" y="169.8" width="1.1" height="1.6" fill="#8a8a8a" />
<rect x="346.9" y="169.8" width="1.1" height="1.6" fill="#8a8a8a" />
<rect x="349.8" y="169.8" width="1.1" height="1.6" fill="#8a8a8a" />
<rect x="352.8" y="169.8" width="1.1" height="1.6" fill="#8a8a8a" />
<rect x="355.7" y="169.8" width="1.1" height="1.6" fill="#8a8a8a" />
<rect x="358.6" y="169.8" width="1.1" height="1.6" fill="#8a8a8a" />
<rect x="361.6" y="169.8" width="1.1" height="1.6" fill="#8a8a8a" />
<rect x="364.6" y="169.8" width="1.1" height="1.6" fill="#8a8a8a" />
<rect x="367.5" y="169.8" width="1.1" height="1.6" fill="#8a8a8a" />
<rect x="370.4" y="169.8" width="1.1" height="1.6" fill="#8a8a8a" />
<rect x="373.4" y="169.8" width="1.1" height="1.6" fill="#8a8a8a" />
<rect x="376.4" y="169.8" width="1.1" height="1.6" fill="#8a8a8a" />
<rect x="379.3" y="169.8" width="1.1" height="1.6" fill="#8a8a8a" />
<rect x="382.2" y="169.8" width="1.1" height="1.6" fill="#8a8a8a" />
<rect x="385.2" y="169.8" width="1.1" height="1.6" fill="#8a8a8a" />
<rect x="388.1" y="169.8" width="1.1" height="1.6" fill="#8a8a8a" />
<rect x="391.1" y="169.8" width="1.1" height="1.6" fill="#8a8a8a" />
<rect x="394.1" y="169.8" width="1.1" height="1.6" fill="#8a8a8a" />
<rect x="397.0" y="169.8" width="1.1" height="1.6" fill="#8a8a8a" />
<rect x="399.9" y="169.8" width="1.1" height="1.6" fill="#8a8a8a" />
<rect x="402.9" y="169.8" width="1.1" height="1.6" fill="#8a8a8a" />
<rect x="405.9" y="169.8" width="1.1" height="1.6" fill="#8a8a8a" />
<rect x="408.8" y="169.8" width="1.1" height="1.6" fill="#8a8a8a" />
<rect x="411.8" y="169.8" width="1.1" height="1.6" fill="#8a8a8a" />
<rect x="414.7" y="169.8" width="1.1" height="1.6" fill="#8a8a8a" />
<rect x="417.6" y="169.8" width="1.1" height="1.6" fill="#8a8a8a" />
<rect x="420.6" y="169.8" width="1.1" height="1.6" fill="#8a8a8a" />
<rect x="423.6" y="169.8" width="1.1" height="1.6" fill="#8a8a8a" />
<rect x="426.5" y="169.8" width="1.1" height="1.6" fill="#8a8a8a" />
<rect x="429.4" y="169.8" width="1.1" height="1.6" fill="#8a8a8a" />
<rect x="432.4" y="169.8" width="1.1" height="1.6" fill="#8a8a8a" />
<rect x="435.4" y="169.8" width="1.1" height="1.6" fill="#8a8a8a" />
<rect x="438.3" y="169.8" width="1.1" height="1.6" fill="#8a8a8a" />
<rect x="441.2" y="169.8" width="1.1" height="1.6" fill="#8a8a8a" />
<rect x="444.2" y="169.8" width="1.1" height="1.6" fill="#8a8a8a" />
<rect x="447.1" y="169.8" width="1.1" height="1.6" fill="#8a8a8a" />
<rect x="450.1" y="169.8" width="1.1" height="1.6" fill="#8a8a8a" />
<rect x="453.1" y="169.8" width="1.1" height="1.6" fill="#8a8a8a" />
<rect x="456.0" y="169.8" width="1.1" height="1.6" fill="#8a8a8a" />
<rect x="458.9" y="169.8" width="1.1" height="1.6" fill="#8a8a8a" />
<rect x="461.9" y="169.8" width="1.1" height="1.6" fill="#8a8a8a" />
<rect x="464.9" y="169.8" width="1.1" height="1.6" fill="#8a8a8a" />
<rect x="467.8" y="169.8" width="1.1" height="1.6" fill="#8a8a8a" />
<rect x="470.8" y="169.8" width="1.1" height="1.6" fill="#8a8a8a" />
<rect x="473.7" y="169.8" width="1.1" height="1.6" fill="#8a8a8a" />
<rect x="476.6" y="169.8" width="1.1" height="1.6" fill="#8a8a8a" />
<rect x="479.6" y="169.8" width="1.1" height="1.6" fill="#8a8a8a" />
<rect x="482.6" y="169.8" width="1.1" height="1.6" fill="#8a8a8a" />
<rect x="485.5" y="169.8" width="1.1" height="1.6" fill="#8a8a8a" />
<rect x="488.5" y="169.8" width="1.1" height="1.6" fill="#8a8a8a" />
<rect x="491.4" y="169.8" width="1.1" height="1.6" fill="#8a8a8a" />
<rect x="494.4" y="169.8" width="1.1" height="1.6" fill="#8a8a8a" />
<rect x="497.3" y="169.8" width="1.1" height="1.6" fill="#8a8a8a" />
<rect x="500.2" y="169.8" width="1.1" height="1.6" fill="#8a8a8a" />
<rect x="503.2" y="169.8" width="1.1" height="1.6" fill="#8a8a8a" />
<rect x="506.1" y="169.8" width="1.1" height="1.6" fill="#8a8a8a" />
<rect x="509.1" y="169.8" width="1.1" height="1.6" fill="#8a8a8a" />
<rect x="512.0" y="169.8" width="1.1" height="1.6" fill="#8a8a8a" />
<polygon points="290.4,111.6 575.8,113.0 545.6,169.0 306.0,164.4" fill="#17472a" />
<polygon points="290.2,112.0 575.8,113.0 574.6,115.2 291.0,114.2" fill="#0f3a20" />
<linearGradient id="dcg" x1="0" y1="0" x2="0" y2="1"><stop offset="0" stop-color="#14462a"/><stop offset="1" stop-color="#215c35"/></linearGradient>
<polygon points="291.2,114.2 574.6,115.2 545.6,169.0 306.0,164.4" fill="url(#dcg)" />
<polygon points="288.0,122.6 335.6,122.2 336.2,136.0 334.8,141.6 290.6,142.0 288.0,137.0" fill="#cfcfdc" />
<polygon points="288.0,134.6 336.0,134.0 334.8,141.6 290.6,142.0 288.0,137.0" fill="#a9a9ba" />
<polygon points="288.0,122.6 335.6,122.2 335.8,126.0 288.0,126.4" fill="#e4e4ee" />
<rect x="303.0" y="120.8" width="5.2" height="2.6" fill="#d8d8e4" rx="1"/>
<rect x="321.8" y="120.6" width="5.4" height="2.8" fill="#d8d8e4" rx="1"/>
<rect x="291.4" y="127.0" width="4.6" height="1.6" fill="#f4f4fa" />
<rect x="296.4" y="128.2" width="1.8" height="2.0" fill="#555" />
<rect x="331.6" y="122.4" width="4.2" height="7.6" fill="#8f8f9c" />
<rect x="328.6" y="141.2" width="6.4" height="4.4" fill="#777" />
<rect x="311.2" y="141.0" width="3.4" height="2.2" fill="#9a9aa8" />
<rect x="346.0" y="126.6" width="10.6" height="3.2" fill="#6c6c6c" />
<rect x="352.0" y="121.2" width="2.8" height="5.0" fill="#7c7c7c" />
<rect x="358.6" y="121.6" width="4.6" height="4.4" fill="#222" />
<rect x="343.6" y="137.0" width="4.8" height="6.6" fill="#1a1a1a" />
<circle cx="346.0" cy="140.2" r="1.3" fill="#d86a1a" />
<rect x="350.4" y="132.0" width="2.0" height="2.0" fill="#cfd8cf" />
<rect x="350.4" y="136.6" width="2.0" height="2.0" fill="#cfd8cf" />
<rect x="350.4" y="141.6" width="2.0" height="2.0" fill="#cfd8cf" />
<rect x="354.8" y="141.6" width="2.0" height="2.0" fill="#cfd8cf" />
<rect x="359.6" y="141.6" width="2.0" height="2.0" fill="#cfd8cf" />
<rect x="352.6" y="146.6" width="2.0" height="2.0" fill="#cfd8cf" />
<rect x="358.6" y="146.6" width="2.0" height="2.0" fill="#cfd8cf" />
<rect x="364.0" y="146.6" width="2.0" height="2.0" fill="#cfd8cf" />
<rect x="369.4" y="146.6" width="2.0" height="2.0" fill="#cfd8cf" />
<rect x="368.8" y="132.6" width="3.0" height="3.0" fill="#111" />
<rect x="366.8" y="133.2" width="1.6" height="1.8" fill="#ddd" />
<rect x="330.5" y="155.6" width="3.0" height="2.8" fill="#c9cfc9" />
<rect x="335.6" y="155.6" width="3.0" height="2.8" fill="#c9cfc9" />
<rect x="345.6" y="155.6" width="3.0" height="2.8" fill="#c9cfc9" />
<rect x="350.7" y="155.6" width="3.0" height="2.8" fill="#c9cfc9" />
<rect x="360.8" y="155.6" width="3.0" height="2.8" fill="#c9cfc9" />
<rect x="365.9" y="155.6" width="3.0" height="2.8" fill="#c9cfc9" />
<rect x="375.9" y="155.6" width="3.0" height="2.8" fill="#c9cfc9" />
<rect x="381.0" y="155.6" width="3.0" height="2.8" fill="#c9cfc9" />
<rect x="386.1" y="155.6" width="3.0" height="2.8" fill="#c9cfc9" />
<rect x="396.1" y="155.6" width="3.0" height="2.8" fill="#c9cfc9" />
<rect x="401.2" y="155.6" width="3.0" height="2.8" fill="#c9cfc9" />
<rect x="406.2" y="155.6" width="3.0" height="2.8" fill="#c9cfc9" />
<rect x="331.7" y="160.4" width="3.0" height="2.8" fill="#c9cfc9" />
<rect x="336.8" y="160.4" width="3.0" height="2.8" fill="#c9cfc9" />
<rect x="346.8" y="160.4" width="3.0" height="2.8" fill="#c9cfc9" />
<rect x="351.9" y="160.4" width="3.0" height="2.8" fill="#c9cfc9" />
<rect x="362.0" y="160.4" width="3.0" height="2.8" fill="#c9cfc9" />
<rect x="367.1" y="160.4" width="3.0" height="2.8" fill="#c9cfc9" />
<rect x="377.1" y="160.4" width="3.0" height="2.8" fill="#c9cfc9" />
<rect x="382.2" y="160.4" width="3.0" height="2.8" fill="#c9cfc9" />
<rect x="387.2" y="160.4" width="3.0" height="2.8" fill="#c9cfc9" />
<rect x="397.3" y="160.4" width="3.0" height="2.8" fill="#c9cfc9" />
<rect x="402.4" y="160.4" width="3.0" height="2.8" fill="#c9cfc9" />
<rect x="407.4" y="160.4" width="3.0" height="2.8" fill="#c9cfc9" />
<rect x="337.9" y="164.4" width="5.2" height="2.2" fill="#6a6a6a" />
<rect x="355.4" y="164.4" width="5.2" height="2.2" fill="#6a6a6a" />
<rect x="370.9" y="164.4" width="5.2" height="2.2" fill="#6a6a6a" />
<rect x="383.9" y="164.4" width="5.2" height="2.2" fill="#6a6a6a" />
<rect x="395.9" y="164.4" width="5.2" height="2.2" fill="#6a6a6a" />
<polygon points="310.6,163.0 320.4,163.0 320.4,168.6 325.5,168.6 325.5,171.4 310.6,171.4" fill="#4a4a4a" />
<rect x="323.0" y="169.8" width="1.4" height="4.6" fill="#c87a4a" />
<text x="303.8" y="167.0" font-family="Liberation Sans,sans-serif" font-size="3.3" fill="#e4ece4" text-anchor="start" font-weight="bold" transform="rotate(-90 303.8 167.0)" >J5</text>
<rect x="375.6" y="119.6" width="53.4" height="25.2" fill="#6f6f6f" />
<rect x="375.6" y="119.6" width="53.4" height="16.0" fill="#8c8c8c" />
<rect x="375.6" y="119.6" width="53.4" height="1.2" fill="#9c9c9c" />
<rect x="392.0" y="144.8" width="28.0" height="3.4" fill="#222" />
<rect x="430.8" y="122.6" width="12.6" height="9.6" fill="#1e1e1e" />
<circle cx="434.4" cy="126.4" r="0.9" fill="#c85a2a" />
<circle cx="438.6" cy="126.4" r="0.9" fill="#999" />
<rect x="430.4" y="133.6" width="9.0" height="5.4" fill="#151515" />
<rect x="443.4" y="131.4" width="3.4" height="6.0" fill="#111" />
<path d="M458.4,117.4 L490.6,117.4 Q493.2,117.4 493.2,120.4 L492.8,138.4 Q492.6,141.4 489.6,141.4 L456.0,141.4 Q453.0,141.4 452.8,138.4 L455.6,120.4 Q455.8,117.4 458.4,117.4 Z" fill="#c6c6d0"/>
<rect x="455.8" y="117.8" width="37.0" height="12.2" rx="4.4" fill="#e6e6ee"/>
<rect x="458.0" y="120.4" width="32.6" height="8.2" rx="3.4" fill="#34343a"/>
<rect x="460.0" y="122.4" width="28.6" height="2.4" fill="#a4a4ae"/>
<rect x="459.4" y="125.6" width="29.8" height="2.6" rx="1.2" fill="#17171b"/>
<path d="M453.4,131.0 L492.9,131.0 L492.8,138.4 Q492.6,141.2 489.6,141.2 L456.0,141.2 Q453.0,141.2 452.9,138.4 Z" fill="#d8d8e2"/>
<rect x="465.6" y="133.4" width="2.4" height="2.2" fill="#f6f6fb" />
<rect x="479.6" y="133.4" width="2.4" height="2.2" fill="#f6f6fb" />
<rect x="491.0" y="136.6" width="3.4" height="3.6" fill="#9a9aa0" />
<circle cx="451.8" cy="138.6" r="1.7" fill="#1838d8" />
<rect x="449.6" y="137.6" width="3.2" height="2.6" fill="#1838d8" rx="1"/>
<rect x="431.4" y="140.6" width="33.4" height="11.2" fill="#6a6a6a" />
<rect x="431.4" y="140.6" width="33.4" height="6.6" fill="#8a8a8a" />
<rect x="450.6" y="147.8" width="54.2" height="14.8" fill="#3e3e3e" />
<rect x="466.0" y="145.2" width="1.0" height="2.0" fill="#8f8f8f" />
<rect x="467.9" y="145.2" width="1.0" height="2.0" fill="#8f8f8f" />
<rect x="469.9" y="145.2" width="1.0" height="2.0" fill="#8f8f8f" />
<rect x="471.9" y="145.2" width="1.0" height="2.0" fill="#8f8f8f" />
<rect x="473.8" y="145.2" width="1.0" height="2.0" fill="#8f8f8f" />
<rect x="475.8" y="145.2" width="1.0" height="2.0" fill="#8f8f8f" />
<rect x="477.7" y="145.2" width="1.0" height="2.0" fill="#8f8f8f" />
<rect x="479.6" y="145.2" width="1.0" height="2.0" fill="#8f8f8f" />
<rect x="481.6" y="145.2" width="1.0" height="2.0" fill="#8f8f8f" />
<rect x="483.6" y="145.2" width="1.0" height="2.0" fill="#8f8f8f" />
<rect x="485.5" y="145.2" width="1.0" height="2.0" fill="#8f8f8f" />
<rect x="487.4" y="145.2" width="1.0" height="2.0" fill="#8f8f8f" />
<rect x="489.4" y="145.2" width="1.0" height="2.0" fill="#8f8f8f" />
<rect x="491.4" y="145.2" width="1.0" height="2.0" fill="#8f8f8f" />
<rect x="493.3" y="145.2" width="1.0" height="2.0" fill="#8f8f8f" />
<rect x="495.2" y="145.2" width="1.0" height="2.0" fill="#8f8f8f" />
<rect x="497.2" y="145.2" width="1.0" height="2.0" fill="#8f8f8f" />
<rect x="499.1" y="145.2" width="1.0" height="2.0" fill="#8f8f8f" />
<rect x="501.1" y="145.2" width="1.0" height="2.0" fill="#8f8f8f" />
<rect x="503.1" y="145.2" width="1.0" height="2.0" fill="#8f8f8f" />
<rect x="470.6" y="159.6" width="5.6" height="0.9" fill="#d02020" />
<rect x="478.0" y="159.8" width="16.0" height="0.6" fill="#555" />
<polygon points="504.8,147.6 509.4,147.6 505.4,159.6 501.4,159.6" fill="#161616" />
<rect x="431.6" y="156.6" width="6.4" height="4.6" fill="#111" />
<rect x="446.4" y="152.0" width="3.4" height="7.0" fill="#cfd8cf" />
<rect x="433.0" y="154.8" width="2.8" height="2.0" fill="#cfd8cf" />
<rect x="440.0" y="154.8" width="2.8" height="2.0" fill="#cfd8cf" />
<rect x="501.2" y="121.2" width="5.6" height="3.6" fill="#e8e8d8" />
<rect x="496.6" y="133.6" width="4.2" height="4.6" fill="#111" />
<rect x="501.4" y="134.0" width="2.4" height="3.6" fill="#ddd" />
<rect x="512.0" y="117.0" width="32.4" height="20.2" fill="#6e6e6e" />
<rect x="512.0" y="117.0" width="32.4" height="12.6" fill="#8a8a8a" />
<rect x="512.0" y="117.0" width="32.4" height="1.2" fill="#9a9a9a" />
<rect x="541.0" y="129.4" width="18.0" height="14.4" fill="#707070" />
<rect x="541.0" y="129.4" width="18.0" height="8.0" fill="#878787" />
<rect x="548.2" y="120.6" width="4.6" height="3.4" fill="#eeeedd" />
<rect x="559.6" y="120.6" width="4.6" height="3.4" fill="#eeeedd" />
<rect x="547.4" y="118.8" width="6.2" height="6.8" fill="none" stroke="#0c2c18" stroke-width="1.2"/>
<rect x="558.8" y="118.8" width="6.2" height="6.8" fill="none" stroke="#0c2c18" stroke-width="1.2"/>
<rect x="509.6" y="137.4" width="3.4" height="5.6" fill="#0c0c0c" />
<rect x="515.2" y="139.2" width="3.0" height="4.6" fill="#0c0c0c" />
<rect x="520.8" y="141.0" width="6.4" height="3.6" fill="#0c0c0c" />
<rect x="512.4" y="150.6" width="3.2" height="6.4" fill="#0c0c0c" />
<rect x="518.6" y="152.4" width="3.0" height="5.6" fill="#0c0c0c" />
<rect x="524.0" y="148.6" width="3.0" height="7.0" fill="#0c0c0c" />
<rect x="506.4" y="163.6" width="3.2" height="4.2" fill="#0c0c0c" />
<rect x="513.4" y="163.0" width="3.4" height="5.0" fill="#0c0c0c" />
<rect x="510.2" y="143.2" width="2.6" height="1.8" fill="#d8ddd8" />
<rect x="516.0" y="144.2" width="2.4" height="1.8" fill="#d8ddd8" />
<rect x="513.0" y="157.2" width="2.6" height="2.0" fill="#d8ddd8" />
<rect x="519.2" y="158.2" width="2.4" height="2.0" fill="#d8ddd8" />
<rect x="507.0" y="161.4" width="2.6" height="1.8" fill="#d8ddd8" />
<rect x="528.6" y="150.4" width="2.4" height="4.6" fill="#d8ddd8" />
<rect x="521.4" y="146.6" width="5.8" height="1.4" fill="#c89a5a" />
<polygon points="534.4,160.6 539.4,153.2 539.4,170.0 534.4,177.2" fill="#ececec" />
<polygon points="541.6,160.0 547.6,151.6 547.6,167.6 541.6,176.6" fill="#e4e4e4" />
<polygon points="530.6,154.0 548.0,149.4 548.0,151.6 530.6,156.4" fill="#3a3a3a" />
<rect x="528.6" y="167.6" width="1.4" height="5.4" fill="#c87a4a" />
<text x="566.5" y="108.0" font-family="Liberation Sans,sans-serif" font-size="4.01" fill="#dfeadf" text-anchor="start" font-weight="bold" transform="rotate(180 566.5 108.0)" >L8 L</text>
<polygon points="322.0,360.0 369.6,360.0 370.2,415.2 322.0,415.2" fill="#4f8c33" />
<polygon points="435.0,360.0 479.4,360.0 480.0,415.2 435.0,415.2" fill="#4f8c33" />
<polygon points="555.0,360.0 589.2,360.0 589.8,415.2 555.0,415.2" fill="#4f8c33" />
<polygon points="674.0,360.0 698.2,360.0 698.8,415.2 674.0,415.2" fill="#4f8c33" />
<polygon points="326.8,358.4 367.0,358.4 367.0,364.2 328.3,364.2" fill="#1472dc" />
<rect x="326.8" y="328.2" width="40.2" height="30.2" fill="#1983ef" />
<rect x="326.8" y="328.2" width="40.2" height="6.5" fill="#2590fa" />
<rect x="330.8" y="362.4" width="4.2" height="1.8" fill="#2a8cf0" />
<rect x="339.7" y="362.4" width="4.2" height="1.8" fill="#2a8cf0" />
<rect x="348.7" y="362.4" width="4.2" height="1.8" fill="#2a8cf0" />
<rect x="357.6" y="362.4" width="4.2" height="1.8" fill="#2a8cf0" />
<circle cx="336.3" cy="347.2" r="6.0" fill="#0f6fda" />
<circle cx="336.3" cy="347.2" r="4.8" fill="#e2effa" />
<circle cx="336.5" cy="347.5" r="2.8" fill="#cbe3f6" />
<path d="M333.3,333.4 q2,-1.6 3.6,-1.2" stroke="#1270d8" stroke-width="0.7" fill="none"/>
<circle cx="356.1" cy="347.2" r="6.0" fill="#0f6fda" />
<circle cx="356.1" cy="347.2" r="4.8" fill="#e2effa" />
<circle cx="356.3" cy="347.5" r="2.8" fill="#cbe3f6" />
<path d="M353.1,333.4 q2,-1.6 3.6,-1.2" stroke="#1270d8" stroke-width="0.7" fill="none"/>
<polygon points="437.8,358.4 478.0,358.4 478.0,364.2 439.3,364.2" fill="#1472dc" />
<rect x="437.8" y="328.2" width="40.2" height="30.2" fill="#1983ef" />
<rect x="437.8" y="328.2" width="40.2" height="6.5" fill="#2590fa" />
<rect x="441.8" y="362.4" width="4.2" height="1.8" fill="#2a8cf0" />
<rect x="450.7" y="362.4" width="4.2" height="1.8" fill="#2a8cf0" />
<rect x="459.7" y="362.4" width="4.2" height="1.8" fill="#2a8cf0" />
<rect x="468.6" y="362.4" width="4.2" height="1.8" fill="#2a8cf0" />
<circle cx="449.1" cy="347.2" r="6.0" fill="#0f6fda" />
<circle cx="449.1" cy="347.2" r="4.8" fill="#e2effa" />
<circle cx="449.3" cy="347.5" r="2.8" fill="#cbe3f6" />
<path d="M446.1,333.4 q2,-1.6 3.6,-1.2" stroke="#1270d8" stroke-width="0.7" fill="none"/>
<circle cx="468.4" cy="347.2" r="6.0" fill="#0f6fda" />
<circle cx="468.4" cy="347.2" r="4.8" fill="#e2effa" />
<circle cx="468.6" cy="347.5" r="2.8" fill="#cbe3f6" />
<path d="M465.4,333.4 q2,-1.6 3.6,-1.2" stroke="#1270d8" stroke-width="0.7" fill="none"/>
<polygon points="588.0,328.2 589.8,329.7 589.8,360.2 588.0,364.2" fill="#0d66cf" />
<polygon points="552.0,358.4 588.0,358.4 588.0,364.2 553.5,364.2" fill="#1472dc" />
<rect x="552.0" y="328.2" width="36.0" height="30.2" fill="#1983ef" />
<rect x="552.0" y="328.2" width="36.0" height="6.5" fill="#2590fa" />
<rect x="556.0" y="362.4" width="4.2" height="1.8" fill="#2a8cf0" />
<rect x="563.8" y="362.4" width="4.2" height="1.8" fill="#2a8cf0" />
<rect x="571.6" y="362.4" width="4.2" height="1.8" fill="#2a8cf0" />
<rect x="579.3" y="362.4" width="4.2" height="1.8" fill="#2a8cf0" />
<circle cx="561.7" cy="346.4" r="6.0" fill="#0f6fda" />
<circle cx="561.7" cy="346.4" r="4.8" fill="#e2effa" />
<circle cx="561.9" cy="346.7" r="2.8" fill="#cbe3f6" />
<path d="M558.7,333.4 q2,-1.6 3.6,-1.2" stroke="#1270d8" stroke-width="0.7" fill="none"/>
<circle cx="579.4" cy="346.4" r="6.0" fill="#0f6fda" />
<circle cx="579.4" cy="346.4" r="4.8" fill="#e2effa" />
<circle cx="579.6" cy="346.7" r="2.8" fill="#cbe3f6" />
<path d="M576.4,333.4 q2,-1.6 3.6,-1.2" stroke="#1270d8" stroke-width="0.7" fill="none"/>
<polygon points="697.6,328.2 703.6,329.7 703.6,360.2 697.6,364.2" fill="#0d66cf" />
<polygon points="664.0,358.4 697.6,358.4 697.6,364.2 665.5,364.2" fill="#1472dc" />
<rect x="664.0" y="328.2" width="33.6" height="30.2" fill="#1983ef" />
<rect x="664.0" y="328.2" width="33.6" height="6.5" fill="#2590fa" />
<rect x="668.0" y="362.4" width="4.2" height="1.8" fill="#2a8cf0" />
<rect x="675.1" y="362.4" width="4.2" height="1.8" fill="#2a8cf0" />
<rect x="682.2" y="362.4" width="4.2" height="1.8" fill="#2a8cf0" />
<rect x="689.3" y="362.4" width="4.2" height="1.8" fill="#2a8cf0" />
<circle cx="674.9" cy="346.2" r="6.0" fill="#0f6fda" />
<circle cx="674.9" cy="346.2" r="4.8" fill="#e2effa" />
<circle cx="675.1" cy="346.5" r="2.8" fill="#cbe3f6" />
<path d="M671.9,333.4 q2,-1.6 3.6,-1.2" stroke="#1270d8" stroke-width="0.7" fill="none"/>
<circle cx="692.0" cy="346.2" r="6.0" fill="#0f6fda" />
<circle cx="692.0" cy="346.2" r="4.8" fill="#e2effa" />
<circle cx="692.2" cy="346.5" r="2.8" fill="#cbe3f6" />
<path d="M689.0,333.4 q2,-1.6 3.6,-1.2" stroke="#1270d8" stroke-width="0.7" fill="none"/>
<text x="328.8" y="373.4" font-family="Liberation Mono,monospace" font-size="7.5" fill="#eef4ee" text-anchor="start" font-weight="normal" textLength="44.4" lengthAdjust="spacingAndGlyphs" stroke="#eef4ee" stroke-width="0.27">Ext Sensor</text>
<text x="328.8" y="381.8" font-family="Liberation Mono,monospace" font-size="7.5" fill="#eef4ee" text-anchor="start" font-weight="normal" textLength="35.4" lengthAdjust="spacingAndGlyphs" stroke="#eef4ee" stroke-width="0.27">Input 1:</text>
<text x="328.8" y="390.4" font-family="Liberation Mono,monospace" font-size="7.5" fill="#eef4ee" text-anchor="start" font-weight="normal" textLength="35.6" lengthAdjust="spacingAndGlyphs" stroke="#eef4ee" stroke-width="0.27">3.3V MAX</text>
<text x="437.8" y="373.4" font-family="Liberation Mono,monospace" font-size="7.5" fill="#eef4ee" text-anchor="start" font-weight="normal" textLength="44.4" lengthAdjust="spacingAndGlyphs" stroke="#eef4ee" stroke-width="0.27">Ext Sensor</text>
<text x="437.8" y="381.8" font-family="Liberation Mono,monospace" font-size="7.5" fill="#eef4ee" text-anchor="start" font-weight="normal" textLength="35.4" lengthAdjust="spacingAndGlyphs" stroke="#eef4ee" stroke-width="0.27">Input 2:</text>
<text x="437.8" y="390.4" font-family="Liberation Mono,monospace" font-size="7.5" fill="#eef4ee" text-anchor="start" font-weight="normal" textLength="35.6" lengthAdjust="spacingAndGlyphs" stroke="#eef4ee" stroke-width="0.27">3.3V MAX</text>
<text x="545.0" y="373.4" font-family="Liberation Mono,monospace" font-size="7.5" fill="#eef4ee" text-anchor="start" font-weight="normal" textLength="44.4" lengthAdjust="spacingAndGlyphs" stroke="#eef4ee" stroke-width="0.27">Ext Sensor</text>
<text x="545.0" y="381.8" font-family="Liberation Mono,monospace" font-size="7.5" fill="#eef4ee" text-anchor="start" font-weight="normal" textLength="35.4" lengthAdjust="spacingAndGlyphs" stroke="#eef4ee" stroke-width="0.27">Input 3:</text>
<text x="545.0" y="390.4" font-family="Liberation Mono,monospace" font-size="7.5" fill="#eef4ee" text-anchor="start" font-weight="normal" textLength="35.6" lengthAdjust="spacingAndGlyphs" stroke="#eef4ee" stroke-width="0.27">3.3V MAX</text>
<text x="649.4" y="373.4" font-family="Liberation Mono,monospace" font-size="7.5" fill="#eef4ee" text-anchor="start" font-weight="normal" textLength="44.4" lengthAdjust="spacingAndGlyphs" stroke="#eef4ee" stroke-width="0.27">Ext Sensor</text>
<text x="649.4" y="381.8" font-family="Liberation Mono,monospace" font-size="7.5" fill="#eef4ee" text-anchor="start" font-weight="normal" textLength="35.4" lengthAdjust="spacingAndGlyphs" stroke="#eef4ee" stroke-width="0.27">Input 4:</text>
<text x="649.4" y="390.4" font-family="Liberation Mono,monospace" font-size="7.5" fill="#eef4ee" text-anchor="start" font-weight="normal" textLength="35.6" lengthAdjust="spacingAndGlyphs" stroke="#eef4ee" stroke-width="0.27">3.3V MAX</text>
<text x="370.0" y="336.0" font-family="Liberation Sans,sans-serif" font-size="3.07" fill="#e4ece4" text-anchor="start" font-weight="bold" transform="rotate(-90 370.0 336.0)" >J2</text>
<text x="481.0" y="336.0" font-family="Liberation Sans,sans-serif" font-size="3.07" fill="#e4ece4" text-anchor="start" font-weight="bold" transform="rotate(-90 481.0 336.0)" >J3</text>
<circle cx="371.0" cy="414.4" r="15.1" fill="#1f561c" opacity="0.55"/>
<circle cx="370.7" cy="413.4" r="14.7" fill="#bfae2e" />
<circle cx="370.7" cy="413.4" r="13.9" fill="#d8c84c" />
<circle cx="370.5" cy="413.6" r="12.8" fill="#9a9a9a" />
<circle cx="370.5" cy="413.6" r="12.3" fill="#c4c4c8" />
<circle cx="370.1" cy="413.1" r="10.9" fill="#d6d6da" />
<circle cx="369.7" cy="412.8" r="8.7" fill="#e0e0e4" />
<circle cx="680.5" cy="414.9" r="15.4" fill="#1f561c" opacity="0.55"/>
<circle cx="680.2" cy="413.9" r="15.0" fill="#bfae2e" />
<circle cx="680.2" cy="413.9" r="14.2" fill="#d8c84c" />
<circle cx="681.7" cy="413.1" r="13.1" fill="#9a9a9a" />
<circle cx="681.7" cy="413.1" r="12.6" fill="#c4c4c8" />
<circle cx="682.2" cy="412.1" r="11.2" fill="#d6d6da" />
<circle cx="682.6" cy="411.3" r="9.0" fill="#e0e0e4" />
<rect x="684.4" y="405.6" width="1.3" height="5.6" fill="#7a7a7a" rx="0.5"/>
<rect x="684.4" y="413.1" width="1.3" height="5.6" fill="#7a7a7a" rx="0.5"/>
<rect x="678.4" y="411.6" width="5.6" height="1.1" fill="#9a9a9a" rx="0.5"/>
<rect x="686.0" y="411.6" width="5.6" height="1.1" fill="#9a9a9a" rx="0.5"/>
<circle cx="488.4" cy="419.0" r="4.2" fill="#7d6e24" />
<circle cx="488.4" cy="419.0" r="1.9" fill="#e8c24a" />
<rect x="393.7" y="330.0" width="1.0" height="102.0" fill="#e8eee8" />
<rect x="503.1" y="330.0" width="1.0" height="102.0" fill="#e8eee8" />
<rect x="610.9" y="330.0" width="1.0" height="102.0" fill="#e8eee8" />
<path d="M280.8,325.6 L317.4,325.6 L322.6,331.2 L323.2,430.4 Q323.2,433.2 320.4,433.2 L284.6,433.2 Q277.8,433.2 277.6,426.2 L276.8,329.6 Q276.8,325.6 280.8,325.6 Z" fill="#2e2e2e"/>
<path d="M316.4,326.2 L317.4,325.6 L322.6,331.2 L323.2,430.4 Q323.2,433.2 320.4,433.2 L317.4,433.2 Z" fill="#434343"/>
<rect x="296" y="327" width="20.4" height="105" fill="#383838" opacity="0.8"/>
<linearGradient id="ct2g" x1="0" y1="0" x2="1" y2="0"><stop offset="0" stop-color="#333333"/><stop offset="0.6" stop-color="#393939"/><stop offset="1" stop-color="#414141"/></linearGradient>
<path d="M397.6,325.2 L432.4,325.2 Q434.4,325.2 434.4,327.4 L435.8,430.8 Q435.8,433.0 433.6,433.0 L397.8,433.0 Q395.4,433.0 395.4,430.8 L395.1,327.4 Q395.1,325.2 397.6,325.2 Z" fill="url(#ct2g)"/>
<linearGradient id="ct3g" x1="0" y1="0" x2="1" y2="0"><stop offset="0" stop-color="#2a2a2a"/><stop offset="0.35" stop-color="#3a3a3a"/><stop offset="0.62" stop-color="#4b4b4b"/><stop offset="0.9" stop-color="#3b3b3b"/><stop offset="1" stop-color="#303030"/></linearGradient>
<path d="M510,325.2 L546,325.2 Q556.8,326 556.8,338 L556.8,419 Q556.8,430.6 546,431.2 L510,431.6 Q502.8,431.6 502.6,424 L502.2,333 Q502.2,325.2 510,325.2 Z" fill="url(#ct3g)"/>
<path d="M510,325.2 Q502.2,325.2 502.2,333 L502.6,424 Q502.8,431.6 510,431.6 L511,431.6 Q525,418 525,378 Q525,338 511,325.2 Z" fill="#262626"/>
<ellipse cx="507.6" cy="377" rx="2.4" ry="9.5" fill="#141414"/>
<ellipse cx="508.2" cy="377" rx="1.1" ry="6.5" fill="#3c3c3c"/>
<linearGradient id="ct4g" x1="0" y1="0" x2="1" y2="0"><stop offset="0" stop-color="#2a2a2a"/><stop offset="0.45" stop-color="#383838"/><stop offset="0.72" stop-color="#4a4a4a"/><stop offset="0.92" stop-color="#3a3a3a"/><stop offset="1" stop-color="#2e2e2e"/></linearGradient>
<path d="M622,324.6 L650,324.4 Q672,327 675.9,350 L676.0,398 Q675.4,416 668,427 Q664,430.6 656,430.6 L622,430.6 Q610.8,430.4 610.6,420 L610.4,336 Q610.4,325 622,324.6 Z" fill="url(#ct4g)"/>
<path d="M622,324.6 Q610.4,325 610.4,336 L610.6,420 Q610.8,430.4 622,430.6 L623,430.6 Q643,416 643,377 Q643,339 623,324.6 Z" fill="#292929"/>
<ellipse cx="625.2" cy="375.4" rx="4.8" ry="12.2" fill="#161616"/>
<ellipse cx="626.2" cy="375.4" rx="2.6" ry="9.4" fill="#4a4a4a"/>
<text x="392.4" y="393.2" font-family="Liberation Sans,sans-serif" font-size="10.4" fill="#f2f5f2" text-anchor="start" font-weight="bold" transform="rotate(-90 392.4 393.2)" >CT2</text>
<text x="500.8" y="393.2" font-family="Liberation Sans,sans-serif" font-size="10.4" fill="#f2f5f2" text-anchor="start" font-weight="bold" transform="rotate(-90 500.8 393.2)" >CT3</text>
<text x="607.2" y="393.2" font-family="Liberation Sans,sans-serif" font-size="10.4" fill="#f2f5f2" text-anchor="start" font-weight="bold" transform="rotate(-90 607.2 393.2)" >CT4</text>
<circle cx="391.4" cy="357.6" r="0.8" fill="#e8eee8" />
<circle cx="499.4" cy="357.6" r="0.8" fill="#e8eee8" />
<circle cx="606.4" cy="357.6" r="0.8" fill="#e8eee8" />
<text x="385.0" y="428.0" font-family="Liberation Sans,sans-serif" font-size="3.07" fill="#e4ece4" text-anchor="start" font-weight="bold" transform="rotate(-90 385.0 428.0)" >T2</text>
<text x="492.5" y="428.0" font-family="Liberation Sans,sans-serif" font-size="3.07" fill="#e4ece4" text-anchor="start" font-weight="bold" transform="rotate(-90 492.5 428.0)" >T3</text>
<text x="600.5" y="428.0" font-family="Liberation Sans,sans-serif" font-size="3.07" fill="#e4ece4" text-anchor="start" font-weight="bold" transform="rotate(-90 600.5 428.0)" >T4</text>
<path d="M272.8,381.2 Q260.5,392 260.2,449.4" stroke="#ee1111" stroke-width="5.6" fill="none"/>
<path d="M320.2,381.6 Q334.5,392 336.2,449.4" stroke="#ee1111" stroke-width="5.6" fill="none"/>
<polygon points="260.2,457.6 266.6,467.2 253.8,467.2" fill="#ee1111" />
<rect x="258.0" y="466.6" width="4.4" height="15.2" fill="#ee1111" />
<polygon points="337.4,483.4 343.8,473.6 331.0,473.6" fill="#ee1111" />
<rect x="335.2" y="456.8" width="4.4" height="17.2" fill="#ee1111" />
<text x="295.8" y="501.6" font-family="Liberation Sans,sans-serif" font-size="13.8" fill="#111" text-anchor="middle" font-weight="normal" >String Current</text>
<path d="M700.4,433.2 L699.6,414.8" stroke="#f01818" stroke-width="1.4"/>
<polygon points="699.6,411.6 701.4,416.4 697.8,416.6" fill="#f01818" />
<text x="698.4" y="409.6" font-family="Liberation Sans,sans-serif" font-size="7.2" fill="#ee2222" text-anchor="start" font-weight="bold" transform="rotate(-80 698.4 409.6)" >X</text>
<path d="M700.4,433.6 L670.4,434.2" stroke="#22dd22" stroke-width="1.8"/>
<circle cx="677.0" cy="434.0" r="1.4" fill="#22dd22" />
<text x="668.0" y="436.6" font-family="Liberation Sans,sans-serif" font-size="5.4" fill="#22dd22" text-anchor="start" font-weight="bold" transform="rotate(-10 668.0 436.6)" >Y</text>
<path d="M700.6,433.4 L705.8,433.8" stroke="#101060" stroke-width="1.2"/>
<circle cx="705.8" cy="433.8" r="2.3" fill="#1010c8" />
<text x="710.6" y="443.4" font-family="Liberation Sans,sans-serif" font-size="8.0" fill="#1a1ac8" text-anchor="start" font-weight="bold" transform="rotate(-10 710.6 443.4)" font-style="italic">Z</text>
</svg></body></html>
